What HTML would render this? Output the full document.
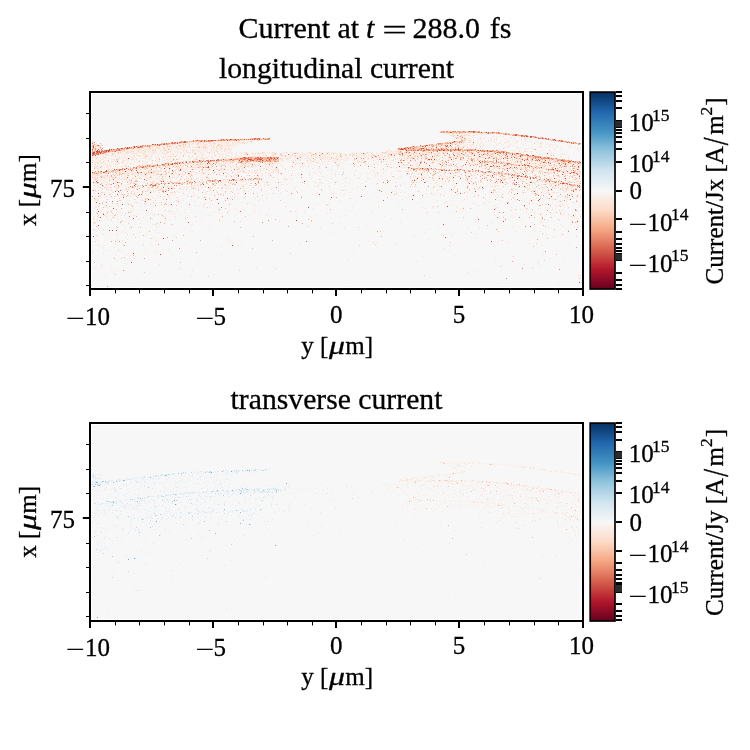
<!DOCTYPE html>
<html lang="en"><head><meta charset="utf-8"><title>Current at t = 288.0 fs</title>
<style>html,body{margin:0;padding:0;background:#fff}svg{display:block}text{fill:#000;stroke:#000;stroke-width:.3px}</style></head><body>
<svg width="750" height="750" viewBox="0 0 750 750" font-family="'Liberation Serif', 'DejaVu Serif', serif">
<defs><linearGradient id="cb" x1="0" y1="1" x2="0" y2="0"><stop offset="0.0" stop-color="#67001f"/><stop offset="0.1" stop-color="#b2182b"/><stop offset="0.2" stop-color="#d6604d"/><stop offset="0.3" stop-color="#f4a582"/><stop offset="0.4" stop-color="#fddbc7"/><stop offset="0.5" stop-color="#f7f7f7"/><stop offset="0.6" stop-color="#d1e5f0"/><stop offset="0.7" stop-color="#92c5de"/><stop offset="0.8" stop-color="#4393c3"/><stop offset="0.9" stop-color="#2166ac"/><stop offset="1.0" stop-color="#053061"/></linearGradient></defs>
<rect width="750" height="750" fill="#fff"/>
<g font-size="30.0"><text x="238.4" y="37.9">Current at</text><text x="366" y="37.9" font-style="italic">t</text><text transform="translate(382.22,39.1) scale(1.46,0.88)" stroke="none">=</text><text x="412.6" y="37.9">288.0</text><text x="489.8" y="37.9">fs</text></g>
<rect x="92.2" y="94.1" width="488.5" height="192.7" fill="#f7f7f7"/>
<g stroke-width="1" fill="none" shape-rendering="crispEdges" transform="translate(0,0.5)"><path stroke="#f8f1ed" d="M466 132h1M446 133h1M465 133h1M447 134h1M465 134h1M487 134h1M489 134h1M501 134h1M481 135h1M506 135h1M455 136h1M473 136h1M495 136h1M503 136h1M460 137h1M464 137h1M466 137h1M472 137h1M477 137h1M497 137h1M508 137h1M512 137h2M527 137h1M529 137h1M478 138h2M512 138h1M459 139h1M481 139h1M492 139h1M513 139h1M240 140h1M496 140h1M509 140h1M518 140h1M186 141h1M225 141h1M471 141h1M473 141h1M484 141h1M528 141h1M530 141h1M541 141h1M545 141h1M190 142h1M206 142h1M210 142h1M212 142h1M225 142h1M240 142h2M249 142h1M465 142h1M468 142h1M481 142h1M485 142h2M498 142h1M504 142h1M514 142h1M187 143h1M191 143h1M205 143h1M211 143h1M229 143h2M236 143h1M239 143h1M470 143h1M531 143h1M562 143h1M171 144h1M177 144h1M179 144h1M182 144h1M211 144h1M223 144h1M241 144h1M498 144h1M532 144h1M161 145h1M163 145h1M173 145h2M182 145h1M187 145h1M216 145h1M219 145h1M228 145h1M460 145h1M463 145h1M466 145h1M501 145h1M522 145h2M151 146h1M153 146h1M171 146h1M173 146h1M195 146h1M218 146h1M225 146h1M456 146h1M478 146h1M492 146h1M495 146h1M501 146h1M505 146h1M530 146h1M556 146h1M136 147h1M168 147h1M171 147h1M215 147h1M465 147h1M472 147h1M484 147h1M486 147h1M489 147h1M500 147h1M506 147h2M518 147h1M522 147h1M529 147h2M532 147h1M545 147h2M548 147h1M558 147h1M154 148h1M160 148h1M185 148h1M187 148h2M230 148h1M476 148h1M489 148h1M494 148h1M496 148h1M498 148h1M505 148h1M545 148h1M562 148h1M566 148h1M571 148h1M573 148h1M125 149h1M134 149h1M137 149h1M181 149h1M191 149h1M206 149h1M478 149h1M483 149h1M524 149h1M549 149h1M560 149h1M128 150h1M149 150h1M162 150h1M178 150h1M210 150h1M431 150h1M501 150h1M504 150h1M542 150h1M548 150h1M574 150h1M164 151h1M196 151h1M203 151h2M219 151h1M226 151h1M403 151h1M411 151h1M425 151h1M438 151h1M441 151h1M443 151h1M506 151h1M521 151h1M528 151h1M540 151h1M553 151h1M556 151h2M560 151h1M564 151h1M111 152h1M115 152h1M137 152h1M160 152h1M172 152h1M183 152h1M198 152h2M204 152h1M226 152h1M237 152h2M241 152h1M255 152h1M299 152h1M312 152h1M316 152h1M323 152h1M329 152h2M335 152h1M337 152h1M339 152h1M351 152h1M364 152h1M366 152h1M373 152h1M393 152h1M421 152h1M475 152h1M480 152h1M520 152h1M525 152h1M545 152h1M561 152h1M119 153h1M154 153h1M174 153h2M180 153h1M244 153h2M261 153h1M277 153h1M319 153h1M324 153h1M342 153h1M354 153h2M391 153h1M403 153h1M407 153h1M432 153h1M445 153h1M467 153h1M483 153h1M494 153h1M522 153h1M529 153h1M532 153h1M538 153h1M551 153h1M566 153h1M102 154h1M104 154h1M111 154h1M119 154h1M130 154h1M138 154h1M177 154h1M227 154h1M258 154h2M261 154h1M264 154h1M268 154h1M279 154h1M290 154h1M299 154h1M303 154h1M318 154h1M320 154h1M322 154h1M336 154h1M341 154h2M351 154h1M357 154h1M366 154h2M369 154h2M375 154h1M428 154h1M436 154h1M477 154h1M495 154h1M511 154h1M519 154h1M533 154h1M537 154h1M563 154h1M99 155h1M109 155h1M126 155h1M167 155h1M170 155h1M186 155h1M210 155h1M239 155h1M245 155h1M252 155h1M296 155h1M320 155h1M333 155h1M338 155h1M358 155h1M376 155h1M385 155h1M448 155h1M452 155h1M461 155h1M469 155h1M488 155h1M492 155h1M506 155h1M538 155h1M542 155h2M550 155h1M559 155h1M561 155h1M567 155h1M107 156h1M111 156h1M141 156h1M143 156h1M169 156h1M185 156h1M237 156h1M262 156h1M271 156h1M273 156h1M279 156h1M294 156h1M312 156h1M326 156h1M344 156h1M347 156h1M367 156h1M369 156h1M397 156h1M409 156h1M411 156h1M423 156h1M441 156h1M448 156h2M485 156h1M488 156h1M497 156h1M504 156h1M111 157h1M120 157h3M141 157h1M143 157h1M213 157h1M216 157h1M236 157h1M238 157h1M284 157h1M297 157h3M308 157h2M314 157h1M346 157h1M352 157h1M357 157h1M370 157h1M385 157h1M389 157h1M394 157h3M407 157h1M444 157h1M466 157h1M497 157h1M525 157h1M552 157h1M104 158h1M117 158h1M122 158h1M141 158h1M171 158h1M189 158h1M191 158h1M210 158h1M214 158h1M317 158h2M325 158h1M334 158h1M344 158h1M350 158h1M365 158h1M373 158h1M411 158h1M436 158h1M441 158h1M481 158h1M484 158h1M498 158h2M504 158h1M518 158h1M110 159h1M119 159h1M125 159h1M142 159h1M279 159h1M297 159h1M309 159h1M322 159h1M327 159h1M332 159h1M334 159h1M339 159h1M356 159h1M358 159h1M368 159h1M375 159h1M387 159h1M402 159h1M410 159h1M424 159h1M446 159h1M450 159h1M467 159h1M490 159h1M494 159h1M507 159h1M515 159h1M93 160h1M111 160h1M122 160h1M132 160h1M167 160h1M281 160h2M296 160h1M298 160h1M313 160h1M320 160h1M323 160h1M327 160h1M338 160h1M360 160h1M386 160h1M435 160h1M449 160h1M460 160h1M465 160h1M488 160h1M523 160h1M555 160h1M97 161h1M118 161h1M124 161h1M143 161h2M156 161h1M161 161h1M180 161h1M220 161h1M252 161h1M281 161h1M317 161h1M319 161h1M336 161h1M344 161h1M368 161h1M370 161h1M378 161h2M398 161h1M412 161h1M419 161h1M435 161h1M441 161h1M458 161h1M467 161h1M471 161h1M507 161h1M535 161h1M547 161h1M108 162h1M181 162h1M221 162h1M225 162h1M227 162h1M243 162h1M250 162h1M264 162h1M320 162h1M322 162h1M342 162h1M346 162h1M355 162h1M360 162h1M365 162h1M378 162h1M443 162h1M464 162h1M470 162h1M529 162h1M555 162h1M96 163h1M186 163h1M203 163h1M211 163h1M224 163h1M233 163h1M268 163h1M301 163h1M305 163h1M314 163h1M347 163h1M416 163h1M455 163h1M471 163h1M577 163h1M129 164h1M178 164h1M190 164h1M195 164h1M218 164h1M237 164h1M251 164h1M259 164h1M271 164h1M291 164h1M303 164h1M312 164h3M356 164h1M360 164h1M378 164h1M391 164h1M424 164h1M430 164h1M451 164h1M458 164h1M493 164h1M495 164h1M518 164h1M521 164h1M531 164h2M534 164h1M536 164h1M539 164h1M560 164h1M562 164h1M236 165h1M259 165h1M266 165h1M274 165h1M282 165h1M289 165h1M311 165h1M332 165h1M356 165h1M373 165h1M382 165h1M390 165h1M414 165h1M465 165h1M467 165h1M477 165h1M502 165h1M565 165h1M568 165h1M571 165h1M578 165h1M135 166h1M156 166h1M255 166h1M289 166h1M293 166h1M317 166h1M346 166h1M383 166h1M412 166h1M415 166h1M427 166h1M462 166h1M471 166h1M506 166h1M512 166h1M526 166h1M558 166h2M571 166h1M116 167h1M122 167h1M125 167h1M127 167h1M137 167h1M169 167h1M220 167h1M223 167h1M226 167h1M229 167h1M238 167h1M242 167h1M250 167h1M289 167h1M297 167h1M306 167h1M410 167h1M433 167h1M501 167h1M556 167h1M563 167h1M567 167h1M165 168h1M189 168h1M205 168h1M226 168h1M230 168h1M232 168h1M270 168h1M284 168h1M299 168h1M308 168h1M313 168h1M347 168h1M464 168h2M483 168h1M511 168h1M532 168h1M103 169h1M105 169h1M112 169h1M127 169h1M131 169h1M134 169h1M142 169h1M171 169h1M188 169h1M207 169h1M212 169h1M223 169h1M226 169h1M245 169h1M265 169h1M284 169h1M317 169h1M326 169h1M330 169h1M345 169h1M531 169h1M547 169h1M557 169h1M572 169h1M127 170h1M154 170h1M165 170h1M226 170h2M229 170h1M234 170h1M262 170h1M284 170h1M290 170h1M385 170h1M391 170h1M394 170h1M418 170h1M427 170h1M437 170h3M453 170h1M455 170h1M482 170h1M521 170h1M534 170h1M124 171h1M136 171h1M147 171h1M188 171h1M204 171h1M227 171h1M236 171h1M252 171h1M275 171h2M288 171h1M317 171h1M358 171h1M384 171h2M412 171h1M466 171h1M476 171h1M510 171h1M528 171h1M556 171h1M560 171h1M570 171h1M143 172h1M145 172h1M161 172h1M163 172h1M179 172h1M184 172h1M206 172h1M219 172h1M234 172h1M240 172h1M271 172h1M281 172h1M366 172h2M474 172h1M526 172h1M530 172h1M579 172h1M99 173h1M114 173h1M133 173h1M155 173h1M178 173h1M193 173h1M212 173h1M227 173h1M235 173h1M243 173h1M250 173h1M265 173h1M274 173h1M319 173h1M369 173h1M381 173h1M390 173h1M418 173h1M455 173h1M478 173h1M480 173h1M492 173h1M534 173h1M539 173h1M546 173h2M96 174h1M102 174h1M154 174h1M196 174h1M206 174h1M211 174h1M224 174h1M280 174h1M383 174h1M443 174h1M464 174h1M495 174h1M507 174h1M533 174h1M548 174h1M147 175h1M155 175h1M188 175h1M245 175h1M258 175h1M358 175h1M387 175h1M395 175h1M435 175h1M475 175h1M481 175h1M533 175h1M554 175h1M564 175h1M97 176h1M149 176h1M205 176h1M214 176h1M274 176h1M279 176h1M299 176h1M335 176h1M373 176h1M375 176h1M457 176h1M461 176h1M473 176h1M475 176h1M484 176h1M501 176h1M519 176h1M578 176h1M130 177h1M147 177h1M177 177h1M189 177h1M200 177h1M235 177h1M245 177h1M251 177h1M256 177h1M261 177h1M265 177h1M284 177h1M309 177h1M381 177h1M450 177h1M499 177h1M543 177h1M580 177h1M159 178h1M165 178h1M172 178h1M200 178h1M211 178h1M241 178h1M243 178h1M293 178h1M302 178h1M378 178h1M424 178h1M448 178h1M512 178h1M515 178h1M521 178h1M538 178h1M98 179h1M103 179h1M108 179h1M117 179h1M125 179h1M152 179h1M159 179h1M164 179h1M182 179h1M197 179h1M230 179h1M283 179h1M285 179h1M340 179h1M353 179h1M382 179h1M386 179h1M420 179h1M494 179h1M512 179h1M532 179h1M94 180h1M110 180h1M134 180h1M141 180h1M152 180h1M165 180h1M240 180h1M263 180h1M303 180h1M338 180h1M351 180h1M374 180h1M392 180h1M402 180h1M459 180h1M492 180h1M502 180h1M506 180h1M524 180h1M526 180h1M563 180h1M566 180h1M101 181h1M189 181h1M223 181h1M227 181h2M233 181h1M243 181h1M257 181h1M263 181h1M283 181h1M312 181h1M350 181h1M376 181h1M462 181h1M503 181h1M526 181h1M570 181h1M575 181h1M92 182h1M96 182h1M116 182h1M122 182h1M136 182h2M139 182h1M239 182h1M242 182h1M276 182h1M400 182h1M526 182h1M538 182h1M95 183h1M129 183h1M136 183h1M193 183h1M199 183h2M268 183h1M278 183h1M294 183h1M347 183h1M403 183h1M432 183h1M531 183h1M185 184h1M188 184h1M194 184h1M255 184h1M276 184h1M298 184h1M349 184h1M397 184h1M404 184h1M466 184h1M480 184h1M538 184h1M547 184h1M557 184h1M105 185h1M109 185h1M173 185h1M191 185h1M200 185h1M222 185h1M237 185h1M258 185h1M379 185h1M423 185h1M489 185h1M498 185h1M509 185h1M513 185h1M532 185h2M120 186h1M125 186h1M170 186h1M214 186h2M230 186h1M373 186h1M416 186h1M427 186h1M457 186h1M552 186h1M563 186h1M568 186h1M571 186h1M102 187h1M121 187h1M125 187h1M215 187h1M242 187h1M275 187h1M306 187h1M334 187h1M526 187h1M529 187h1M548 187h1M553 187h1M555 187h1M569 187h1M574 187h1M128 188h1M132 188h1M147 188h1M155 188h1M251 188h1M280 188h1M329 188h1M371 188h1M428 188h1M445 188h1M553 188h1M94 189h1M113 189h1M123 189h1M152 189h1M158 189h1M169 189h1M173 189h1M181 189h1M212 189h1M246 189h1M256 189h1M312 189h1M336 189h1M346 189h1M397 189h1M446 189h1M472 189h1M479 189h1M490 189h1M518 189h1M536 189h1M574 189h1M92 190h1M107 190h1M122 190h1M124 190h1M155 190h1M167 190h1M195 190h1M249 190h1M266 190h1M462 190h1M465 190h1M499 190h1M575 190h1M95 191h1M111 191h1M137 191h2M141 191h1M202 191h1M210 191h1M253 191h1M297 191h1M310 191h1M384 191h1M391 191h1M400 191h1M421 191h1M458 191h1M537 191h1M233 192h1M239 192h1M268 192h1M367 192h1M485 192h1M492 192h1M117 193h1M159 193h1M181 193h1M213 193h1M223 193h2M256 193h1M264 193h1M280 193h1M373 193h1M435 193h1M502 193h1M551 193h1M561 193h1M567 193h1M120 194h1M142 194h1M189 194h1M316 194h2M355 194h2M359 194h1M380 194h1M509 194h1M546 194h1M564 194h1M97 195h1M119 195h2M130 195h1M139 195h1M147 195h1M159 195h1M503 195h1M510 195h1M539 195h1M125 196h1M128 196h1M193 196h1M255 196h1M316 196h1M398 196h1M406 196h1M448 196h1M527 196h1M94 197h1M101 197h1M113 197h1M157 197h1M191 197h1M419 197h1M451 197h1M523 197h1M557 197h1M569 197h1M99 198h1M114 198h1M151 198h1M162 198h1M282 198h2M287 198h1M359 198h1M530 198h1M535 198h1M567 198h1M140 199h1M146 199h1M262 199h1M369 199h1M390 199h1M516 199h1M544 199h1M183 200h1M197 200h1M215 200h1M423 200h1M516 200h1M559 200h1M95 201h1M114 201h1M116 201h1M125 201h1M135 201h1M174 201h1M244 201h1M276 201h1M556 201h1M95 202h1M151 202h1M202 202h1M329 202h1M355 202h1M98 203h1M125 203h1M131 203h1M160 203h1M255 203h1M297 203h1M314 203h1M321 203h1M431 203h1M509 203h1M568 203h1M202 204h1M231 204h1M244 204h1M296 204h1M458 204h1M533 204h1M572 204h1M194 205h1M470 205h1M159 206h1M165 206h1M195 206h1M106 207h1M334 207h1M373 207h1M379 207h1M434 207h1M463 207h2M525 207h1M572 207h1M112 208h1M141 208h1M228 208h1M296 208h1M344 208h1M352 208h1M460 208h1M541 208h1M552 208h1M103 209h1M225 209h1M408 209h1M528 209h1M117 210h1M169 210h1M180 210h1M261 210h1M321 210h1M327 210h1M350 210h1M545 210h1M93 211h1M141 211h1M167 211h1M254 211h1M278 211h1M420 211h1M478 211h1M564 211h1M574 211h1M135 212h1M161 212h1M199 212h1M216 212h1M222 212h1M329 212h1M331 212h1M428 212h1M502 212h1M524 212h1M569 212h1M577 212h1M132 213h1M180 213h1M185 213h1M241 213h1M511 213h1M104 214h1M137 214h1M235 214h1M417 214h1M426 214h1M448 214h1M453 214h1M547 214h1M561 214h1M574 214h1M295 215h1M496 215h1M510 215h1M110 216h1M200 216h1M269 216h1M341 216h1M561 216h1M576 216h2M99 217h1M309 217h1M343 217h1M137 218h1M541 218h1M92 219h1M185 219h1M346 219h1M376 219h1M573 219h1M166 220h1M271 220h1M423 220h1M451 220h1M532 220h1M560 220h1M578 220h1M146 221h1M170 221h1M185 221h1M192 221h1M196 221h1M210 221h1M267 222h1M358 222h1M383 222h1M501 222h1M545 222h1M567 222h1M134 223h1M378 223h1M114 224h1M135 224h1M193 224h1M329 224h1M414 224h1M449 224h1M561 224h1M576 224h1M300 225h1M518 226h1M105 227h2M108 227h1M381 227h1M459 227h1M488 227h1M100 228h1M115 228h1M174 228h1M366 228h1M499 228h1M370 229h1M387 230h1M400 230h1M446 230h1M121 231h1M176 231h1M224 231h1M563 231h1M133 232h1M177 232h1M529 232h1M99 233h1M146 233h1M314 233h1M338 233h1M540 233h1M566 233h2M565 234h1M152 236h1M208 236h1M243 236h1M423 237h1M483 237h1M107 239h1M156 239h1M493 239h1M138 240h1M151 240h1M350 240h1M498 240h1M509 240h1M156 241h1M480 241h1M120 242h1M166 242h1M497 242h1M553 242h1M111 243h1M122 243h1M141 243h1M181 243h1M114 244h1M490 244h1M156 245h1M551 245h1M462 246h1M551 246h1M191 247h1M358 247h1M369 247h1M118 248h1M122 250h1M185 250h1M576 250h1M560 251h1M576 251h1M120 252h1M168 252h1M184 253h1M196 253h1M279 253h1M460 253h1M530 254h1M127 255h1M544 255h1M312 256h1M324 257h1M421 258h1M105 261h1M473 261h1M493 261h1M564 261h1M159 263h1M409 263h1M527 263h1M111 266h1M239 266h1M123 267h1M148 268h1M181 269h1M206 269h1M97 270h1M318 270h1M388 271h1M570 272h1M519 273h1M396 275h1M102 276h1M271 276h1M469 276h1M237 277h1M560 277h1M93 281h1M137 281h1M550 281h1M114 284h1M231 286h1"/><path stroke="#f9ece4" d="M445 133h1M470 133h1M472 133h1M485 133h1M446 134h1M450 134h2M456 134h1M458 134h2M467 134h1M473 134h1M477 134h1M450 135h1M463 135h1M465 135h1M469 135h1M483 135h1M500 135h1M509 135h1M452 136h1M457 136h1M462 136h1M471 136h1M481 136h1M493 136h1M498 136h1M502 136h1M511 136h1M517 136h1M454 137h1M478 137h1M493 137h1M510 137h1M515 137h1M524 137h1M459 138h1M484 138h1M493 138h1M511 138h1M464 139h1M466 139h3M471 139h1M486 139h1M506 139h1M510 139h1M514 139h1M529 139h1M533 139h1M542 139h1M237 140h1M244 140h2M247 140h1M249 140h2M253 140h1M466 140h1M476 140h1M493 140h1M514 140h1M516 140h1M213 141h2M216 141h1M219 141h2M222 141h1M226 141h1M228 141h3M233 141h1M237 141h2M240 141h1M243 141h1M248 141h2M252 141h1M464 141h3M475 141h1M489 141h1M500 141h1M510 141h1M531 141h1M534 141h1M559 141h1M188 142h1M191 142h4M196 142h1M199 142h2M213 142h1M216 142h1M218 142h4M227 142h1M230 142h1M234 142h1M245 142h2M250 142h1M466 142h1M470 142h1M474 142h1M478 142h1M480 142h1M487 142h1M495 142h1M497 142h1M509 142h1M533 142h1M537 142h1M539 142h1M545 142h1M562 142h1M190 143h1M195 143h2M199 143h1M203 143h1M206 143h2M217 143h1M220 143h1M222 143h3M227 143h1M241 143h1M243 143h1M247 143h1M455 143h1M472 143h1M475 143h1M478 143h1M504 143h1M509 143h1M514 143h1M521 143h1M525 143h1M535 143h1M541 143h1M174 144h1M178 144h1M184 144h1M187 144h1M190 144h3M204 144h1M207 144h1M215 144h1M217 144h1M220 144h1M222 144h1M232 144h2M449 144h1M453 144h2M468 144h1M491 144h1M496 144h1M503 144h1M506 144h1M509 144h1M513 144h1M538 144h1M551 144h1M553 144h2M566 144h1M569 144h1M164 145h1M171 145h1M176 145h2M183 145h2M198 145h1M200 145h1M210 145h1M220 145h1M222 145h2M226 145h1M230 145h2M235 145h1M442 145h1M446 145h1M449 145h1M451 145h1M468 145h1M470 145h2M482 145h1M491 145h1M496 145h1M509 145h1M512 145h1M525 145h1M531 145h1M552 145h1M556 145h2M575 145h1M154 146h1M158 146h1M162 146h2M172 146h1M175 146h1M179 146h1M181 146h1M188 146h1M192 146h1M204 146h1M208 146h1M221 146h1M233 146h1M427 146h3M448 146h1M464 146h2M471 146h1M483 146h1M487 146h1M502 146h1M512 146h1M551 146h1M555 146h1M557 146h1M148 147h1M152 147h1M155 147h1M158 147h1M178 147h1M180 147h1M182 147h1M185 147h2M193 147h1M195 147h1M200 147h1M211 147h1M222 147h1M224 147h1M228 147h1M230 147h1M435 147h1M441 147h1M444 147h1M446 147h1M454 147h1M461 147h1M470 147h1M478 147h1M504 147h1M552 147h1M555 147h1M561 147h1M142 148h1M145 148h2M149 148h1M151 148h1M153 148h1M157 148h2M165 148h1M167 148h1M169 148h1M177 148h2M183 148h1M195 148h1M211 148h1M216 148h1M219 148h1M227 148h1M231 148h1M432 148h1M435 148h1M475 148h1M479 148h1M504 148h1M507 148h1M515 148h1M532 148h1M553 148h1M560 148h1M127 149h1M129 149h3M141 149h1M143 149h1M147 149h1M154 149h1M158 149h1M160 149h1M165 149h1M175 149h1M177 149h3M182 149h3M186 149h2M190 149h1M196 149h1M199 149h1M207 149h2M211 149h1M213 149h1M216 149h1M229 149h1M422 149h1M449 149h1M492 149h1M496 149h2M499 149h2M516 149h1M542 149h1M555 149h1M579 149h2M123 150h1M126 150h1M130 150h2M135 150h1M142 150h1M145 150h2M150 150h1M157 150h1M161 150h1M163 150h1M166 150h1M172 150h1M175 150h1M177 150h1M190 150h2M194 150h1M196 150h1M198 150h1M200 150h1M204 150h1M207 150h1M220 150h1M231 150h1M395 150h3M399 150h1M509 150h1M519 150h1M525 150h1M538 150h1M578 150h1M100 151h1M116 151h1M123 151h1M125 151h1M129 151h1M136 151h1M141 151h3M150 151h1M154 151h1M157 151h1M159 151h2M166 151h1M180 151h1M188 151h1M202 151h1M205 151h1M207 151h1M215 151h1M220 151h1M224 151h1M383 151h1M391 151h1M396 151h1M399 151h1M412 151h2M417 151h1M429 151h2M434 151h1M446 151h1M449 151h1M453 151h3M464 151h1M473 151h2M507 151h1M514 151h1M525 151h1M530 151h1M537 151h1M551 151h1M565 151h1M113 152h1M119 152h1M125 152h1M132 152h2M141 152h1M143 152h1M147 152h1M149 152h1M151 152h2M154 152h2M158 152h1M164 152h1M174 152h1M181 152h1M188 152h1M190 152h1M197 152h1M202 152h1M205 152h1M208 152h1M211 152h1M220 152h1M245 152h1M252 152h1M263 152h2M277 152h1M279 152h1M289 152h1M291 152h1M294 152h3M302 152h1M311 152h1M326 152h1M331 152h1M341 152h1M352 152h1M358 152h1M360 152h1M369 152h1M376 152h1M379 152h1M387 152h2M391 152h1M397 152h1M405 152h1M411 152h1M416 152h1M419 152h1M446 152h1M455 152h1M458 152h1M493 152h1M505 152h1M551 152h1M566 152h1M107 153h1M109 153h1M114 153h1M117 153h1M121 153h1M125 153h2M130 153h1M134 153h1M136 153h1M138 153h1M141 153h2M145 153h1M151 153h1M153 153h1M162 153h2M170 153h1M189 153h1M208 153h1M210 153h2M217 153h1M221 153h2M229 153h1M239 153h1M243 153h1M248 153h1M257 153h1M270 153h1M274 153h1M281 153h1M290 153h1M299 153h1M303 153h1M311 153h1M313 153h1M316 153h1M323 153h1M340 153h1M343 153h1M353 153h1M358 153h1M366 153h2M372 153h2M379 153h1M387 153h2M390 153h1M400 153h1M409 153h1M423 153h1M427 153h1M430 153h1M439 153h1M448 153h1M453 153h1M457 153h1M468 153h3M479 153h2M501 153h2M531 153h1M573 153h2M100 154h1M109 154h1M118 154h1M122 154h1M124 154h1M128 154h1M133 154h2M139 154h1M143 154h1M147 154h1M154 154h4M180 154h1M184 154h1M193 154h2M197 154h1M199 154h1M205 154h1M209 154h1M214 154h1M221 154h1M226 154h1M230 154h1M243 154h1M249 154h1M252 154h1M254 154h1M262 154h2M265 154h1M267 154h1M273 154h2M277 154h1M294 154h1M301 154h1M307 154h1M315 154h1M319 154h1M323 154h1M325 154h2M329 154h1M343 154h2M362 154h1M364 154h1M376 154h1M381 154h1M397 154h1M407 154h1M424 154h1M440 154h1M446 154h2M473 154h1M510 154h1M513 154h1M558 154h1M562 154h1M564 154h1M567 154h1M100 155h1M106 155h1M118 155h1M128 155h1M131 155h1M134 155h1M141 155h1M152 155h2M164 155h1M166 155h1M168 155h2M188 155h1M195 155h2M198 155h1M202 155h2M205 155h1M216 155h1M220 155h1M232 155h1M235 155h1M243 155h1M247 155h1M249 155h1M253 155h2M271 155h2M274 155h1M279 155h2M292 155h1M299 155h3M305 155h1M313 155h1M316 155h1M321 155h4M331 155h1M343 155h1M350 155h2M355 155h1M360 155h2M363 155h1M366 155h1M381 155h1M396 155h1M406 155h1M414 155h1M416 155h1M438 155h1M440 155h1M453 155h1M468 155h1M498 155h1M510 155h1M518 155h1M568 155h1M94 156h2M97 156h2M104 156h1M110 156h1M115 156h1M119 156h1M121 156h1M127 156h1M135 156h1M144 156h1M148 156h2M161 156h5M172 156h1M186 156h1M199 156h1M206 156h1M221 156h1M229 156h1M234 156h1M240 156h1M245 156h1M247 156h1M260 156h1M287 156h2M291 156h1M296 156h3M302 156h1M304 156h1M313 156h2M319 156h1M322 156h1M325 156h1M328 156h2M348 156h1M352 156h1M355 156h2M358 156h2M361 156h1M364 156h1M370 156h1M372 156h1M377 156h1M382 156h1M387 156h1M389 156h4M394 156h1M399 156h1M418 156h1M431 156h1M433 156h1M439 156h1M464 156h1M475 156h1M481 156h1M483 156h2M487 156h1M494 156h1M511 156h1M544 156h1M561 156h1M580 156h1M93 157h1M95 157h1M99 157h1M103 157h3M117 157h1M119 157h1M124 157h1M129 157h1M144 157h1M150 157h1M157 157h1M166 157h1M180 157h1M193 157h1M200 157h1M202 157h1M217 157h1M221 157h2M239 157h1M280 157h2M290 157h2M306 157h1M316 157h1M326 157h2M330 157h1M334 157h1M338 157h1M345 157h1M358 157h1M363 157h1M366 157h3M377 157h2M380 157h1M387 157h1M400 157h1M431 157h1M433 157h1M435 157h2M439 157h2M451 157h2M471 157h1M477 157h1M510 157h1M555 157h1M568 157h1M571 157h1M102 158h1M106 158h2M109 158h1M121 158h1M123 158h1M131 158h1M136 158h1M143 158h1M156 158h2M159 158h1M166 158h1M196 158h1M201 158h1M207 158h1M212 158h1M286 158h1M293 158h2M304 158h1M307 158h1M311 158h1M316 158h1M319 158h1M343 158h1M358 158h1M378 158h2M382 158h1M390 158h1M394 158h1M397 158h1M401 158h1M433 158h1M440 158h1M442 158h1M448 158h1M457 158h3M486 158h1M491 158h2M497 158h1M500 158h1M528 158h1M530 158h1M565 158h1M95 159h1M122 159h1M124 159h1M128 159h1M135 159h1M149 159h1M156 159h1M161 159h1M169 159h1M174 159h1M181 159h1M189 159h1M194 159h1M197 159h1M280 159h1M286 159h1M294 159h1M300 159h1M312 159h1M335 159h2M340 159h1M343 159h1M351 159h1M361 159h1M371 159h1M373 159h1M384 159h1M420 159h1M430 159h1M432 159h1M443 159h1M464 159h1M481 159h1M495 159h1M503 159h1M510 159h1M513 159h1M516 159h2M523 159h1M529 159h1M533 159h1M579 159h1M114 160h1M117 160h2M134 160h1M140 160h1M146 160h1M148 160h1M171 160h1M193 160h1M235 160h3M248 160h1M280 160h1M299 160h1M302 160h1M311 160h1M314 160h1M319 160h1M321 160h1M328 160h1M339 160h1M347 160h1M352 160h1M365 160h1M375 160h1M398 160h2M439 160h1M443 160h1M452 160h1M476 160h1M479 160h1M492 160h1M508 160h1M517 160h1M543 160h1M580 160h1M92 161h2M95 161h1M102 161h1M108 161h1M113 161h1M122 161h1M137 161h1M146 161h1M159 161h1M170 161h1M178 161h1M181 161h1M203 161h1M212 161h1M215 161h1M224 161h1M227 161h1M244 161h1M273 161h1M286 161h1M296 161h1M309 161h1M311 161h2M314 161h1M324 161h2M329 161h1M332 161h1M338 161h1M340 161h1M353 161h1M356 161h1M363 161h1M366 161h1M372 161h1M383 161h1M385 161h3M395 161h1M407 161h1M409 161h1M425 161h1M439 161h1M494 161h1M526 161h1M537 161h1M542 161h1M545 161h2M550 161h1M574 161h1M93 162h1M101 162h1M105 162h1M112 162h1M116 162h1M134 162h1M137 162h1M144 162h1M146 162h2M156 162h2M159 162h1M161 162h1M199 162h1M209 162h4M217 162h1M219 162h1M222 162h1M235 162h1M237 162h1M242 162h1M244 162h1M249 162h1M256 162h2M267 162h1M274 162h1M279 162h1M294 162h1M296 162h1M300 162h1M317 162h1M321 162h1M327 162h1M334 162h1M358 162h1M373 162h1M383 162h1M394 162h1M397 162h1M435 162h1M457 162h1M459 162h1M461 162h1M472 162h2M478 162h1M506 162h1M532 162h1M534 162h1M542 162h1M549 162h1M551 162h2M559 162h2M565 162h1M94 163h1M100 163h1M102 163h1M108 163h1M113 163h1M122 163h1M125 163h1M131 163h1M143 163h1M146 163h1M151 163h1M154 163h1M157 163h1M171 163h1M178 163h1M185 163h1M189 163h1M191 163h1M195 163h3M199 163h1M220 163h2M227 163h1M229 163h1M232 163h1M238 163h3M247 163h1M249 163h1M258 163h1M267 163h1M271 163h1M280 163h1M292 163h2M306 163h1M309 163h1M311 163h1M318 163h1M327 163h1M333 163h2M338 163h1M340 163h1M345 163h1M374 163h1M377 163h1M385 163h1M387 163h1M400 163h2M410 163h1M429 163h1M446 163h1M457 163h1M464 163h1M468 163h1M480 163h1M487 163h1M503 163h1M525 163h1M532 163h1M536 163h1M549 163h1M554 163h1M567 163h1M576 163h1M93 164h1M99 164h1M108 164h1M113 164h1M116 164h2M125 164h2M132 164h1M155 164h1M180 164h1M192 164h1M208 164h1M227 164h2M231 164h1M235 164h1M246 164h1M248 164h1M253 164h1M256 164h1M262 164h1M272 164h1M277 164h1M280 164h2M308 164h1M328 164h1M377 164h1M380 164h1M402 164h1M406 164h1M438 164h1M483 164h1M488 164h1M500 164h1M517 164h1M533 164h1M550 164h1M552 164h2M555 164h1M559 164h1M567 164h1M575 164h2M101 165h1M115 165h1M117 165h1M123 165h1M130 165h2M140 165h1M142 165h1M144 165h1M151 165h1M161 165h1M177 165h1M184 165h1M194 165h1M197 165h1M202 165h2M207 165h1M217 165h2M223 165h2M229 165h1M239 165h3M249 165h1M267 165h1M276 165h1M280 165h1M325 165h1M334 165h1M364 165h1M417 165h1M434 165h1M462 165h1M474 165h1M487 165h1M498 165h1M509 165h1M517 165h1M536 165h1M539 165h1M541 165h1M547 165h1M570 165h1M574 165h1M580 165h1M92 166h1M117 166h1M122 166h1M127 166h1M158 166h1M171 166h1M198 166h1M201 166h1M206 166h1M219 166h1M234 166h1M241 166h1M244 166h1M250 166h1M254 166h1M262 166h2M266 166h1M268 166h1M281 166h2M300 166h1M311 166h1M324 166h1M332 166h1M340 166h1M416 166h1M420 166h2M432 166h1M439 166h1M449 166h1M452 166h1M455 166h1M473 166h1M478 166h1M501 166h1M518 166h1M523 166h2M549 166h1M569 166h1M96 167h1M102 167h1M117 167h2M149 167h1M152 167h1M155 167h1M161 167h2M164 167h2M168 167h1M176 167h1M182 167h1M200 167h1M204 167h1M210 167h1M221 167h1M230 167h2M234 167h3M241 167h1M255 167h1M282 167h1M294 167h1M302 167h1M377 167h1M429 167h1M445 167h2M454 167h1M476 167h1M479 167h3M512 167h1M519 167h1M544 167h1M548 167h1M568 167h1M570 167h1M576 167h2M95 168h1M104 168h1M113 168h2M118 168h2M125 168h1M128 168h1M131 168h1M150 168h1M154 168h1M168 168h1M171 168h1M176 168h2M201 168h3M207 168h1M215 168h1M220 168h1M228 168h1M231 168h1M265 168h1M268 168h1M272 168h1M278 168h1M291 168h1M340 168h1M387 168h1M396 168h1M409 168h1M445 168h1M449 168h1M453 168h1M456 168h1M459 168h1M468 168h1M471 168h1M510 168h1M514 168h1M519 168h1M522 168h1M531 168h1M535 168h1M566 168h1M94 169h1M101 169h1M107 169h2M135 169h1M137 169h1M141 169h1M143 169h1M159 169h1M172 169h1M175 169h1M177 169h2M184 169h1M196 169h1M198 169h1M200 169h2M230 169h1M239 169h1M255 169h2M269 169h1M272 169h1M319 169h1M327 169h1M336 169h1M353 169h1M375 169h1M381 169h1M407 169h1M411 169h2M430 169h1M474 169h1M482 169h1M489 169h1M512 169h1M528 169h1M556 169h1M575 169h1M580 169h1M97 170h1M121 170h1M124 170h1M135 170h1M137 170h1M147 170h1M156 170h1M184 170h1M190 170h1M192 170h1M199 170h1M203 170h1M205 170h2M209 170h2M218 170h1M223 170h1M254 170h1M269 170h1M288 170h1M293 170h2M314 170h1M332 170h1M356 170h1M397 170h1M417 170h1M420 170h1M496 170h1M508 170h1M531 170h1M536 170h1M542 170h1M546 170h2M550 170h1M103 171h1M115 171h1M120 171h1M141 171h1M146 171h1M152 171h1M159 171h1M169 171h1M174 171h1M198 171h1M217 171h1M238 171h2M242 171h1M244 171h1M262 171h1M309 171h1M321 171h2M348 171h1M350 171h1M373 171h2M443 171h1M493 171h1M506 171h1M512 171h1M522 171h1M534 171h1M538 171h1M543 171h1M548 171h1M550 171h1M553 171h1M572 171h1M578 171h1M97 172h1M106 172h1M111 172h1M113 172h2M118 172h1M122 172h1M124 172h1M132 172h1M146 172h2M154 172h1M156 172h1M160 172h1M194 172h1M196 172h1M207 172h2M221 172h1M244 172h1M264 172h1M266 172h1M272 172h1M275 172h1M284 172h1M298 172h1M384 172h1M424 172h1M434 172h1M441 172h1M470 172h1M476 172h1M500 172h1M503 172h1M506 172h1M510 172h2M516 172h1M551 172h2M557 172h2M92 173h1M102 173h1M113 173h1M121 173h1M125 173h1M134 173h1M157 173h1M164 173h1M168 173h1M179 173h1M182 173h1M195 173h1M205 173h1M218 173h1M232 173h1M248 173h1M256 173h3M273 173h1M334 173h1M351 173h1M382 173h1M391 173h1M419 173h1M422 173h1M426 173h1M434 173h1M439 173h1M443 173h1M451 173h1M454 173h1M485 173h1M487 173h2M530 173h1M535 173h1M538 173h1M545 173h1M94 174h1M98 174h1M106 174h1M108 174h2M112 174h1M124 174h1M129 174h3M177 174h1M180 174h1M187 174h2M195 174h1M198 174h1M202 174h2M213 174h1M230 174h1M235 174h2M270 174h2M339 174h1M402 174h1M417 174h1M425 174h1M437 174h1M445 174h1M475 174h1M482 174h1M493 174h1M498 174h1M503 174h1M511 174h1M526 174h1M529 174h1M549 174h1M557 174h2M579 174h1M95 175h1M98 175h1M103 175h2M124 175h2M139 175h1M144 175h1M154 175h1M159 175h1M164 175h1M170 175h1M182 175h1M200 175h1M219 175h3M225 175h2M237 175h1M248 175h1M259 175h1M266 175h1M283 175h1M312 175h1M377 175h1M380 175h1M406 175h1M428 175h1M442 175h1M451 175h1M453 175h1M464 175h1M495 175h1M503 175h1M563 175h1M577 175h1M94 176h1M103 176h2M106 176h1M110 176h1M112 176h1M116 176h1M119 176h1M141 176h1M158 176h1M178 176h1M207 176h1M234 176h1M261 176h1M271 176h1M324 176h1M343 176h1M345 176h1M382 176h1M409 176h1M420 176h1M428 176h1M433 176h1M438 176h1M447 176h1M450 176h1M452 176h1M508 176h1M511 176h1M537 176h1M551 176h1M560 176h1M562 176h1M573 176h1M96 177h1M98 177h2M107 177h1M109 177h2M124 177h1M142 177h1M145 177h1M176 177h1M182 177h1M187 177h2M191 177h1M202 177h1M205 177h1M215 177h1M231 177h1M324 177h1M353 177h1M394 177h1M414 177h1M419 177h1M424 177h1M434 177h1M445 177h1M467 177h1M476 177h1M503 177h1M556 177h1M567 177h1M93 178h2M100 178h2M107 178h1M111 178h1M136 178h1M146 178h1M157 178h1M169 178h1M175 178h1M181 178h1M187 178h1M203 178h1M225 178h1M252 178h1M265 178h1M437 178h1M441 178h1M449 178h1M468 178h1M475 178h1M495 178h1M514 178h1M524 178h1M549 178h1M566 178h1M574 178h1M580 178h1M97 179h1M104 179h1M106 179h2M109 179h1M116 179h1M136 179h1M143 179h1M155 179h1M167 179h1M171 179h1M187 179h1M190 179h1M194 179h1M251 179h1M255 179h1M278 179h1M350 179h1M357 179h1M367 179h1M369 179h1M385 179h1M422 179h1M485 179h1M519 179h1M525 179h1M542 179h2M564 179h1M568 179h1M576 179h1M580 179h1M102 180h1M104 180h1M117 180h1M127 180h1M161 180h1M178 180h2M185 180h1M201 180h1M223 180h1M252 180h1M254 180h1M261 180h1M289 180h1M306 180h1M326 180h1M328 180h1M380 180h1M481 180h1M498 180h1M503 180h1M509 180h1M518 180h1M520 180h1M522 180h2M529 180h1M532 180h1M540 180h1M561 180h1M568 180h1M118 181h1M139 181h1M148 181h1M159 181h1M167 181h1M175 181h1M178 181h1M224 181h2M236 181h1M245 181h1M253 181h1M268 181h1M278 181h1M345 181h1M379 181h1M485 181h1M511 181h1M520 181h1M537 181h1M542 181h1M550 181h1M572 181h1M578 181h1M103 182h2M108 182h1M111 182h1M124 182h1M144 182h1M151 182h1M153 182h1M157 182h1M173 182h1M187 182h1M209 182h1M216 182h1M224 182h1M235 182h1M257 182h1M352 182h1M358 182h1M392 182h1M418 182h1M443 182h1M461 182h1M476 182h1M546 182h1M553 182h1M572 182h1M93 183h1M99 183h1M103 183h1M116 183h1M137 183h1M144 183h1M160 183h1M162 183h1M167 183h1M170 183h1M236 183h2M315 183h1M349 183h1M434 183h2M445 183h1M474 183h1M478 183h1M482 183h1M545 183h1M547 183h1M125 184h2M129 184h1M153 184h1M178 184h1M218 184h1M221 184h1M257 184h1M277 184h1M279 184h1M287 184h1M339 184h1M408 184h1M490 184h1M494 184h1M501 184h1M508 184h1M539 184h1M550 184h1M107 185h1M111 185h1M119 185h1M121 185h1M127 185h1M133 185h1M148 185h1M162 185h1M168 185h1M198 185h1M208 185h1M223 185h1M240 185h1M266 185h2M278 185h1M308 185h1M474 185h1M487 185h1M496 185h1M557 185h1M562 185h1M568 185h1M576 185h1M98 186h1M127 186h1M134 186h1M144 186h1M160 186h1M176 186h1M180 186h1M182 186h1M187 186h1M205 186h1M222 186h1M224 186h1M236 186h1M250 186h2M271 186h1M358 186h1M413 186h1M476 186h1M499 186h1M569 186h1M137 187h1M154 187h1M186 187h1M203 187h1M209 187h1M240 187h1M262 187h1M288 187h1M292 187h1M324 187h1M342 187h1M381 187h1M383 187h1M426 187h1M486 187h1M558 187h1M94 188h1M98 188h1M101 188h2M106 188h1M117 188h1M134 188h1M144 188h1M152 188h1M196 188h1M201 188h1M210 188h2M236 188h1M244 188h1M261 188h1M396 188h1M420 188h1M442 188h1M457 188h1M460 188h1M486 188h1M510 188h1M535 188h1M547 188h1M570 188h1M93 189h1M104 189h1M132 189h1M141 189h2M144 189h1M166 189h1M182 189h2M185 189h1M189 189h1M191 189h2M216 189h1M243 189h1M333 189h1M344 189h1M399 189h1M409 189h1M449 189h1M535 189h1M545 189h1M550 189h1M556 189h1M563 189h1M567 189h1M105 190h1M138 190h1M142 190h1M152 190h1M159 190h1M180 190h1M236 190h1M238 190h1M245 190h1M260 190h1M351 190h1M362 190h1M377 190h1M402 190h1M445 190h1M451 190h1M472 190h1M483 190h1M533 190h1M535 190h1M565 190h1M570 190h1M112 191h1M166 191h1M176 191h2M182 191h1M186 191h1M216 191h2M367 191h1M396 191h1M449 191h1M489 191h1M512 191h1M572 191h1M106 192h1M108 192h1M122 192h1M148 192h1M151 192h1M155 192h1M158 192h1M164 192h1M173 192h2M179 192h2M250 192h1M259 192h1M317 192h1M348 192h1M438 192h1M451 192h1M456 192h1M494 192h1M500 192h1M533 192h1M550 192h1M552 192h1M563 192h2M93 193h1M111 193h1M151 193h1M166 193h1M175 193h1M194 193h1M221 193h1M229 193h1M316 193h1M333 193h1M367 193h1M375 193h1M434 193h1M445 193h1M476 193h1M508 193h1M548 193h1M556 193h1M560 193h1M570 193h1M103 194h1M158 194h1M162 194h1M185 194h1M206 194h1M215 194h1M255 194h1M257 194h1M266 194h1M361 194h1M408 194h1M490 194h1M95 195h1M98 195h1M108 195h1M151 195h1M157 195h1M187 195h1M222 195h1M235 195h1M248 195h1M315 195h1M342 195h1M433 195h1M440 195h1M485 195h1M559 195h1M568 195h1M574 195h1M576 195h1M95 196h1M116 196h1M144 196h1M159 196h1M344 196h1M426 196h1M454 196h1M457 196h1M564 196h1M105 197h1M109 197h1M148 197h1M279 197h1M317 197h1M360 197h1M499 197h1M533 197h1M547 197h1M555 197h1M95 198h1M121 198h1M133 198h1M153 198h1M183 198h1M202 198h1M210 198h1M237 198h1M420 198h1M435 198h1M468 198h1M514 198h1M546 198h1M548 198h1M109 199h1M135 199h1M142 199h1M182 199h1M191 199h1M260 199h1M433 199h1M466 199h1M530 199h1M556 199h2M103 200h1M129 200h1M160 200h1M166 200h1M222 200h1M253 200h1M268 200h1M289 200h1M397 200h1M450 200h1M524 200h1M578 200h1M106 201h1M118 201h1M127 201h2M166 201h1M170 201h1M228 201h1M263 201h1M271 201h1M291 201h1M323 201h1M363 201h1M376 201h1M436 201h1M460 201h2M481 201h1M490 201h1M539 201h1M559 201h1M101 202h1M137 202h1M139 202h1M159 202h1M241 202h1M248 202h1M395 202h2M459 202h1M467 202h1M572 202h1M92 203h1M185 203h1M286 203h1M340 203h1M387 203h1M450 203h1M575 203h1M103 204h1M112 204h1M131 204h1M254 204h1M505 204h1M557 204h1M579 204h1M92 205h1M112 205h1M118 205h1M120 205h1M186 205h1M203 205h1M214 205h1M262 205h1M452 205h1M487 205h1M505 205h1M527 205h1M140 206h2M152 206h1M229 206h1M254 206h1M415 206h1M456 206h1M545 206h1M564 206h1M573 206h1M153 207h1M243 207h1M496 207h1M125 208h1M130 208h1M178 208h1M218 208h1M433 208h1M459 208h1M568 208h1M143 209h1M218 209h1M244 209h1M523 209h1M555 209h1M120 210h1M164 210h1M168 210h1M419 210h1M562 210h1M103 211h1M198 211h1M462 211h1M578 211h1M152 212h1M214 212h1M219 212h1M221 212h1M260 212h1M478 212h1M117 213h1M171 213h1M202 213h1M206 213h1M255 213h1M553 213h1M563 213h1M571 213h1M156 214h1M186 214h1M369 214h1M575 214h1M109 215h1M112 215h1M147 215h1M153 215h1M166 215h1M181 215h1M188 215h1M207 215h1M249 215h1M316 215h1M513 215h1M528 215h1M544 215h1M560 215h1M569 215h1M143 216h1M153 216h1M165 216h1M468 216h1M513 216h1M554 216h1M120 217h1M143 217h1M310 217h1M346 217h1M363 217h1M200 218h1M401 218h1M512 218h1M535 218h1M119 219h1M148 219h1M175 219h1M199 219h1M380 219h1M533 219h1M540 219h1M570 219h1M101 220h1M117 220h1M150 220h1M246 220h1M412 220h1M503 220h1M571 220h1M93 221h1M101 221h2M117 221h1M204 221h1M348 221h1M548 221h1M550 221h1M554 221h1M340 222h1M401 222h1M475 222h1M498 222h1M540 222h1M94 223h1M105 223h1M201 223h1M134 224h1M136 224h1M173 224h1M424 224h1M541 224h1M123 225h1M174 225h1M297 225h1M446 225h1M563 225h1M186 226h1M241 226h1M513 226h1M129 227h1M284 227h1M420 227h1M533 227h1M140 228h1M536 228h1M110 229h1M152 229h1M184 229h1M214 229h1M154 230h1M236 230h1M322 230h1M358 230h1M395 230h1M426 230h1M499 230h1M524 230h1M578 230h1M96 231h1M139 231h1M163 231h1M330 232h1M335 232h1M334 233h1M448 233h1M560 233h1M110 234h1M116 234h1M164 234h1M447 234h1M116 235h1M164 235h1M522 235h1M531 235h1M108 236h1M163 236h1M450 236h1M93 237h1M154 237h1M171 237h1M414 237h1M527 237h1M538 237h1M106 238h1M111 238h1M165 238h1M226 238h1M97 239h1M325 239h1M463 239h1M98 240h1M113 240h1M237 240h1M463 240h1M337 241h1M374 241h1M470 241h1M499 241h1M578 241h1M372 242h1M458 242h1M570 242h1M514 243h1M186 244h1M155 245h1M432 245h1M542 245h1M113 246h1M411 246h1M188 248h1M103 249h1M156 249h1M407 249h1M502 249h1M92 251h1M144 251h1M163 252h1M517 252h1M536 252h1M543 252h1M92 253h1M244 255h1M494 256h1M578 258h1M150 259h1M488 259h1M116 260h1M379 260h1M526 260h1M575 261h1M146 263h1M565 263h1M126 264h1M143 265h1M351 265h1M164 266h1M272 266h1M539 267h1M111 268h1M532 268h1M116 270h1M315 270h1M477 270h1M472 273h1M143 274h1M578 275h1M436 279h1M568 279h1M571 279h1M127 280h1M132 283h1M558 283h1M112 285h1M190 285h1M559 285h1M536 286h1"/><path stroke="#fbe5d8" d="M453 133h1M457 133h1M463 133h1M469 133h1M480 133h1M453 134h1M470 134h1M479 134h1M486 134h1M490 134h1M449 135h1M452 135h2M460 135h1M462 135h1M510 135h1M517 135h1M464 136h1M492 136h1M518 136h1M459 137h1M461 137h1M465 137h1M467 137h1M480 137h1M484 137h1M496 137h1M511 137h1M522 137h1M525 137h1M458 138h1M460 138h1M462 138h2M465 138h1M483 138h1M524 138h1M527 138h1M263 139h1M470 139h1M473 139h1M478 139h1M491 139h1M525 139h1M530 139h1M226 140h1M246 140h1M248 140h1M256 140h1M260 140h1M465 140h1M468 140h3M477 140h1M512 140h1M197 141h1M217 141h1M223 141h2M227 141h1M236 141h1M239 141h1M247 141h1M458 141h1M463 141h1M469 141h1M481 141h1M527 141h1M554 141h1M557 141h1M173 142h1M197 142h2M202 142h1M205 142h1M211 142h1M214 142h1M223 142h1M226 142h1M233 142h1M236 142h4M247 142h1M462 142h1M93 143h1M178 143h1M180 143h1M182 143h2M185 143h2M188 143h1M192 143h1M204 143h1M208 143h3M214 143h1M218 143h1M221 143h1M225 143h2M228 143h1M232 143h2M238 143h1M240 143h1M242 143h1M246 143h1M473 143h1M477 143h1M483 143h1M499 143h1M93 144h1M169 144h1M181 144h1M193 144h1M197 144h2M201 144h3M205 144h2M210 144h1M212 144h1M221 144h1M226 144h3M235 144h1M238 144h1M437 144h1M445 144h1M451 144h1M456 144h1M458 144h4M464 144h1M466 144h1M470 144h1M473 144h1M510 144h1M523 144h1M541 144h1M546 144h1M156 145h1M165 145h3M169 145h1M180 145h2M185 145h2M188 145h3M197 145h1M199 145h1M201 145h1M204 145h3M209 145h1M213 145h1M225 145h1M227 145h1M229 145h1M233 145h1M434 145h1M437 145h1M443 145h1M448 145h1M464 145h1M549 145h1M571 145h1M96 146h1M98 146h1M143 146h1M152 146h1M159 146h1M161 146h1M168 146h1M174 146h1M176 146h2M184 146h1M187 146h1M196 146h1M199 146h2M203 146h1M206 146h1M209 146h1M216 146h2M226 146h1M229 146h2M232 146h1M415 146h1M434 146h1M437 146h1M450 146h1M459 146h1M517 146h1M549 146h1M132 147h1M147 147h1M150 147h2M153 147h1M156 147h1M159 147h1M162 147h4M175 147h1M177 147h1M183 147h1M194 147h1M204 147h1M212 147h3M413 147h1M419 147h1M428 147h1M431 147h1M437 147h1M443 147h1M445 147h1M456 147h1M459 147h2M467 147h1M471 147h1M475 147h1M517 147h1M537 147h1M575 147h1M123 148h1M134 148h3M140 148h2M143 148h2M152 148h1M155 148h2M159 148h1M164 148h1M166 148h1M168 148h1M170 148h2M176 148h1M201 148h1M206 148h2M210 148h1M213 148h2M217 148h1M220 148h1M222 148h3M226 148h1M437 148h1M440 148h1M444 148h1M452 148h2M456 148h1M519 148h1M525 148h1M531 148h1M120 149h1M128 149h1M132 149h1M146 149h1M148 149h3M152 149h2M155 149h1M159 149h1M167 149h1M171 149h1M201 149h1M203 149h1M217 149h2M220 149h1M224 149h1M228 149h1M231 149h1M397 149h1M416 149h1M454 149h1M521 149h1M533 149h1M122 150h1M134 150h1M137 150h2M141 150h1M147 150h1M154 150h1M170 150h2M174 150h1M179 150h1M184 150h1M186 150h2M192 150h1M195 150h1M199 150h1M202 150h1M205 150h1M213 150h1M215 150h1M222 150h1M390 150h2M398 150h1M400 150h4M476 150h1M479 150h1M506 150h1M512 150h1M561 150h1M118 151h1M121 151h2M128 151h1M130 151h1M137 151h1M139 151h1M148 151h2M152 151h1M155 151h1M161 151h1M163 151h1M176 151h1M178 151h1M183 151h1M186 151h1M214 151h1M217 151h1M221 151h1M225 151h1M230 151h1M393 151h1M395 151h1M397 151h1M401 151h1M405 151h1M408 151h2M416 151h1M418 151h1M420 151h1M424 151h1M428 151h1M452 151h1M461 151h1M466 151h1M471 151h1M496 151h1M531 151h1M95 152h1M114 152h1M121 152h1M127 152h2M140 152h1M142 152h1M144 152h1M148 152h1M156 152h1M170 152h1M175 152h1M178 152h1M189 152h1M194 152h1M213 152h2M217 152h1M228 152h1M230 152h3M236 152h1M240 152h1M257 152h2M265 152h1M268 152h2M283 152h1M301 152h1M307 152h3M320 152h1M334 152h1M354 152h1M383 152h2M390 152h1M392 152h1M398 152h1M404 152h1M410 152h1M415 152h1M417 152h1M420 152h1M422 152h1M426 152h2M436 152h1M452 152h1M454 152h1M459 152h2M466 152h1M486 152h1M490 152h1M492 152h1M517 152h1M523 152h1M548 152h1M118 153h1M122 153h1M127 153h2M132 153h2M137 153h1M144 153h1M159 153h1M161 153h1M173 153h1M181 153h1M186 153h1M190 153h1M201 153h1M209 153h1M214 153h1M225 153h1M228 153h1M241 153h1M247 153h1M250 153h1M259 153h1M263 153h1M266 153h1M273 153h1M284 153h1M287 153h1M292 153h2M297 153h2M302 153h1M304 153h1M307 153h1M318 153h1M326 153h1M328 153h2M331 153h1M335 153h1M339 153h1M341 153h1M349 153h1M360 153h2M365 153h1M376 153h1M382 153h2M396 153h2M412 153h1M421 153h1M454 153h3M466 153h1M474 153h1M476 153h1M488 153h1M490 153h1M498 153h1M504 153h1M542 153h1M559 153h2M562 153h1M106 154h1M114 154h1M125 154h1M127 154h1M132 154h1M136 154h1M142 154h1M144 154h2M148 154h1M150 154h1M161 154h1M167 154h1M171 154h1M185 154h1M196 154h1M200 154h1M232 154h1M235 154h2M240 154h1M245 154h1M255 154h1M272 154h1M276 154h1M282 154h1M300 154h1M302 154h1M314 154h1M330 154h2M349 154h1M365 154h1M368 154h1M372 154h1M380 154h1M382 154h1M385 154h1M387 154h1M394 154h2M410 154h2M414 154h1M416 154h1M421 154h1M429 154h1M467 154h1M470 154h1M472 154h1M489 154h1M499 154h1M501 154h1M505 154h1M509 154h1M540 154h1M550 154h1M94 155h1M102 155h1M107 155h1M113 155h1M124 155h1M133 155h1M136 155h1M139 155h1M143 155h1M146 155h2M151 155h1M176 155h1M178 155h1M192 155h1M201 155h1M215 155h1M222 155h1M226 155h1M228 155h1M231 155h1M236 155h1M241 155h1M246 155h1M259 155h1M264 155h1M266 155h1M283 155h1M289 155h1M291 155h1M303 155h1M314 155h2M325 155h1M341 155h1M346 155h1M362 155h1M368 155h2M399 155h2M408 155h1M418 155h1M424 155h1M428 155h1M433 155h1M435 155h1M447 155h1M450 155h1M455 155h3M460 155h1M462 155h2M471 155h2M478 155h1M481 155h1M493 155h1M503 155h1M514 155h1M517 155h1M529 155h1M100 156h1M103 156h1M105 156h1M112 156h1M125 156h1M129 156h1M131 156h1M138 156h1M147 156h1M155 156h1M173 156h2M180 156h1M192 156h1M197 156h1M208 156h1M211 156h1M219 156h1M226 156h1M238 156h1M249 156h1M252 156h2M257 156h2M275 156h1M277 156h1M282 156h1M284 156h1M289 156h1M292 156h1M299 156h3M306 156h3M311 156h1M342 156h1M381 156h1M385 156h1M388 156h1M393 156h1M401 156h2M415 156h1M430 156h1M437 156h1M446 156h1M450 156h2M453 156h1M456 156h1M459 156h1M469 156h1M471 156h1M477 156h1M489 156h1M503 156h1M514 156h1M517 156h1M526 156h1M568 156h1M94 157h1M106 157h1M115 157h1M145 157h1M149 157h1M164 157h1M167 157h1M190 157h1M196 157h1M198 157h1M201 157h1M203 157h1M219 157h1M224 157h1M226 157h1M231 157h1M234 157h2M237 157h1M282 157h1M289 157h1M295 157h1M311 157h1M319 157h1M325 157h1M329 157h1M332 157h1M336 157h1M339 157h1M349 157h1M360 157h1M362 157h1M371 157h1M373 157h1M375 157h2M382 157h2M393 157h1M406 157h1M409 157h3M415 157h1M422 157h1M426 157h2M430 157h1M432 157h1M468 157h1M476 157h1M483 157h1M494 157h2M499 157h1M507 157h1M512 157h1M515 157h2M528 157h1M551 157h1M101 158h1M105 158h1M108 158h1M116 158h1M119 158h1M129 158h1M133 158h1M137 158h1M140 158h1M142 158h1M151 158h1M158 158h1M162 158h1M169 158h1M188 158h1M195 158h1M204 158h1M215 158h1M222 158h1M225 158h1M228 158h1M284 158h2M296 158h1M305 158h1M322 158h1M324 158h1M345 158h1M375 158h2M381 158h1M388 158h2M395 158h1M399 158h1M408 158h1M424 158h1M430 158h1M444 158h2M449 158h1M452 158h1M467 158h1M472 158h2M477 158h1M479 158h1M482 158h2M487 158h1M489 158h1M495 158h1M508 158h1M510 158h1M512 158h1M520 158h2M534 158h1M536 158h1M539 158h1M568 158h1M96 159h1M111 159h1M114 159h1M129 159h1M131 159h1M133 159h1M146 159h1M148 159h1M150 159h1M167 159h1M170 159h2M177 159h3M182 159h1M193 159h1M195 159h1M201 159h1M208 159h1M216 159h1M267 159h1M272 159h1M282 159h1M287 159h2M298 159h1M315 159h1M323 159h1M325 159h1M348 159h1M355 159h1M364 159h1M397 159h1M406 159h1M412 159h1M415 159h1M418 159h1M427 159h1M448 159h1M469 159h1M486 159h1M492 159h1M499 159h1M504 159h1M509 159h1M514 159h1M521 159h1M524 159h1M530 159h1M541 159h1M543 159h1M550 159h1M568 159h1M98 160h1M107 160h1M123 160h1M128 160h1M142 160h1M162 160h1M164 160h1M168 160h1M175 160h1M183 160h1M187 160h1M189 160h1M192 160h1M198 160h1M222 160h1M234 160h1M261 160h1M264 160h1M293 160h1M306 160h1M337 160h1M348 160h1M354 160h1M358 160h1M381 160h1M383 160h1M390 160h1M411 160h1M414 160h1M422 160h1M428 160h1M431 160h2M434 160h1M441 160h1M451 160h1M455 160h1M459 160h1M464 160h1M494 160h1M503 160h1M518 160h1M522 160h1M550 160h1M554 160h1M98 161h1M106 161h1M111 161h2M114 161h2M134 161h1M148 161h1M151 161h1M157 161h1M167 161h1M174 161h1M219 161h1M221 161h2M240 161h1M287 161h2M293 161h1M295 161h1M308 161h1M322 161h1M328 161h1M333 161h1M361 161h1M401 161h1M410 161h2M438 161h1M480 161h1M483 161h1M498 161h1M503 161h1M509 161h1M511 161h1M514 161h1M518 161h2M524 161h1M527 161h1M532 161h1M543 161h1M548 161h1M552 161h1M556 161h1M94 162h2M97 162h1M100 162h1M102 162h2M115 162h1M121 162h1M130 162h1M138 162h1M141 162h1M164 162h1M168 162h1M171 162h1M176 162h1M190 162h1M200 162h1M207 162h1M214 162h1M218 162h1M224 162h1M230 162h2M233 162h2M248 162h1M253 162h1M258 162h1M261 162h1M265 162h1M272 162h1M278 162h1M284 162h1M298 162h1M310 162h1M323 162h1M336 162h1M368 162h1M375 162h2M380 162h1M405 162h1M417 162h1M429 162h1M452 162h1M469 162h1M481 162h1M505 162h1M509 162h1M528 162h1M539 162h2M553 162h2M557 162h1M563 162h1M576 162h1M98 163h1M101 163h1M104 163h1M111 163h1M118 163h2M123 163h1M127 163h1M133 163h1M164 163h1M184 163h1M194 163h1M202 163h1M204 163h1M208 163h1M223 163h1M236 163h1M241 163h1M243 163h2M251 163h1M253 163h1M259 163h1M264 163h1M266 163h1M276 163h2M296 163h1M299 163h1M304 163h1M317 163h1M322 163h1M339 163h1M342 163h1M365 163h1M402 163h1M431 163h1M458 163h1M461 163h1M472 163h1M477 163h1M488 163h1M490 163h1M519 163h1M528 163h1M556 163h1M562 163h1M564 163h1M573 163h1M92 164h1M103 164h1M109 164h1M147 164h4M161 164h1M167 164h1M173 164h1M176 164h1M179 164h1M181 164h1M184 164h2M188 164h1M201 164h1M204 164h1M206 164h1M209 164h1M211 164h1M221 164h1M232 164h1M255 164h1M268 164h1M270 164h1M299 164h1M310 164h1M320 164h1M325 164h1M350 164h1M395 164h1M401 164h1M415 164h1M426 164h1M432 164h1M448 164h1M467 164h1M471 164h2M499 164h1M506 164h1M509 164h1M527 164h1M530 164h1M542 164h2M549 164h1M558 164h1M571 164h2M580 164h1M95 165h1M97 165h1M105 165h1M124 165h1M126 165h1M173 165h1M178 165h1M181 165h2M191 165h1M196 165h1M209 165h1M213 165h1M230 165h1M233 165h1M245 165h1M248 165h1M255 165h1M257 165h2M260 165h1M269 165h1M271 165h1M273 165h1M304 165h1M306 165h1M314 165h1M399 165h1M405 165h1M418 165h1M445 165h1M447 165h2M482 165h1M489 165h1M497 165h1M512 165h2M521 165h1M537 165h2M556 165h2M576 165h1M109 166h2M113 166h1M120 166h2M139 166h1M150 166h1M157 166h1M160 166h1M162 166h2M169 166h1M172 166h1M177 166h1M179 166h1M183 166h1M194 166h1M203 166h1M207 166h1M223 166h1M243 166h1M252 166h1M267 166h1M295 166h1M301 166h1M303 166h1M353 166h1M371 166h1M417 166h1M419 166h1M423 166h1M425 166h1M431 166h1M434 166h1M436 166h1M454 166h1M466 166h2M474 166h1M493 166h1M502 166h1M509 166h1M517 166h1M519 166h1M527 166h1M530 166h1M538 166h1M540 166h1M548 166h1M554 166h1M561 166h1M563 166h1M94 167h1M98 167h1M104 167h1M108 167h1M111 167h1M138 167h1M147 167h1M153 167h1M158 167h1M167 167h1M172 167h1M179 167h1M186 167h1M190 167h1M193 167h2M196 167h2M201 167h1M211 167h1M215 167h1M228 167h1M239 167h1M243 167h1M248 167h1M268 167h1M275 167h1M291 167h1M337 167h1M404 167h2M411 167h1M450 167h1M465 167h1M496 167h1M505 167h1M520 167h1M526 167h1M551 167h1M557 167h1M562 167h1M98 168h1M101 168h1M110 168h1M112 168h1M138 168h2M142 168h1M151 168h1M155 168h2M160 168h1M166 168h1M179 168h1M181 168h2M184 168h1M192 168h1M199 168h1M222 168h3M243 168h1M277 168h1M285 168h1M293 168h1M312 168h1M320 168h1M337 168h1M343 168h1M410 168h1M418 168h1M476 168h1M498 168h1M500 168h1M513 168h1M524 168h1M544 168h1M558 168h1M563 168h1M565 168h1M569 168h2M576 168h3M96 169h1M98 169h2M109 169h1M129 169h1M136 169h1M138 169h2M156 169h1M160 169h2M166 169h1M181 169h1M183 169h1M186 169h2M191 169h1M214 169h1M219 169h1M225 169h1M238 169h1M246 169h1M267 169h1M296 169h1M328 169h1M331 169h1M421 169h1M479 169h1M491 169h1M502 169h1M511 169h1M527 169h1M532 169h2M564 169h1M568 169h1M570 169h1M576 169h1M92 170h1M100 170h2M110 170h1M128 170h2M133 170h1M141 170h1M144 170h1M148 170h1M150 170h1M153 170h1M160 170h1M178 170h1M181 170h1M189 170h1M200 170h1M221 170h2M228 170h1M236 170h1M243 170h1M248 170h2M275 170h1M301 170h1M355 170h1M398 170h1M405 170h1M450 170h1M520 170h1M532 170h1M535 170h1M540 170h1M549 170h1M104 171h1M119 171h1M122 171h1M127 171h1M133 171h1M143 171h1M150 171h1M160 171h1M163 171h1M179 171h1M184 171h2M187 171h1M193 171h1M237 171h1M249 171h1M256 171h1M260 171h1M270 171h1M277 171h1M379 171h1M399 171h1M407 171h1M448 171h1M456 171h1M486 171h1M513 171h1M515 171h1M542 171h1M564 171h1M580 171h1M95 172h1M102 172h1M116 172h1M120 172h1M123 172h1M125 172h1M131 172h1M134 172h1M138 172h1M144 172h1M152 172h1M155 172h1M157 172h2M165 172h1M175 172h1M181 172h2M186 172h1M191 172h1M195 172h1M201 172h1M215 172h1M217 172h1M220 172h1M223 172h1M237 172h1M239 172h1M242 172h1M253 172h1M260 172h1M277 172h1M310 172h1M354 172h1M391 172h1M419 172h1M438 172h3M449 172h2M467 172h1M481 172h1M496 172h1M518 172h1M548 172h1M550 172h1M556 172h1M577 172h2M104 173h1M135 173h2M142 173h2M149 173h1M156 173h1M158 173h1M162 173h1M173 173h1M175 173h1M184 173h1M204 173h1M210 173h1M226 173h1M270 173h1M272 173h1M278 173h1M298 173h1M367 173h1M408 173h2M414 173h1M436 173h1M447 173h2M462 173h1M486 173h1M511 173h1M521 173h1M529 173h1M542 173h1M549 173h1M551 173h1M563 173h2M567 173h1M572 173h1M579 173h1M92 174h1M100 174h1M107 174h1M115 174h1M120 174h1M125 174h1M127 174h2M133 174h1M148 174h1M158 174h2M166 174h1M181 174h1M185 174h1M190 174h1M201 174h1M234 174h1M360 174h1M409 174h1M427 174h1M470 174h1M480 174h1M492 174h1M513 174h1M535 174h2M543 174h1M547 174h1M555 174h1M559 174h1M563 174h1M565 174h1M580 174h1M93 175h1M101 175h1M118 175h1M131 175h1M134 175h1M137 175h2M145 175h1M156 175h1M161 175h1M166 175h1M179 175h1M183 175h1M207 175h1M210 175h1M230 175h1M234 175h1M268 175h1M277 175h1M295 175h1M300 175h1M326 175h1M335 175h1M401 175h1M414 175h1M434 175h1M441 175h1M457 175h1M468 175h1M472 175h1M497 175h1M546 175h1M576 175h1M107 176h2M115 176h1M128 176h1M137 176h1M139 176h1M143 176h1M145 176h2M151 176h1M155 176h1M159 176h1M165 176h1M174 176h1M252 176h1M269 176h1M380 176h1M400 176h1M424 176h1M439 176h1M446 176h1M449 176h1M510 176h1M512 176h1M515 176h1M530 176h1M535 176h1M538 176h1M549 176h1M554 176h1M557 176h1M95 177h1M106 177h1M112 177h1M118 177h1M122 177h1M125 177h1M139 177h2M159 177h1M165 177h1M168 177h3M174 177h1M181 177h1M217 177h1M234 177h1M243 177h2M263 177h1M274 177h1M289 177h1M375 177h1M395 177h1M402 177h1M412 177h1M418 177h1M426 177h1M441 177h1M449 177h1M452 177h1M462 177h1M492 177h1M507 177h2M510 177h1M517 177h1M522 177h1M524 177h1M544 177h1M559 177h1M578 177h1M97 178h1M104 178h1M114 178h1M125 178h1M127 178h1M134 178h1M147 178h1M153 178h1M156 178h1M158 178h1M163 178h1M170 178h1M176 178h1M196 178h2M213 178h1M231 178h1M242 178h1M260 178h1M262 178h1M291 178h1M311 178h1M359 178h1M410 178h1M425 178h1M453 178h1M464 178h1M472 178h1M476 178h1M480 178h1M501 178h1M503 178h2M510 178h1M542 178h1M547 178h1M550 178h1M564 178h1M577 178h1M93 179h1M100 179h2M181 179h1M196 179h1M201 179h1M205 179h1M214 179h1M243 179h1M256 179h1M292 179h1M378 179h1M481 179h1M502 179h1M523 179h1M574 179h1M93 180h1M95 180h1M99 180h1M103 180h1M111 180h1M113 180h1M135 180h1M144 180h1M159 180h1M171 180h1M177 180h1M193 180h1M258 180h1M386 180h1M448 180h1M490 180h1M494 180h1M512 180h1M531 180h1M541 180h2M551 180h1M560 180h1M567 180h1M577 180h1M100 181h1M116 181h1M125 181h1M130 181h2M145 181h1M151 181h2M169 181h1M196 181h1M211 181h1M229 181h1M235 181h1M240 181h2M248 181h1M285 181h1M314 181h1M336 181h1M366 181h1M414 181h1M425 181h1M440 181h1M448 181h1M480 181h1M497 181h1M509 181h1M523 181h1M543 181h1M567 181h1M106 182h2M120 182h1M130 182h1M143 182h1M152 182h1M188 182h1M223 182h1M230 182h1M232 182h1M264 182h1M275 182h1M280 182h1M289 182h1M293 182h1M319 182h1M337 182h1M345 182h1M349 182h1M396 182h1M404 182h1M435 182h1M472 182h1M498 182h1M503 182h1M510 182h1M522 182h1M535 182h1M542 182h1M544 182h1M557 182h1M559 182h1M579 182h1M107 183h1M115 183h1M135 183h1M182 183h1M184 183h1M215 183h1M220 183h1M250 183h1M259 183h1M329 183h1M342 183h1M362 183h1M412 183h1M430 183h1M476 183h1M488 183h1M491 183h1M494 183h1M508 183h1M513 183h1M527 183h1M532 183h1M534 183h1M552 183h1M579 183h1M101 184h1M115 184h1M117 184h1M128 184h1M172 184h1M174 184h1M186 184h2M208 184h1M215 184h1M236 184h1M243 184h1M267 184h2M283 184h1M308 184h1M335 184h1M436 184h1M443 184h1M453 184h1M535 184h1M541 184h1M549 184h1M563 184h1M579 184h1M97 185h1M103 185h1M156 185h1M164 185h1M170 185h1M190 185h1M192 185h1M194 185h2M212 185h1M214 185h1M226 185h1M238 185h1M253 185h1M256 185h1M286 185h1M318 185h1M415 185h1M433 185h1M452 185h1M554 185h1M561 185h1M564 185h1M566 185h1M578 185h1M103 186h1M117 186h1M119 186h1M131 186h1M133 186h1M149 186h1M159 186h1M169 186h1M174 186h1M179 186h1M185 186h1M194 186h1M200 186h1M227 186h2M242 186h1M265 186h1M294 186h1M389 186h1M455 186h1M480 186h1M483 186h1M486 186h1M505 186h1M508 186h1M515 186h1M525 186h1M535 186h1M545 186h1M555 186h1M562 186h1M570 186h1M572 186h1M575 186h1M99 187h1M147 187h1M150 187h1M167 187h2M184 187h1M202 187h1M205 187h1M212 187h1M248 187h1M260 187h1M465 187h1M493 187h1M511 187h1M527 187h1M543 187h1M561 187h1M571 187h1M111 188h1M137 188h1M159 188h1M162 188h1M173 188h1M218 188h1M228 188h2M237 188h1M243 188h1M247 188h1M258 188h1M501 188h1M513 188h1M523 188h1M527 188h1M529 188h1M556 188h1M571 188h1M92 189h1M102 189h1M136 189h1M148 189h1M159 189h1M170 189h1M178 189h1M196 189h1M209 189h2M214 189h1M340 189h1M352 189h1M432 189h1M478 189h1M517 189h1M527 189h1M543 189h1M559 189h1M112 190h1M118 190h1M126 190h1M134 190h1M146 190h1M171 190h1M189 190h1M204 190h1M209 190h1M211 190h1M292 190h1M301 190h1M321 190h1M330 190h1M341 190h1M387 190h1M452 190h1M457 190h1M527 190h1M551 190h1M578 190h1M96 191h1M108 191h1M149 191h1M151 191h1M155 191h1M208 191h1M248 191h1M322 191h1M392 191h1M394 191h1M453 191h1M495 191h1M511 191h1M542 191h1M547 191h1M565 191h2M104 192h1M131 192h1M134 192h1M137 192h1M183 192h1M193 192h1M243 192h1M280 192h1M350 192h1M404 192h1M419 192h1M472 192h1M522 192h1M537 192h1M543 192h1M558 192h1M100 193h1M105 193h1M109 193h1M112 193h1M145 193h1M150 193h1M203 193h1M211 193h1M332 193h1M336 193h1M387 193h1M432 193h1M457 193h1M492 193h1M531 193h1M545 193h2M121 194h1M132 194h1M170 194h3M193 194h1M211 194h1M221 194h1M244 194h1M289 194h1M344 194h1M414 194h1M426 194h1M474 194h1M535 194h1M548 194h1M115 195h1M141 195h1M146 195h1M148 195h1M165 195h1M168 195h1M174 195h1M195 195h1M324 195h1M398 195h1M494 195h1M552 195h1M563 195h1M567 195h1M120 196h1M157 196h1M166 196h1M169 196h1M237 196h1M495 196h1M540 196h1M561 196h1M576 196h1M580 196h1M104 197h1M140 197h1M169 197h1M176 197h1M243 197h2M254 197h1M368 197h1M406 197h1M422 197h1M452 197h1M551 197h1M568 197h1M97 198h1M106 198h1M141 198h1M156 198h1M163 198h1M170 198h1M198 198h1M218 198h1M225 198h1M262 198h1M496 198h1M510 198h1M526 198h1M536 198h1M547 198h1M553 198h1M576 198h1M95 199h1M97 199h1M123 199h1M177 199h1M209 199h1M309 199h1M371 199h1M420 199h1M485 199h1M508 199h1M515 199h1M533 199h1M545 199h1M567 199h1M121 200h1M147 200h1M150 200h1M154 200h1M182 200h1M258 200h2M437 200h1M452 200h1M463 200h1M498 200h1M517 200h1M521 200h1M562 200h1M94 201h1M372 201h1M378 201h1M486 201h1M538 201h1M558 201h1M561 201h1M120 202h1M134 202h2M147 202h1M169 202h1M177 202h1M181 202h1M284 202h1M419 202h1M475 202h1M527 202h1M531 202h1M552 202h1M580 202h1M100 203h1M127 203h1M137 203h1M153 203h1M179 203h1M205 203h1M209 203h1M474 203h1M170 204h1M204 204h1M267 204h1M399 204h1M104 205h1M117 205h1M140 205h1M168 205h1M195 205h1M202 205h1M204 205h1M255 205h1M378 205h1M494 205h1M563 205h1M567 205h1M111 206h1M170 206h1M198 206h1M580 206h1M96 207h1M107 207h1M189 207h1M209 207h1M238 207h1M390 207h1M456 207h1M545 207h1M578 207h1M94 208h1M133 208h1M398 208h1M486 208h1M555 208h1M137 209h1M184 209h1M254 209h1M269 209h1M365 209h1M520 209h1M97 210h1M128 210h1M219 210h1M296 210h1M347 210h1M372 210h1M580 210h1M118 211h1M121 211h1M168 211h1M212 211h1M238 211h1M461 211h1M93 212h1M118 212h1M148 212h1M151 212h1M179 212h1M191 212h1M194 212h1M201 212h1M372 212h1M451 212h1M454 212h1M493 212h1M531 212h1M533 212h1M549 212h1M557 212h1M93 213h1M100 213h1M218 213h1M516 213h1M528 213h1M152 214h1M266 214h1M562 214h2M110 215h1M124 215h1M355 215h1M97 216h1M277 216h1M339 216h1M384 216h1M503 216h1M510 216h1M222 217h1M311 217h1M424 217h1M459 217h1M573 217h1M580 217h1M104 218h1M557 218h1M96 219h1M145 219h1M152 219h1M170 219h1M211 219h1M391 219h1M97 220h1M111 220h1M133 220h1M164 220h1M371 220h1M518 220h1M547 220h1M99 221h1M109 221h1M220 221h1M240 221h1M394 221h1M539 221h1M112 222h1M118 222h1M176 222h1M299 222h1M400 222h1M478 222h1M93 223h1M122 224h1M367 224h1M560 224h1M108 225h1M130 225h1M172 225h1M190 225h3M210 225h1M156 226h1M182 226h1M221 226h1M256 226h1M280 226h1M580 226h1M124 227h1M227 227h1M234 227h1M548 227h1M129 228h1M497 228h1M513 228h1M548 228h1M103 229h1M252 229h1M430 229h1M447 229h1M533 229h1M568 229h1M95 230h1M99 230h1M103 230h1M125 230h1M383 230h1M535 230h1M568 230h1M122 231h1M189 231h1M192 231h1M539 231h1M121 232h1M139 232h1M270 232h1M101 233h1M451 233h1M435 234h1M542 234h1M133 235h1M138 236h1M560 236h1M447 237h1M554 237h1M150 238h1M153 238h1M228 238h1M364 238h1M428 238h1M127 239h1M105 240h1M117 240h1M122 240h1M156 240h1M92 241h1M162 241h1M368 241h1M262 242h1M507 242h1M509 242h1M559 242h1M568 243h1M115 244h1M123 244h1M184 244h1M117 245h1M152 245h1M199 245h1M265 245h1M101 246h1M142 246h1M518 246h1M103 247h1M109 250h1M154 250h1M573 250h1M106 251h1M410 252h1M146 253h1M326 253h1M126 254h1M226 254h1M350 254h1M115 255h1M130 255h1M455 255h1M422 256h1M113 257h1M198 257h1M126 259h1M185 259h1M197 260h1M563 260h1M247 261h1M416 261h1M478 262h1M125 263h1M469 263h1M499 266h1M92 267h1M572 267h1M95 268h1M369 268h1M111 270h1M118 270h1M474 270h1M561 270h1M125 271h1M113 273h1M468 273h1M267 276h1M122 277h1M137 278h1M97 280h1M217 281h1M496 283h1M507 283h1M346 286h1"/><path stroke="#fddcc9" d="M440 131h1M448 131h1M461 131h1M483 132h1M447 133h2M455 133h1M461 133h2M464 133h1M491 133h1M502 133h1M507 133h1M452 134h1M461 134h1M476 134h1M451 135h1M458 135h1M473 135h2M459 136h1M469 136h1M525 136h1M455 137h1M458 137h1M509 137h1M519 137h1M539 137h1M461 138h1M469 138h1M490 138h1M245 139h1M460 139h1M494 139h1M505 139h1M194 140h1M242 140h1M252 140h1M257 140h1M259 140h1M481 140h1M491 140h1M548 140h1M92 141h1M188 141h1M194 141h1M202 141h2M215 141h1M218 141h1M234 141h1M244 141h1M494 141h1M507 141h2M517 141h1M178 142h1M189 142h1M195 142h1M204 142h1M209 142h1M228 142h1M232 142h1M243 142h1M251 142h1M448 142h1M458 142h1M460 142h1M463 142h2M490 142h1M541 142h1M564 142h1M570 142h1M572 142h1M96 143h1M181 143h1M189 143h1M193 143h1M197 143h1M200 143h1M215 143h1M235 143h1M452 143h1M454 143h1M459 143h2M463 143h1M481 143h1M500 143h1M92 144h1M95 144h1M97 144h1M162 144h1M170 144h1M172 144h2M175 144h1M189 144h1M196 144h1M214 144h1M218 144h1M230 144h1M434 144h1M444 144h1M446 144h1M472 144h1M479 144h1M483 144h1M550 144h1M580 144h1M96 145h1M144 145h1M153 145h1M170 145h1M172 145h1M178 145h1M203 145h1M211 145h1M217 145h1M224 145h1M236 145h1M422 145h2M428 145h1M432 145h1M435 145h1M444 145h1M455 145h1M473 145h1M476 145h1M484 145h1M99 146h1M156 146h1M170 146h1M185 146h1M189 146h1M198 146h1M205 146h1M219 146h2M222 146h1M228 146h1M418 146h1M438 146h2M442 146h1M449 146h1M457 146h2M462 146h1M467 146h1M569 146h1M99 147h1M143 147h1M146 147h1M167 147h1M176 147h1M188 147h1M190 147h1M192 147h1M196 147h3M202 147h1M207 147h1M404 147h1M417 147h1M420 147h1M425 147h2M429 147h2M442 147h1M449 147h1M451 147h2M476 147h1M482 147h1M520 147h1M569 147h1M92 148h1M98 148h1M125 148h1M137 148h2M148 148h1M181 148h1M184 148h1M221 148h1M225 148h1M407 148h1M418 148h1M442 148h1M447 148h1M529 148h1M94 149h1M99 149h1M110 149h1M133 149h1M136 149h1M138 149h3M144 149h1M169 149h1M192 149h1M197 149h1M221 149h1M226 149h1M230 149h1M409 149h1M425 149h1M440 149h1M479 149h1M526 149h1M534 149h1M554 149h1M94 150h1M96 150h1M124 150h1M127 150h1M139 150h1M143 150h1M153 150h1M160 150h1M164 150h1M183 150h1M211 150h1M216 150h1M227 150h1M229 150h1M419 150h1M449 150h1M461 150h1M475 150h1M491 150h1M499 150h1M120 151h1M127 151h1M131 151h2M138 151h1M144 151h2M167 151h2M174 151h1M185 151h1M192 151h1M194 151h1M211 151h1M216 151h1M218 151h1M386 151h2M390 151h1M431 151h1M435 151h1M440 151h1M442 151h1M444 151h2M458 151h1M460 151h1M475 151h1M477 151h2M519 151h1M527 151h1M108 152h1M117 152h1M136 152h1M139 152h1M145 152h1M153 152h1M162 152h1M166 152h3M177 152h1M180 152h1M184 152h1M192 152h1M200 152h1M207 152h1M243 152h1M274 152h1M310 152h1M328 152h1M332 152h1M396 152h1M401 152h2M407 152h2M425 152h1M433 152h1M437 152h1M439 152h1M443 152h1M447 152h1M456 152h2M470 152h1M472 152h1M479 152h1M481 152h1M483 152h2M489 152h1M495 152h1M512 152h1M536 152h1M111 153h1M113 153h1M123 153h1M135 153h1M143 153h1M152 153h1M166 153h1M194 153h1M202 153h1M218 153h1M252 153h2M260 153h1M271 153h1M321 153h1M333 153h2M336 153h1M352 153h1M384 153h1M389 153h1M393 153h3M399 153h1M401 153h1M404 153h1M411 153h1M415 153h1M417 153h1M422 153h1M424 153h1M426 153h1M435 153h1M440 153h1M444 153h1M452 153h1M473 153h1M477 153h1M485 153h1M497 153h1M507 153h1M564 153h1M101 154h1M107 154h2M113 154h1M165 154h1M172 154h2M176 154h1M202 154h2M219 154h1M223 154h1M244 154h1M275 154h1M333 154h1M337 154h1M359 154h1M373 154h1M388 154h1M390 154h1M393 154h1M405 154h2M422 154h1M430 154h2M434 154h2M444 154h1M456 154h1M458 154h1M461 154h2M468 154h1M478 154h1M482 154h1M487 154h2M490 154h1M494 154h1M498 154h1M504 154h1M507 154h1M520 154h1M524 154h1M553 154h1M96 155h2M105 155h1M111 155h1M137 155h1M145 155h1M158 155h1M227 155h1M263 155h1M282 155h1M290 155h1M294 155h2M308 155h1M328 155h1M345 155h1M349 155h1M353 155h1M364 155h1M371 155h2M382 155h1M401 155h1M404 155h1M407 155h1M411 155h1M415 155h1M439 155h1M459 155h1M473 155h1M476 155h1M484 155h1M497 155h1M502 155h1M509 155h1M516 155h1M523 155h1M526 155h1M531 155h1M92 156h1M102 156h1M124 156h1M134 156h1M139 156h2M151 156h1M168 156h1M170 156h2M188 156h1M201 156h1M239 156h1M251 156h1M265 156h1M316 156h1M332 156h1M341 156h1M346 156h1M357 156h1M365 156h1M371 156h1M374 156h1M407 156h1M429 156h1M438 156h1M458 156h1M470 156h1M474 156h1M482 156h1M486 156h1M493 156h1M495 156h2M509 156h1M519 156h1M522 156h1M531 156h1M541 156h1M546 156h1M560 156h1M97 157h1M118 157h1M123 157h1M132 157h1M134 157h1M159 157h1M163 157h1M170 157h1M197 157h1M205 157h1M207 157h1M225 157h1M230 157h1M233 157h1M240 157h1M247 157h1M312 157h1M315 157h1M341 157h1M365 157h1M403 157h1M413 157h1M421 157h1M425 157h1M448 157h1M456 157h1M460 157h1M462 157h1M478 157h1M482 157h1M493 157h1M506 157h1M521 157h1M524 157h1M526 157h1M531 157h1M96 158h1M149 158h1M173 158h1M177 158h1M231 158h1M282 158h1M287 158h1M290 158h1M298 158h1M302 158h1M308 158h2M321 158h1M327 158h1M331 158h1M335 158h2M338 158h1M360 158h1M371 158h1M386 158h1M432 158h1M453 158h1M490 158h1M505 158h1M524 158h1M526 158h1M538 158h1M101 159h1M103 159h1M113 159h1M118 159h1M127 159h1M132 159h1M136 159h1M166 159h1M203 159h2M213 159h1M246 159h1M277 159h1M281 159h1M299 159h1M310 159h1M314 159h1M329 159h2M341 159h1M363 159h1M367 159h1M377 159h1M393 159h1M395 159h1M405 159h1M414 159h1M417 159h1M425 159h1M474 159h1M484 159h1M500 159h1M512 159h1M528 159h1M546 159h2M554 159h3M92 160h1M100 160h1M104 160h1M116 160h1M125 160h1M139 160h1M153 160h1M155 160h1M159 160h1M173 160h1M194 160h1M223 160h1M228 160h1M238 160h1M240 160h1M271 160h1M276 160h1M283 160h1M291 160h1M295 160h1M300 160h1M316 160h1M333 160h1M335 160h1M345 160h1M357 160h1M362 160h1M392 160h2M401 160h2M407 160h1M420 160h1M427 160h1M436 160h2M445 160h1M447 160h1M482 160h1M510 160h1M512 160h1M516 160h1M520 160h1M526 160h2M530 160h2M534 160h1M540 160h1M542 160h1M544 160h1M547 160h1M551 160h1M553 160h1M103 161h1M109 161h1M127 161h1M138 161h2M142 161h1M177 161h1M183 161h1M196 161h1M198 161h1M214 161h1M229 161h2M232 161h3M236 161h1M239 161h1M255 161h1M257 161h1M272 161h1M282 161h1M433 161h1M443 161h1M466 161h1M468 161h1M476 161h1M488 161h1M501 161h1M521 161h1M531 161h1M538 161h2M554 161h1M560 161h1M96 162h1M118 162h1M122 162h1M152 162h1M167 162h1M188 162h1M191 162h1M194 162h2M215 162h1M226 162h1M229 162h1M245 162h1M247 162h1M255 162h1M273 162h1M275 162h1M307 162h1M318 162h1M381 162h1M390 162h1M400 162h1M404 162h1M414 162h1M444 162h1M465 162h1M468 162h1M477 162h1M485 162h2M491 162h1M499 162h1M502 162h1M504 162h1M508 162h1M511 162h1M515 162h1M521 162h1M525 162h1M530 162h1M537 162h1M541 162h1M562 162h1M567 162h1M571 162h1M578 162h1M105 163h1M130 163h1M145 163h1M152 163h1M170 163h1M173 163h1M180 163h1M188 163h1M190 163h1M210 163h1M216 163h1M230 163h1M248 163h1M250 163h1M254 163h1M269 163h2M274 163h1M417 163h1M437 163h1M451 163h1M474 163h1M485 163h1M493 163h1M498 163h1M515 163h1M526 163h2M531 163h1M533 163h2M541 163h2M568 163h2M571 163h1M139 164h1M174 164h2M187 164h1M198 164h1M202 164h1M205 164h1M207 164h1M210 164h1M224 164h1M241 164h1M243 164h2M254 164h1M265 164h2M365 164h1M371 164h1M388 164h1M390 164h1M410 164h1M439 164h1M441 164h1M468 164h1M473 164h1M498 164h1M503 164h1M519 164h2M526 164h1M538 164h1M540 164h1M544 164h1M548 164h1M564 164h1M568 164h1M577 164h1M579 164h1M99 165h1M110 165h1M136 165h1M152 165h1M156 165h1M166 165h1M175 165h2M183 165h1M186 165h2M190 165h1M195 165h1M198 165h2M206 165h1M222 165h1M228 165h1M242 165h1M244 165h1M416 165h1M427 165h1M437 165h1M494 165h1M501 165h1M507 165h1M515 165h1M520 165h1M523 165h1M530 165h1M542 165h3M553 165h1M559 165h1M562 165h1M567 165h1M577 165h1M579 165h1M96 166h1M107 166h1M146 166h1M155 166h1M159 166h1M167 166h1M170 166h1M182 166h1M192 166h1M199 166h1M213 166h1M231 166h1M233 166h1M238 166h1M248 166h1M253 166h1M265 166h1M271 166h2M358 166h1M429 166h1M446 166h1M448 166h1M469 166h1M489 166h1M498 166h1M505 166h1M533 166h2M537 166h1M545 166h1M556 166h1M568 166h1M577 166h1M579 166h1M95 167h1M106 167h1M126 167h1M135 167h1M144 167h1M148 167h1M160 167h1M166 167h1M180 167h2M188 167h1M191 167h2M195 167h1M199 167h1M209 167h1M237 167h1M252 167h1M272 167h1M300 167h1M325 167h1M390 167h1M393 167h1M401 167h1M407 167h1M441 167h1M462 167h1M489 167h1M493 167h2M498 167h1M500 167h1M506 167h1M513 167h1M523 167h1M531 167h2M543 167h1M565 167h1M573 167h2M579 167h1M97 168h1M108 168h1M129 168h1M134 168h1M137 168h1M143 168h1M146 168h1M153 168h1M170 168h1M178 168h1M180 168h1M186 168h1M195 168h1M208 168h1M211 168h1M221 168h1M238 168h2M242 168h1M245 168h1M259 168h1M263 168h2M275 168h1M318 168h1M368 168h1M402 168h1M414 168h1M419 168h1M444 168h1M466 168h1M482 168h1M493 168h2M497 168h1M526 168h1M542 168h2M548 168h1M564 168h1M126 169h1M140 169h1M149 169h1M169 169h1M176 169h1M195 169h1M227 169h1M241 169h2M271 169h1M274 169h1M277 169h1M383 169h1M386 169h1M408 169h1M415 169h1M417 169h2M423 169h1M462 169h1M487 169h1M493 169h1M505 169h1M521 169h3M536 169h1M545 169h1M554 169h1M558 169h1M569 169h1M579 169h1M107 170h1M123 170h1M130 170h1M140 170h1M149 170h1M151 170h1M155 170h1M157 170h2M166 170h1M169 170h1M174 170h2M208 170h1M246 170h1M255 170h1M257 170h1M261 170h1M268 170h1M273 170h1M372 170h1M421 170h1M434 170h1M443 170h1M458 170h1M466 170h1M472 170h1M477 170h1M490 170h1M500 170h1M502 170h1M504 170h1M525 170h1M551 170h2M569 170h1M572 170h1M108 171h1M114 171h1M116 171h1M121 171h1M154 171h2M164 171h1M183 171h1M192 171h1M207 171h1M212 171h1M214 171h1M233 171h1M318 171h1M398 171h1M439 171h1M458 171h1M467 171h1M477 171h1M490 171h1M525 171h1M540 171h1M551 171h1M554 171h1M561 171h1M563 171h1M565 171h1M571 171h1M573 171h1M96 172h1M101 172h1M109 172h1M127 172h1M130 172h1M133 172h1M135 172h1M153 172h1M167 172h1M169 172h1M190 172h1M204 172h1M248 172h1M265 172h1M377 172h1M383 172h1M429 172h1M444 172h1M452 172h1M458 172h1M464 172h1M479 172h1M492 172h1M497 172h1M527 172h1M538 172h1M542 172h1M562 172h1M568 172h2M580 172h1M95 173h1M98 173h1M100 173h1M105 173h1M109 173h1M119 173h2M127 173h1M132 173h1M152 173h1M176 173h1M185 173h1M228 173h1M262 173h1M268 173h2M292 173h1M315 173h1M320 173h1M335 173h1M374 173h1M421 173h1M453 173h1M459 173h1M468 173h1M475 173h1M495 173h1M504 173h1M515 173h1M519 173h1M550 173h1M565 173h1M580 173h1M93 174h1M95 174h1M138 174h1M147 174h1M156 174h1M160 174h1M162 174h1M171 174h1M173 174h1M178 174h1M183 174h1M191 174h1M228 174h1M238 174h1M302 174h1M331 174h1M407 174h1M411 174h1M418 174h1M466 174h1M481 174h1M505 174h1M515 174h1M542 174h1M573 174h1M92 175h1M96 175h1M99 175h1M119 175h1M122 175h1M135 175h1M142 175h1M150 175h1M153 175h1M160 175h1M169 175h1M173 175h1M178 175h1M192 175h1M223 175h1M236 175h1M247 175h1M262 175h1M375 175h1M422 175h1M433 175h1M440 175h1M454 175h1M474 175h1M490 175h1M496 175h1M508 175h1M515 175h1M570 175h1M572 175h2M575 175h1M92 176h1M95 176h1M105 176h1M121 176h1M124 176h1M163 176h1M186 176h1M192 176h1M206 176h1M322 176h1M413 176h1M443 176h1M483 176h1M491 176h1M499 176h1M502 176h1M514 176h1M553 176h1M558 176h1M563 176h1M572 176h1M94 177h1M103 177h1M111 177h1M117 177h1M126 177h1M133 177h1M146 177h1M149 177h1M151 177h1M162 177h1M209 177h1M236 177h1M272 177h2M346 177h1M367 177h1M410 177h1M417 177h1M421 177h1M431 177h1M439 177h1M460 177h1M475 177h1M484 177h1M491 177h1M502 177h1M511 177h1M514 177h1M516 177h1M539 177h1M549 177h1M574 177h1M96 178h1M109 178h1M115 178h1M119 178h1M123 178h1M128 178h1M137 178h1M148 178h1M151 178h1M180 178h1M188 178h1M212 178h1M261 178h1M331 178h1M432 178h1M444 178h1M466 178h1M496 178h1M502 178h1M506 178h1M523 178h1M529 178h1M532 178h1M540 178h1M555 178h2M561 178h1M94 179h1M96 179h1M122 179h1M129 179h1M131 179h1M135 179h1M147 179h1M149 179h1M156 179h1M163 179h1M170 179h1M180 179h1M207 179h1M216 179h1M220 179h1M224 179h1M229 179h1M236 179h1M238 179h1M241 179h1M247 179h1M254 179h1M320 179h1M438 179h1M446 179h1M486 179h2M503 179h1M510 179h1M514 179h1M517 179h1M530 179h1M538 179h1M549 179h2M573 179h1M116 180h1M180 180h1M200 180h1M211 180h1M222 180h1M225 180h1M230 180h1M239 180h1M245 180h1M248 180h1M251 180h1M256 180h1M266 180h1M465 180h1M500 180h1M505 180h1M544 180h1M578 180h1M103 181h1M105 181h1M127 181h1M129 181h1M153 181h2M156 181h1M191 181h1M197 181h1M202 181h1M215 181h1M226 181h1M262 181h1M273 181h1M365 181h1M387 181h1M426 181h2M475 181h1M478 181h1M524 181h1M529 181h2M536 181h1M541 181h1M553 181h1M557 181h1M559 181h1M565 181h1M573 181h1M94 182h2M114 182h1M150 182h1M175 182h1M186 182h1M198 182h1M200 182h1M215 182h1M221 182h1M231 182h1M266 182h1M315 182h1M320 182h1M395 182h1M412 182h1M436 182h1M448 182h1M453 182h1M480 182h1M493 182h1M501 182h1M556 182h1M560 182h1M570 182h1M96 183h2M109 183h1M145 183h1M153 183h1M166 183h1M177 183h1M181 183h1M194 183h1M196 183h1M214 183h1M222 183h1M246 183h1M321 183h1M442 183h1M457 183h1M465 183h1M468 183h1M503 183h1M515 183h1M535 183h1M556 183h1M558 183h1M577 183h1M108 184h2M148 184h1M152 184h1M154 184h1M197 184h1M212 184h1M264 184h1M270 184h1M376 184h1M438 184h1M472 184h1M512 184h1M519 184h1M551 184h1M556 184h1M559 184h1M573 184h1M578 184h1M117 185h1M123 185h1M144 185h1M165 185h1M197 185h1M204 185h1M220 185h1M229 185h1M242 185h1M260 185h1M467 185h1M497 185h1M550 185h2M565 185h1M102 186h1M105 186h1M118 186h1M138 186h3M155 186h1M158 186h1M165 186h1M171 186h1M191 186h1M198 186h1M264 186h1M314 186h1M344 186h1M397 186h1M434 186h1M436 186h1M439 186h1M454 186h1M490 186h1M541 186h1M556 186h1M565 186h1M567 186h1M107 187h1M115 187h1M134 187h1M187 187h1M192 187h2M195 187h1M225 187h1M454 187h1M532 187h1M562 187h2M125 188h1M129 188h1M136 188h1M157 188h1M161 188h1M183 188h1M198 188h1M230 188h1M233 188h1M270 188h1M278 188h1M295 188h1M356 188h1M426 188h1M467 188h1M478 188h1M498 188h1M544 188h1M562 188h1M566 188h1M568 188h1M576 188h1M106 189h1M121 189h1M147 189h1M161 189h1M165 189h1M251 189h1M271 189h1M438 189h1M493 189h1M495 189h1M524 189h1M528 189h1M542 189h1M548 189h1M552 189h1M579 189h1M117 190h1M143 190h1M148 190h1M153 190h1M222 190h1M233 190h1M243 190h1M345 190h1M437 190h1M469 190h1M491 190h1M513 190h1M532 190h1M537 190h1M542 190h1M576 190h1M131 191h2M153 191h1M466 191h1M509 191h1M517 191h1M544 191h1M102 192h1M153 192h1M159 192h1M175 192h1M205 192h1M256 192h1M400 192h1M467 192h1M496 192h1M508 192h1M525 192h1M546 192h1M548 192h1M556 192h1M574 192h1M121 193h1M127 193h1M142 193h1M462 193h1M533 193h1M133 194h2M234 194h1M312 194h1M435 194h1M497 194h1M128 195h1M135 195h1M223 195h1M301 195h1M412 195h1M541 195h1M106 196h1M123 196h1M164 196h1M168 196h1M187 196h1M192 196h1M215 196h1M232 196h1M467 196h1M498 196h1M550 196h1M557 196h2M152 197h1M177 197h1M376 197h1M489 197h1M561 197h1M573 197h1M96 198h1M255 198h1M542 198h1M564 198h1M566 198h1M573 198h1M94 199h1M206 199h1M229 199h1M402 199h1M464 199h1M552 199h1M554 199h1M569 199h1M94 200h1M155 200h1M339 200h1M194 201h1M446 201h1M522 201h1M532 201h1M136 202h1M445 202h1M488 202h1M543 202h1M573 202h1M114 203h1M200 203h1M230 203h1M252 203h1M472 203h1M528 203h1M116 204h1M146 204h1M212 204h1M318 204h1M328 204h1M521 204h1M537 204h1M560 204h1M131 205h2M327 205h1M478 205h1M98 206h1M118 206h1M181 206h1M285 206h1M352 206h1M433 206h1M550 206h1M556 206h1M95 207h1M105 207h1M204 207h1M422 207h1M432 207h1M497 207h1M511 207h1M100 208h1M147 208h1M235 208h1M313 208h1M425 208h1M538 208h1M540 208h1M548 208h1M102 209h1M176 209h1M461 209h1M527 209h1M532 209h1M552 209h1M110 210h1M132 210h1M229 210h1M378 210h1M561 210h1M106 211h1M108 211h1M131 211h1M253 211h1M295 211h1M304 211h1M526 211h1M111 212h1M173 212h1M185 212h1M535 212h1M107 213h1M120 213h1M122 213h1M154 213h1M258 213h1M327 213h1M498 213h1M541 213h1M138 214h1M174 214h1M560 214h1M580 214h1M121 215h1M133 215h2M154 215h1M209 215h1M266 215h1M345 215h1M94 216h1M98 216h1M106 216h1M112 216h1M175 216h1M541 216h1M107 217h1M114 217h1M477 217h1M568 217h1M117 218h1M126 218h1M220 218h1M578 218h1M108 219h1M111 219h1M139 219h1M521 219h1M576 219h1M290 220h1M559 220h1M577 220h1M279 221h1M165 222h1M250 222h1M531 222h1M541 222h1M576 222h2M95 223h1M140 223h1M152 224h1M570 224h1M159 225h1M562 226h1M574 226h1M138 227h1M156 227h1M320 227h1M344 227h1M98 228h1M209 228h1M467 228h1M479 228h1M486 228h1M438 229h1M101 230h1M515 231h1M125 232h1M158 232h1M425 232h1M186 233h1M542 233h2M103 234h1M117 234h1M475 234h1M546 234h1M452 235h1M533 235h1M175 236h1M414 236h1M552 236h1M476 237h1M122 241h1M241 242h1M373 242h1M376 242h1M529 243h1M98 244h1M151 244h1M299 244h1M97 245h1M123 245h1M449 245h1M114 247h1M221 247h1M443 248h1M145 249h1M169 249h1M353 250h1M92 252h1M157 252h1M103 253h1M172 254h1M542 254h1M221 255h1M135 256h1M170 258h1M347 259h1M494 259h1M101 264h1M159 264h1M524 264h1M442 265h1M541 265h1M101 266h1M256 268h1M192 270h1M468 272h1M105 275h1M190 275h1M190 277h1"/><path stroke="#facbb2" d="M449 131h1M451 131h1M466 131h1M476 131h2M452 132h1M455 132h1M458 132h1M462 132h1M467 132h1M469 132h1M471 132h1M475 132h1M482 132h1M487 132h1M490 132h1M495 132h1M452 133h1M482 133h1M493 133h2M497 133h1M500 133h1M504 133h1M466 134h1M481 134h1M504 134h1M507 134h1M511 134h1M454 135h1M461 135h1M464 135h1M468 135h1M453 136h1M461 136h1M533 137h1M538 137h1M541 137h1M250 138h1M252 138h1M260 138h1M264 138h3M480 138h1M544 138h1M220 139h1M225 139h1M228 139h1M239 139h1M247 139h1M249 139h1M258 139h1M260 139h1M461 139h1M465 139h1M496 139h1M521 139h1M545 139h1M207 140h1M222 140h1M228 140h1M230 140h2M241 140h1M258 140h1M463 140h2M488 140h1M525 140h1M552 140h1M554 140h1M557 140h1M180 141h1M182 141h1M190 141h1M195 141h1M205 141h1M250 141h2M457 141h1M461 141h2M92 142h2M176 142h1M203 142h1M242 142h1M447 142h1M451 142h1M455 142h1M469 142h1M505 142h1M516 142h1M565 142h2M568 142h1M165 143h1M170 143h1M176 143h1M179 143h1M198 143h1M213 143h1M244 143h1M441 143h1M443 143h2M446 143h1M456 143h1M534 143h1M540 143h1M574 143h2M577 143h1M101 144h1M154 144h1M165 144h1M219 144h1M430 144h1M452 144h1M99 145h1M150 145h1M152 145h1M160 145h1M221 145h1M436 145h1M438 145h1M457 145h2M97 146h1M100 146h1M135 146h1M138 146h1M180 146h1M183 146h1M213 146h1M414 146h1M417 146h1M419 146h1M421 146h1M431 146h1M433 146h1M440 146h1M480 146h1M508 146h1M92 147h1M94 147h1M130 147h1M157 147h1M205 147h1M216 147h1M220 147h1M406 147h1M408 147h1M418 147h1M422 147h1M424 147h1M432 147h1M440 147h1M94 148h1M96 148h1M100 148h1M119 148h1M150 148h1M163 148h1M173 148h1M205 148h1M228 148h1M411 148h1M415 148h3M425 148h1M433 148h1M436 148h1M438 148h1M445 148h1M451 148h1M461 148h2M503 148h1M577 148h1M112 149h1M164 149h1M398 149h1M407 149h1M412 149h1M420 149h1M423 149h1M430 149h1M432 149h1M434 149h1M451 149h1M464 149h2M476 149h1M95 150h1M110 150h1M112 150h1M115 150h1M152 150h1M155 150h1M165 150h1M193 150h1M224 150h1M388 150h1M410 150h1M416 150h1M452 150h1M463 150h1M466 150h1M481 150h1M485 150h1M495 150h1M549 150h1M93 151h1M111 151h1M124 151h1M133 151h1M170 151h1M198 151h1M398 151h1M407 151h1M422 151h1M426 151h1M436 151h1M447 151h1M459 151h1M468 151h1M493 151h1M497 151h1M499 151h2M524 151h1M107 152h1M109 152h1M120 152h1M126 152h1M130 152h1M187 152h1M209 152h1M246 152h1M272 152h1M319 152h1M367 152h1M399 152h1M428 152h2M442 152h1M445 152h1M453 152h1M463 152h1M473 152h1M487 152h2M509 152h1M99 153h1M112 153h1M164 153h1M255 153h1M258 153h1M280 153h1M310 153h1M362 153h1M364 153h1M371 153h1M398 153h1M405 153h1M413 153h1M416 153h1M431 153h1M434 153h1M458 153h1M471 153h1M484 153h1M492 153h2M499 153h1M505 153h1M514 153h2M95 154h1M99 154h1M105 154h1M112 154h1M280 154h2M292 154h1M305 154h1M312 154h1M316 154h1M350 154h1M389 154h1M413 154h1M420 154h1M427 154h1M437 154h1M457 154h1M464 154h1M471 154h1M485 154h2M491 154h1M503 154h1M515 154h4M115 155h1M214 155h1M281 155h1M340 155h1M352 155h1M356 155h1M373 155h1M388 155h1M390 155h1M436 155h1M464 155h1M466 155h2M482 155h1M490 155h1M507 155h1M512 155h1M515 155h1M519 155h1M534 155h1M551 155h1M553 155h1M145 156h2M183 156h1M189 156h1M255 156h1M266 156h1M270 156h1M285 156h1M295 156h1M320 156h1M336 156h1M384 156h1M404 156h1M421 156h1M424 156h2M434 156h1M466 156h1M480 156h1M492 156h1M506 156h1M516 156h1M518 156h1M521 156h1M527 156h2M533 156h1M212 157h1M253 157h2M259 157h1M263 157h1M265 157h2M275 157h1M323 157h1M412 157h1M453 157h1M480 157h1M488 157h1M496 157h1M500 157h1M504 157h1M517 157h1M520 157h1M529 157h2M533 157h2M541 157h2M546 157h1M92 158h1M126 158h1M145 158h1M202 158h1M236 158h1M239 158h1M252 158h1M263 158h1M278 158h1M280 158h1M333 158h1M347 158h1M354 158h1M368 158h1M410 158h1M414 158h1M417 158h1M427 158h1M434 158h1M462 158h1M474 158h1M478 158h1M506 158h1M515 158h1M522 158h1M531 158h2M537 158h1M554 158h1M116 159h2M220 159h1M224 159h5M232 159h1M238 159h1M253 159h1M274 159h1M385 159h1M436 159h1M439 159h1M453 159h1M461 159h1M470 159h1M473 159h1M518 159h1M520 159h1M525 159h1M531 159h1M539 159h1M553 159h1M561 159h1M108 160h1M152 160h1M220 160h1M224 160h1M241 160h1M243 160h1M258 160h1M265 160h1M272 160h1M278 160h1M307 160h1M310 160h1M373 160h1M429 160h1M433 160h1M462 160h1M487 160h1M493 160h1M528 160h1M556 160h1M566 160h1M570 160h1M99 161h1M123 161h1M201 161h1M216 161h2M226 161h1M231 161h1M249 161h1M251 161h1M254 161h1M261 161h1M271 161h1M277 161h1M359 161h1M421 161h1M424 161h1M440 161h1M446 161h1M473 161h1M481 161h1M486 161h2M493 161h1M500 161h1M515 161h1M529 161h1M544 161h1M549 161h1M553 161h1M562 161h1M567 161h1M571 161h1M576 161h1M578 161h1M183 162h1M204 162h1M232 162h1M246 162h1M269 162h1M271 162h1M316 162h1M357 162h1M361 162h1M364 162h1M408 162h1M492 162h1M495 162h1M497 162h1M500 162h1M507 162h1M517 162h1M520 162h1M527 162h1M546 162h1M570 162h1M572 162h2M97 163h1M169 163h1M200 163h1M219 163h1M225 163h1M242 163h1M265 163h1M408 163h1M442 163h1M444 163h1M481 163h2M484 163h1M491 163h1M495 163h2M504 163h1M510 163h1M513 163h1M546 163h1M558 163h1M566 163h1M575 163h1M580 163h1M95 164h1M115 164h1M142 164h1M156 164h1M165 164h2M193 164h1M196 164h1M200 164h1M222 164h1M258 164h1M295 164h1M336 164h1M374 164h1M407 164h1M443 164h1M445 164h1M450 164h1M456 164h1M481 164h1M485 164h1M492 164h1M496 164h1M505 164h1M508 164h1M513 164h1M515 164h2M525 164h1M107 165h1M148 165h1M158 165h1M167 165h1M169 165h1M211 165h1M221 165h1M225 165h1M252 165h1M404 165h1M449 165h1M476 165h1M503 165h1M505 165h2M508 165h1M511 165h1M535 165h1M540 165h1M545 165h1M550 165h2M554 165h1M564 165h1M566 165h1M94 166h1M97 166h1M125 166h1M148 166h1M176 166h1M178 166h1M200 166h1M202 166h1M205 166h1M236 166h1M240 166h1M245 166h1M247 166h1M251 166h1M308 166h1M354 166h1M444 166h1M456 166h1M492 166h1M503 166h1M511 166h1M525 166h1M542 166h1M544 166h1M560 166h1M562 166h1M575 166h1M130 167h1M140 167h1M150 167h1M156 167h1M175 167h1M177 167h1M205 167h1M391 167h1M396 167h1M418 167h1M457 167h1M486 167h1M521 167h1M527 167h1M534 167h1M536 167h1M539 167h2M552 167h1M124 168h1M127 168h1M132 168h1M144 168h1M161 168h1M383 168h1M412 168h1M415 168h1M421 168h1M426 168h1M430 168h1M434 168h1M502 168h1M506 168h1M512 168h1M515 168h1M525 168h1M536 168h2M541 168h1M546 168h1M572 168h1M193 169h1M205 169h1M216 169h2M221 169h1M260 169h1M276 169h1M285 169h1M420 169h1M425 169h2M432 169h1M439 169h1M442 169h2M449 169h1M456 169h1M459 169h1M461 169h1M516 169h1M525 169h2M555 169h1M561 169h1M108 170h1M111 170h1M114 170h1M117 170h1M120 170h1M122 170h1M132 170h1M202 170h1M410 170h1M423 170h1M429 170h1M452 170h1M462 170h1M469 170h2M529 170h1M541 170h1M558 170h1M563 170h1M571 170h1M109 171h1M112 171h1M117 171h1M126 171h1M129 171h1M148 171h1M153 171h1M158 171h1M172 171h1M240 171h1M254 171h1M273 171h1M400 171h1M406 171h1M408 171h1M415 171h2M424 171h1M459 171h1M470 171h1M473 171h1M480 171h1M483 171h1M491 171h1M498 171h1M508 171h1M514 171h1M531 171h2M575 171h1M577 171h1M100 172h1M105 172h1M108 172h1M110 172h1M112 172h1M139 172h1M149 172h2M168 172h1M202 172h1M232 172h1M245 172h1M251 172h1M278 172h1M313 172h1M422 172h1M437 172h1M456 172h1M483 172h1M489 172h1M491 172h1M515 172h1M520 172h1M540 172h1M553 172h1M567 172h1M572 172h1M93 173h1M123 173h2M128 173h1M144 173h1M151 173h1M153 173h1M197 173h1M213 173h1M255 173h1M280 173h1M377 173h1M412 173h1M420 173h1M470 173h1M496 173h1M500 173h1M506 173h2M548 173h1M557 173h1M569 173h1M573 173h3M577 173h2M97 174h1M132 174h1M141 174h1M189 174h1M219 174h1M237 174h1M281 174h1M309 174h1M433 174h1M444 174h1M461 174h1M496 174h1M499 174h1M501 174h2M504 174h1M506 174h1M510 174h1M97 175h1M105 175h1M117 175h1M127 175h1M254 175h1M291 175h1M354 175h1M421 175h1M455 175h1M512 175h1M516 175h1M521 175h1M534 175h2M539 175h1M556 175h2M567 175h1M100 176h3M150 176h1M162 176h1M190 176h1M258 176h1M392 176h2M410 176h1M415 176h1M458 176h2M466 176h1M490 176h1M503 176h1M523 176h1M559 176h1M565 176h1M569 176h1M571 176h1M97 177h1M104 177h1M113 177h1M172 177h1M358 177h1M422 177h1M432 177h1M466 177h1M468 177h1M536 177h1M540 177h1M575 177h1M95 178h1M112 178h1M132 178h1M141 178h1M161 178h1M191 178h1M208 178h1M244 178h1M277 178h1M284 178h1M345 178h1M369 178h1M398 178h1M421 178h1M467 178h1M471 178h1M509 178h1M518 178h1M551 178h1M569 178h1M95 179h1M121 179h1M124 179h1M126 179h1M162 179h1M184 179h1M186 179h1M191 179h1M202 179h1M223 179h1M257 179h1M319 179h1M414 179h1M416 179h1M505 179h1M520 179h1M540 179h1M559 179h1M565 179h1M97 180h1M136 180h1M160 180h1M163 180h1M207 180h1M213 180h1M236 180h1M238 180h1M243 180h1M390 180h1M453 180h1M491 180h1M543 180h1M545 180h1M559 180h1M115 181h1M122 181h1M136 181h1M190 181h1M203 181h1M209 181h1M388 181h1M411 181h1M467 181h1M481 181h1M548 181h1M551 181h1M555 181h1M576 181h1M118 182h1M131 182h1M133 182h1M168 182h1M174 182h1M176 182h1M191 182h1M201 182h1M203 182h1M218 182h1M416 182h1M468 182h1M500 182h1M505 182h2M518 182h1M533 182h1M545 182h1M558 182h1M562 182h1M568 182h1M574 182h1M130 183h1M133 183h1M152 183h1M157 183h1M164 183h1M175 183h1M183 183h1M189 183h1M206 183h2M213 183h1M230 183h1M258 183h1M304 183h1M385 183h1M497 183h1M507 183h1M512 183h1M550 183h1M553 183h1M565 183h1M569 183h1M110 184h1M121 184h1M136 184h1M181 184h1M224 184h2M235 184h1M245 184h1M281 184h1M415 184h1M518 184h1M529 184h1M543 184h2M562 184h1M572 184h1M94 185h1M116 185h1M138 185h1M149 185h1M179 185h1M215 185h1M249 185h1M268 185h1M400 185h1M527 185h1M529 185h1M558 185h1M137 186h1M157 186h1M162 186h1M167 186h1M317 186h1M329 186h1M410 186h1M415 186h1M492 186h1M495 186h1M503 186h1M546 186h1M550 186h1M573 186h1M100 187h1M104 187h1M106 187h1M131 187h1M133 187h1M148 187h1M151 187h1M172 187h1M191 187h1M210 187h1M218 187h1M518 187h1M572 187h1M577 187h1M116 188h1M126 188h1M149 188h1M156 188h1M169 188h1M194 188h1M209 188h1M226 188h1M554 188h1M560 188h1M565 188h1M126 189h1M128 189h1M160 189h1M186 189h1M198 189h1M238 189h1M261 189h1M512 189h1M515 189h1M560 189h1M562 189h1M580 189h1M95 190h1M98 190h1M111 190h1M116 190h1M150 190h1M162 190h1M166 190h1M198 190h1M261 190h1M278 190h1M285 190h1M343 190h1M522 190h1M563 190h1M572 190h1M579 190h1M145 191h1M147 191h1M174 191h1M207 191h1M231 191h1M244 191h1M287 191h1M296 191h1M418 191h1M533 191h1M101 192h1M113 192h1M119 192h1M170 192h1M172 192h1M217 192h1M225 192h1M232 192h1M493 192h1M553 192h1M128 193h1M134 193h1M183 193h1M238 193h1M273 193h1M431 193h1M549 193h1M109 194h2M223 194h1M440 194h1M457 194h1M502 194h1M516 194h1M537 194h1M578 194h1M100 195h1M118 195h1M262 195h1M443 195h1M577 195h1M99 196h1M114 196h1M130 196h1M160 196h1M257 196h1M474 196h1M501 196h1M567 196h1M198 197h1M205 197h1M234 197h1M540 197h1M567 197h1M580 197h1M119 198h1M145 198h1M209 198h1M266 198h1M350 198h1M540 198h1M107 199h1M134 199h1M163 199h1M330 199h1M511 199h1M97 200h1M119 200h2M142 200h1M176 200h1M280 200h1M576 200h1M105 201h1M144 201h1M529 201h1M566 201h1M102 202h1M153 202h1M112 203h1M144 203h1M156 203h1M247 203h1M484 203h1M529 203h1M130 204h1M150 204h1M161 204h1M229 204h1M545 204h1M562 204h1M99 205h1M176 205h1M540 205h1M550 205h1M559 205h1M207 207h1M568 207h1M225 208h1M495 208h1M165 210h1M511 210h1M532 210h1M559 210h1M170 211h1M96 212h1M427 212h1M438 212h1M556 212h1M560 212h1M112 213h1M125 213h1M560 213h1M106 214h1M115 214h1M161 214h1M546 214h1M568 214h1M98 215h1M104 215h1M114 215h2M163 216h1M195 216h1M245 216h1M571 216h1M574 216h1M580 216h1M187 217h1M463 217h1M503 217h1M550 217h2M185 218h1M558 219h1M122 220h1M311 221h1M492 222h1M128 223h1M157 223h1M332 223h1M155 224h1M116 226h1M308 226h1M140 227h1M358 227h1M577 227h1M93 229h1M498 231h1M471 232h1M127 234h1M133 234h1M96 235h1M443 235h1M576 236h1M135 237h1M176 237h1M151 238h1M95 241h1M230 241h1M450 242h1M536 243h1M143 244h1M375 244h1M395 244h1M238 245h1M359 245h1M118 250h1M290 253h1M513 256h1M121 258h1M134 258h1M544 260h1M538 262h1M501 266h1M532 267h1M179 268h1M275 268h1M239 270h1M144 272h1M424 275h1M580 275h1M208 276h1"/><path stroke="#f7b597" d="M442 131h1M450 131h1M454 131h1M457 131h1M459 131h2M465 131h1M470 131h1M478 131h1M440 132h1M442 132h1M444 132h5M454 132h1M456 132h2M461 132h1M463 132h2M470 132h1M472 132h1M476 132h2M480 132h1M484 132h1M489 132h1M491 132h1M497 132h1M499 132h1M456 133h1M492 133h1M503 133h1M506 133h1M508 133h1M503 134h1M506 134h1M513 135h1M523 135h2M527 135h1M523 136h1M528 136h1M534 136h2M457 137h1M537 137h1M540 137h1M251 138h1M253 138h1M256 138h1M267 138h1M541 138h1M218 139h1M224 139h1M232 139h2M236 139h2M242 139h2M251 139h1M253 139h1M255 139h2M262 139h1M264 139h1M266 139h1M269 139h1M546 139h1M549 139h2M555 139h1M195 140h1M198 140h1M200 140h1M203 140h1M206 140h1M216 140h2M225 140h1M232 140h4M238 140h2M461 140h1M551 140h1M556 140h1M558 140h1M183 141h1M187 141h1M189 141h1M192 141h1M198 141h2M207 141h1M211 141h1M455 141h2M459 141h1M560 141h1M564 141h1M171 142h1M182 142h1M187 142h1M445 142h2M450 142h1M454 142h1M457 142h1M574 142h1M100 143h1M161 143h3M167 143h1M175 143h1M437 143h1M445 143h1M451 143h1M572 143h1M578 143h1M580 143h1M158 144h1M168 144h1M183 144h1M185 144h1M429 144h1M431 144h1M439 144h4M455 144h1M579 144h1M92 145h1M102 145h1M151 145h1M154 145h2M158 145h1M179 145h1M218 145h1M424 145h1M431 145h1M92 146h1M95 146h1M137 146h1M139 146h1M144 146h3M148 146h1M150 146h1M167 146h1M169 146h1M416 146h1M420 146h1M436 146h1M451 146h1M540 146h1M128 147h1M133 147h1M135 147h1M142 147h1M149 147h1M203 147h1M411 147h2M415 147h2M448 147h1M455 147h1M458 147h1M93 148h1M131 148h2M400 148h1M402 148h1M409 148h1M414 148h1M419 148h1M424 148h1M428 148h1M443 148h1M455 148h1M114 149h2M117 149h1M121 149h2M124 149h1M168 149h1M404 149h1M406 149h1M408 149h1M411 149h1M414 149h2M424 149h1M435 149h3M445 149h2M461 149h2M466 149h2M469 149h1M471 149h4M101 150h1M113 150h2M121 150h1M407 150h1M412 150h1M422 150h1M425 150h2M433 150h2M438 150h1M442 150h1M445 150h1M447 150h1M453 150h1M457 150h1M462 150h1M474 150h1M484 150h1M488 150h3M92 151h1M95 151h1M107 151h1M110 151h1M113 151h1M406 151h1M414 151h1M451 151h1M462 151h2M469 151h1M479 151h1M485 151h2M488 151h1M495 151h1M504 151h2M102 152h1M118 152h1M262 152h1M286 152h1M382 152h1M385 152h1M400 152h1M465 152h1M469 152h1M477 152h1M494 152h1M502 152h1M101 153h1M104 153h1M246 153h1M294 153h2M356 153h1M408 153h1M438 153h1M462 153h1M465 153h1M508 153h4M513 153h1M519 153h1M313 154h1M321 154h1M340 154h1M345 154h1M353 154h1M423 154h1M426 154h1M449 154h1M459 154h1M474 154h1M481 154h1M484 154h1M492 154h1M523 154h1M93 155h1M183 155h1M273 155h1M285 155h1M311 155h1M374 155h1M391 155h1M402 155h1M409 155h1M437 155h1M444 155h2M487 155h1M489 155h1M511 155h1M530 155h1M175 156h1M376 156h1M414 156h1M426 156h1M468 156h1M513 156h1M530 156h1M532 156h1M539 156h2M242 157h1M249 157h1M252 157h1M255 157h1M261 157h1M264 157h1M272 157h1M331 157h1M379 157h1M418 157h1M442 157h1M527 157h1M532 157h1M537 157h1M543 157h1M235 158h1M237 158h1M250 158h1M253 158h1M264 158h1M266 158h1M269 158h1M273 158h1M276 158h1M313 158h1M404 158h1M407 158h1M412 158h1M421 158h1M425 158h1M468 158h1M494 158h1M501 158h1M533 158h1M542 158h1M550 158h1M552 158h2M555 158h1M159 159h1M176 159h1M196 159h1M221 159h1M234 159h1M247 159h1M255 159h1M262 159h3M266 159h1M270 159h1M278 159h1M320 159h1M337 159h1M354 159h1M379 159h2M477 159h1M496 159h1M526 159h1M540 159h1M544 159h1M549 159h1M551 159h1M558 159h3M563 159h2M200 160h2M225 160h3M229 160h2M242 160h1M244 160h3M249 160h1M254 160h2M259 160h1M268 160h1M273 160h3M277 160h1M404 160h1M474 160h1M478 160h1M480 160h1M532 160h1M549 160h1M559 160h1M569 160h1M171 161h1M185 161h1M189 161h2M194 161h1M204 161h1M207 161h1M211 161h1M213 161h1M218 161h1M238 161h1M243 161h1M245 161h2M248 161h1M253 161h1M263 161h1M268 161h2M276 161h1M278 161h1M313 161h1M364 161h1M381 161h1M453 161h1M472 161h1M489 161h1M491 161h2M520 161h1M577 161h1M92 162h1M178 162h2M185 162h1M192 162h1M196 162h3M238 162h2M260 162h1M363 162h1M433 162h1M442 162h1M448 162h1M482 162h1M487 162h2M493 162h1M503 162h1M545 162h1M550 162h1M558 162h1M561 162h1M564 162h1M569 162h1M575 162h1M166 163h2M181 163h1M187 163h1M272 163h1M439 163h1M500 163h3M506 163h1M535 163h1M540 163h1M548 163h1M570 163h1M579 163h1M177 164h1M197 164h1M212 164h1M236 164h1M354 164h1M386 164h1M403 164h1M419 164h1M510 164h1M512 164h1M554 164h1M139 165h1M146 165h1M150 165h1M154 165h1M160 165h1M162 165h1M168 165h1M180 165h1M185 165h1M412 165h1M419 165h1M455 165h1M481 165h1M484 165h1M514 165h1M516 165h1M529 165h1M549 165h1M101 166h1M128 166h1M138 166h1M141 166h2M144 166h1M147 166h1M154 166h1M173 166h1M212 166h1M221 166h1M319 166h1M441 166h1M461 166h1M481 166h1M494 166h1M528 166h2M532 166h1M536 166h1M566 166h1M100 167h1M139 167h1M141 167h1M145 167h2M159 167h1M525 167h1M529 167h1M538 167h1M553 167h1M559 167h1M561 167h1M94 168h1M123 168h1M130 168h1M133 168h1M135 168h1M147 168h1M408 168h1M413 168h1M423 168h1M428 168h1M485 168h1M489 168h1M503 168h1M517 168h1M521 168h1M539 168h1M557 168h1M574 168h1M117 169h2M145 169h1M237 169h1M266 169h1M419 169h1M438 169h1M440 169h1M458 169h1M504 169h1M546 169h1M549 169h1M113 170h1M118 170h1M179 170h1M231 170h1M278 170h1M413 170h1M416 170h1M448 170h1M451 170h1M457 170h1M459 170h1M463 170h1M468 170h1M475 170h2M513 170h1M526 170h1M553 170h1M555 170h1M560 170h1M575 170h1M107 171h1M111 171h1M113 171h1M137 171h1M173 171h1M199 171h1M428 171h1M464 171h1M468 171h1M482 171h1M487 171h1M527 171h1M539 171h1M558 171h1M562 171h1M574 171h1M579 171h1M93 172h1M98 172h2M115 172h1M119 172h1M185 172h1M214 172h1M225 172h1M343 172h1M427 172h1M484 172h1M488 172h1M501 172h1M544 172h1M547 172h1M97 173h1M101 173h1M106 173h1M116 173h1M146 173h1M166 173h1M171 173h1M430 173h1M483 173h1M493 173h1M499 173h1M501 173h2M540 173h1M554 173h1M113 174h1M121 174h1M157 174h1M165 174h1M434 174h1M477 174h1M484 174h1M509 174h1M107 175h1M114 175h1M128 175h1M191 175h1M249 175h1M432 175h1M465 175h1M471 175h1M514 175h1M525 175h1M544 175h1M553 175h1M558 175h1M565 175h1M574 175h1M111 176h1M181 176h1M226 176h1M231 176h1M241 176h1M468 176h1M500 176h1M504 176h1M520 176h1M522 176h1M524 176h1M529 176h1M536 176h1M539 176h1M564 176h1M92 177h1M101 177h1M150 177h1M206 177h2M429 177h1M485 177h2M525 177h1M532 177h1M572 177h1M139 178h1M249 178h1M251 178h1M256 178h2M259 178h1M433 178h1M447 178h1M576 178h1M215 179h1M227 179h1M248 179h1M258 179h2M286 179h1M496 179h1M500 179h1M504 179h1M526 179h1M575 179h1M129 180h1M188 180h1M210 180h1M214 180h2M235 180h1M241 180h1M421 180h1M433 180h1M449 180h1M480 180h1M546 180h5M565 180h1M186 181h1M199 181h1M206 181h1M213 181h1M445 181h1M471 181h1M490 181h1M522 181h1M545 181h1M554 181h1M580 181h1M119 182h1M127 182h1M171 182h2M177 182h1M179 182h1M182 182h1M190 182h1M206 182h1M228 182h1M302 182h1M413 182h1M425 182h1M475 182h1M513 182h1M549 182h1M571 182h1M101 183h1M134 183h1M147 183h1M156 183h1M158 183h1M163 183h1M172 183h1M191 183h1M212 183h1M233 183h1M251 183h1M377 183h1M522 183h1M561 183h1M580 183h1M106 184h1M150 184h1M156 184h1M158 184h1M182 184h1M191 184h1M200 184h2M232 184h1M234 184h1M256 184h1M411 184h1M476 184h1M505 184h1M515 184h1M545 184h1M558 184h1M571 184h1M574 184h1M145 185h1M225 185h1M255 185h1M570 185h1M572 185h4M114 186h1M135 186h1M152 186h1M243 186h1M467 186h1M536 186h1M577 186h1M579 186h2M110 187h1M118 187h1M128 187h1M142 187h1M152 187h1M157 187h1M222 187h1M253 187h1M433 187h1M479 187h1M525 187h1M542 187h1M552 187h1M172 188h1M174 188h1M180 188h1M193 188h1M221 188h1M240 188h1M474 188h1M483 188h1M539 188h1M575 188h1M108 189h1M321 189h1M457 189h1M469 189h1M475 189h1M511 189h1M573 189h1M158 190h1M163 190h1M493 190h2M142 191h1M225 191h1M531 191h1M142 192h1M163 192h1M202 192h1M297 192h1M464 192h1M511 192h1M523 192h1M541 192h1M131 193h1M396 193h1M122 194h1M124 194h1M218 194h1M220 194h1M394 194h1M571 194h2M123 195h1M127 195h1M214 195h1M478 195h1M535 195h1M111 196h1M126 196h1M136 196h1M191 196h1M137 197h1M336 197h1M387 197h1M513 197h1M147 198h1M145 199h1M150 199h1M216 199h1M555 199h1M211 200h1M560 201h1M161 202h1M507 202h2M102 203h1M117 203h1M165 203h1M128 204h1M166 204h1M326 204h1M542 204h1M109 206h1M132 206h1M437 206h1M524 206h1M560 206h1M103 207h1M470 208h1M526 208h1M97 209h1M219 209h1M330 209h1M402 209h1M515 209h1M111 211h1M290 211h1M456 211h1M107 212h1M130 212h1M227 212h1M550 212h1M103 213h1M158 214h1M162 215h1M136 216h1M222 216h1M113 217h1M529 217h1M534 217h1M542 217h1M93 218h1M275 219h1M308 219h1M544 219h1M99 220h1M219 220h1M311 220h1M121 221h1M234 221h1M572 221h1M94 222h1M575 222h1M164 223h1M171 224h1M534 224h1M487 225h1M543 225h1M96 226h1M545 226h1M240 227h1M554 229h1M149 231h1M380 231h1M562 234h1M143 235h1M183 235h1M253 236h1M381 236h1M547 238h1M200 240h1M272 240h1M502 240h1M115 241h1M125 242h1M533 246h1M252 248h1M196 252h1M556 254h1M124 257h1M114 258h1M94 262h1M180 262h1M115 274h1M579 278h1"/><path stroke="#f19e7d" d="M441 131h1M443 131h2M452 131h1M458 131h1M462 131h1M464 131h1M468 131h1M472 131h1M475 131h1M479 131h1M441 132h1M449 132h1M453 132h1M459 132h1M465 132h1M468 132h1M479 132h1M485 132h1M494 132h1M496 132h1M459 133h1M487 133h1M490 133h1M496 133h1M508 134h1M513 134h2M512 135h1M514 135h1M518 135h3M460 136h1M522 136h1M532 136h2M534 137h1M268 138h1M456 138h1M540 138h1M222 139h1M227 139h1M229 139h1M241 139h1M261 139h1M267 139h1M547 139h1M552 139h1M196 140h1M199 140h1M202 140h1M205 140h1M209 140h1M218 140h2M223 140h1M229 140h1M462 140h1M560 140h3M191 141h1M196 141h1M208 141h1M210 141h1M212 141h1M453 141h1M460 141h1M558 141h1M563 141h1M565 141h2M568 141h1M94 142h1M174 142h1M181 142h1M186 142h1M449 142h1M453 142h1M573 142h1M168 143h2M439 143h1M442 143h1M448 143h1M576 143h1M94 144h1M166 144h2M432 144h1M436 144h1M438 144h1M578 144h1M97 145h1M143 145h1M148 145h2M425 145h1M441 145h1M133 146h1M147 146h1M149 146h1M412 146h1M445 146h1M447 146h1M100 147h1M140 147h1M199 147h1M405 147h1M409 147h1M414 147h1M463 147h1M95 148h1M118 148h1M120 148h1M129 148h2M133 148h1M399 148h1M403 148h1M406 148h1M410 148h1M412 148h1M431 148h1M116 149h1M123 149h1M126 149h1M410 149h1M413 149h1M417 149h3M428 149h1M431 149h1M439 149h1M443 149h1M448 149h1M452 149h2M456 149h1M468 149h1M535 149h1M92 150h1M111 150h1M117 150h2M120 150h1M408 150h1M414 150h1M420 150h2M427 150h1M430 150h1M435 150h3M441 150h1M446 150h1M455 150h2M460 150h1M464 150h2M468 150h3M472 150h2M477 150h1M483 150h1M486 150h1M493 150h1M497 150h1M94 151h1M102 151h1M109 151h1M112 151h1M114 151h1M400 151h1M423 151h1M433 151h1M467 151h1M476 151h1M481 151h3M502 151h1M103 152h1M106 152h1M471 152h1M496 152h1M500 152h1M504 152h1M507 152h2M95 153h1M102 153h1M195 153h1M275 153h1M327 153h1M503 153h1M520 153h1M96 154h2M400 154h1M463 154h1M497 154h1M522 154h1M420 155h1M449 155h1M499 155h1M521 155h1M524 155h2M340 156h1M408 156h1M417 156h1M491 156h1M501 156h1M529 156h1M536 156h1M538 156h1M245 157h2M251 157h1M256 157h1M262 157h1M269 157h1M273 157h1M277 157h1M300 157h1M450 157h1M461 157h1M463 157h1M505 157h1M536 157h1M539 157h1M545 157h1M549 157h1M238 158h1M242 158h2M249 158h1M251 158h1M254 158h1M257 158h1M259 158h1M265 158h1M272 158h1M275 158h1M361 158h1M363 158h1M426 158h1M456 158h1M460 158h1M463 158h1M471 158h1M488 158h1M496 158h1M516 158h1M519 158h1M527 158h1M544 158h1M546 158h2M549 158h1M173 159h1M229 159h1M235 159h3M239 159h4M245 159h1M252 159h1M256 159h1M265 159h1M268 159h1M271 159h1M276 159h1M401 159h1M471 159h2M498 159h1M536 159h1M542 159h1M557 159h1M203 160h1M211 160h1M213 160h1M217 160h1M219 160h1M232 160h2M256 160h2M263 160h1M267 160h1M415 160h1M442 160h1M448 160h1M467 160h1M472 160h1M484 160h1M507 160h1M536 160h1M557 160h2M560 160h1M564 160h2M567 160h2M571 160h1M186 161h1M193 161h1M195 161h1M197 161h1M199 161h2M209 161h2M223 161h1M250 161h1M256 161h1M260 161h1M262 161h1M264 161h2M274 161h1M365 161h1M445 161h1M484 161h1M490 161h1M541 161h1M555 161h1M557 161h1M564 161h3M568 161h1M572 161h1M579 161h1M175 162h1M177 162h1M180 162h1M189 162h1M201 162h1M216 162h1M293 162h1M335 162h1M421 162h1M432 162h1M496 162h1M579 162h1M168 163h1M183 163h1M209 163h1M245 163h1M420 163h1M469 163h1M479 163h1M494 163h1M521 163h1M164 164h1M170 164h1M446 164h1M475 164h1M477 164h1M486 164h1M511 164h1M561 164h1M149 165h1M155 165h1M159 165h1M163 165h2M338 165h1M360 165h1M451 165h1M463 165h1M473 165h1M485 165h1M524 165h1M560 165h1M137 166h1M140 166h1M151 166h1M153 166h1M165 166h1M187 166h1M225 166h1M292 166h1M387 166h1M479 166h1M496 166h1M565 166h1M570 166h1M572 166h1M574 166h1M134 167h1M198 167h1M206 167h1M326 167h1M374 167h1M409 167h1M122 168h1M416 168h2M425 168h1M435 168h1M499 168h1M509 168h1M552 168h1M573 168h1M121 169h1M125 169h1M132 169h1M192 169h1M202 169h1M209 169h1M422 169h1M424 169h1M433 169h1M441 169h1M444 169h1M455 169h1M488 169h1M550 169h1M578 169h1M112 170h1M115 170h1M219 170h1M426 170h1M428 170h1M444 170h2M533 170h1M548 170h1M559 170h1M566 170h1M95 171h1M100 171h1M165 171h1M243 171h1M433 171h1M435 171h1M472 171h1M475 171h1M488 171h1M557 171h1M559 171h1M94 172h1M140 172h1M148 172h1M445 172h1M455 172h1M482 172h1M490 172h1M498 172h2M532 172h1M545 172h1M554 172h1M94 173h1M122 173h1M138 173h1M189 173h1M203 173h1M281 173h1M435 173h1M498 173h1M508 173h1M517 173h1M525 173h1M119 174h1M179 174h1M208 174h1M216 174h1M342 174h1M514 174h1M111 175h1M270 175h1M482 175h1M487 175h2M501 175h2M513 175h1M517 175h1M526 175h1M579 175h1M135 176h1M480 176h1M492 176h1M527 176h1M115 177h1M301 177h1M526 177h1M254 178h1M442 178h1M482 178h1M534 178h1M536 178h1M546 178h1M579 178h1M240 179h1M442 179h1M490 179h1M547 179h1M109 180h1M131 180h1M146 180h1M208 180h1M217 180h1M387 180h1M412 180h1M487 180h1M537 180h1M135 181h1M137 181h1M170 181h1M210 181h1M214 181h1M258 181h1M500 181h1M546 181h1M556 181h1M558 181h1M569 181h1M98 182h1M184 182h1M189 182h1M195 182h1M267 182h1M278 182h1M335 182h1M554 182h1M121 183h1M165 183h1M169 183h1M173 183h1M176 183h1M180 183h1M187 183h1M216 183h1M473 183h1M514 183h1M526 183h1M111 184h1M155 184h1M159 184h1M164 184h1M213 184h1M570 184h1M174 185h1M538 185h1M132 186h1M153 186h1M395 186h1M428 186h1M132 187h1M547 187h1M567 187h1M139 188h1M566 189h1M548 190h1M571 190h1M573 190h1M127 191h1M162 191h1M457 191h1M253 193h1M514 194h1M536 194h1M549 194h1M560 194h1M543 195h1M98 196h1M565 196h1M577 196h1M204 197h1M483 197h1M502 197h1M94 198h1M549 198h1M232 199h1M225 200h1M117 201h1M178 201h1M576 201h1M106 202h1M164 204h1M106 205h1M539 205h1M121 208h1M463 208h1M116 209h1M575 209h1M576 210h1M128 212h1M499 212h1M97 213h1M540 214h1M150 218h1M165 218h1M120 222h1M160 222h1M302 223h1M288 226h1M117 227h1M131 227h1M496 229h1M377 231h1M167 237h1M537 239h1M172 240h1M111 241h1M158 244h1M124 245h1M576 247h1M133 255h1M144 258h1M512 261h1M107 286h1"/><path stroke="#e58268" d="M446 131h2M453 131h1M463 131h1M443 132h1M460 132h1M474 132h1M493 132h1M498 133h2M501 133h1M505 133h1M509 134h1M515 134h1M517 134h1M457 135h1M521 135h1M525 135h2M531 137h1M536 137h1M542 137h1M254 138h1M257 138h1M259 138h1M464 138h1M539 138h1M543 138h1M546 138h1M221 139h1M234 139h1M240 139h1M246 139h1M268 139h1M548 139h1M553 139h1M193 140h1M201 140h1M210 140h1M213 140h1M220 140h1M224 140h1M553 140h1M181 141h1M193 141h1M200 141h1M206 141h1M209 141h1M177 142h1M180 142h1M183 142h1M185 142h1M459 142h1M461 142h1M571 142h1M575 142h1M92 143h1M164 143h1M171 143h3M438 143h1M440 143h1M447 143h1M571 143h1M153 144h1M159 144h3M93 145h1M142 145h1M145 145h1M147 145h1M157 145h1M429 145h1M433 145h1M141 146h2M423 146h1M432 146h1M131 147h1M137 147h1M139 147h1M141 147h1M102 148h1M124 148h1M128 148h1M420 148h2M426 148h1M446 148h1M95 149h1M101 149h1M118 149h1M399 149h1M427 149h1M429 149h1M442 149h1M444 149h1M450 149h1M457 149h1M459 149h2M470 149h1M99 150h1M104 150h2M107 150h1M409 150h1M413 150h1M415 150h1M417 150h1M428 150h2M432 150h1M440 150h1M451 150h1M458 150h2M492 150h1M496 150h1M104 151h2M450 151h1M487 151h1M489 151h1M492 151h1M494 151h1M498 151h1M501 151h1M503 151h1M92 152h1M96 152h1M98 152h1M101 152h1M104 152h2M498 152h1M501 152h1M94 153h1M97 153h2M103 153h1M315 153h1M322 153h1M419 153h1M443 153h1M487 153h1M500 153h1M506 153h1M512 153h1M518 153h1M92 154h1M247 154h1M399 154h1M425 154h1M479 154h1M514 154h1M521 154h1M527 154h1M319 155h1M378 155h1M394 155h1M410 155h1M421 155h1M505 155h1M522 155h1M457 156h1M534 156h2M537 156h1M243 157h1M250 157h1M267 157h2M271 157h1M274 157h1M276 157h1M278 157h1M372 157h1M449 157h1M535 157h1M544 157h1M547 157h2M244 158h1M246 158h1M248 158h1M256 158h1M260 158h2M268 158h1M270 158h1M413 158h1M455 158h1M535 158h1M543 158h1M545 158h1M551 158h1M217 159h2M230 159h1M233 159h1M243 159h1M258 159h1M275 159h1M460 159h1M552 159h1M562 159h1M206 160h3M214 160h1M218 160h1M221 160h1M250 160h2M260 160h1M269 160h2M400 160h1M410 160h1M471 160h1M535 160h1M563 160h1M205 161h1M242 161h1M247 161h1M258 161h2M267 161h1M270 161h1M275 161h1M485 161h1M517 161h1M575 161h1M240 162h2M446 162h1M466 162h1M484 162h1M498 162h1M501 162h1M574 162h1M577 162h1M165 163h1M175 163h1M177 163h1M426 163h1M508 163h2M529 163h1M563 163h1M565 163h1M157 164h1M163 164h1M215 164h1M252 164h1M269 164h1M147 165h1M153 165h1M410 165h1M442 165h1M470 165h1M518 165h1M572 165h1M143 166h1M145 166h1M191 166h1M216 166h1M499 166h1M531 166h1M133 167h1M143 167h1M207 167h1M516 167h1M535 167h1M578 167h1M420 168h1M427 168h1M533 168h1M119 169h1M122 169h1M128 169h1M130 169h1M151 169h1M224 169h1M413 169h1M427 169h1M436 169h1M460 169h1M520 169h1M548 169h1M551 169h2M180 170h1M556 170h1M573 170h1M98 171h1M190 171h1M469 171h1M478 171h1M481 171h1M502 171h1M524 171h1M96 173h1M108 173h1M505 173h1M522 173h1M161 174h1M494 174h1M508 174h1M511 175h1M518 175h2M238 176h1M518 176h1M493 177h1M527 177h1M533 177h1M255 178h1M484 178h1M533 178h1M234 179h1M245 179h1M250 179h1M253 179h1M261 179h1M467 179h1M544 179h1M209 180h1M212 180h1M231 180h1M220 181h1M552 181h1M93 182h1M258 182h1M383 182h1M495 182h1M563 182h1M178 183h2M202 183h1M560 183h1M564 183h1M567 183h1M100 184h1M567 184h1M118 185h1M142 185h1M146 185h1M152 185h2M176 185h1M571 185h1M130 186h1M578 186h1M276 187h1M467 187h1M137 189h1M575 189h2M93 190h1M168 190h1M213 190h1M163 191h1M381 191h1M291 193h1M535 193h1M104 194h1M567 194h1M138 195h1M422 195h1M572 196h1M301 197h1M166 199h1M495 199h1M517 199h1M519 200h1M564 200h1M99 203h1M189 204h1M155 205h1M221 207h1M547 210h1M575 210h1M503 212h1M129 216h1M497 217h1M519 217h1M542 218h1M505 219h1M268 220h1M262 222h1M572 222h1M525 226h1M568 231h1M119 241h1M179 248h1M545 251h1M522 268h1M559 269h1M123 270h1M506 278h1"/><path stroke="#d96752" d="M455 131h1M471 131h1M474 131h1M451 132h1M473 132h1M488 132h1M498 132h1M505 134h1M516 134h1M516 135h1M521 136h1M524 136h1M462 137h1M530 137h1M535 137h1M258 138h1M269 138h1M548 138h1M223 139h1M226 139h1M231 139h1M238 139h1M248 139h1M250 139h1M257 139h1M265 139h1M204 140h1M212 140h1M214 140h2M221 140h1M184 141h1M204 141h1M561 141h2M175 142h1M452 142h1M473 142h1M166 143h1M174 143h1M573 143h1M579 143h1M164 144h1M159 145h1M420 145h1M427 145h1M445 145h1M422 146h1M125 147h1M129 147h1M407 147h1M410 147h1M126 148h1M398 148h1M405 148h1M413 148h1M422 148h1M441 148h1M98 149h1M113 149h1M119 149h1M400 149h1M403 149h1M405 149h1M421 149h1M426 149h1M433 149h1M447 149h1M475 149h1M102 150h1M116 150h1M119 150h1M411 150h1M418 150h1M423 150h1M444 150h1M448 150h1M450 150h1M471 150h1M482 150h1M98 151h1M103 151h1M115 151h1M437 151h1M484 151h1M490 151h1M99 152h1M409 152h1M414 152h1M431 152h1M478 152h1M497 152h1M499 152h1M506 152h1M92 153h1M96 153h1M447 153h1M461 153h1M516 153h1M93 154h2M288 154h1M402 154h1M453 154h1M526 154h1M520 155h1M527 155h1M375 156h1M248 157h1M257 157h2M270 157h1M489 157h1M511 157h1M538 157h1M240 158h2M247 158h1M255 158h1M258 158h1M262 158h1M267 158h1M493 158h1M541 158h1M556 158h1M244 159h1M251 159h1M254 159h1M257 159h1M261 159h1M273 159h1M383 159h1M428 159h1M538 159h1M212 160h1M247 160h1M253 160h1M266 160h1M403 160h1M496 160h1M537 160h1M562 160h1M117 161h1M202 161h1M208 161h1M482 161h1M496 161h1M563 161h1M570 161h1M262 162h1M401 162h1M544 162h1M176 163h1M213 163h1M302 163h1M353 163h1M507 163h1M550 163h1M578 163h1M440 164h1M453 164h1M507 164h1M573 164h1M519 165h1M525 165h1M527 165h1M149 166h1M208 166h1M260 166h1M368 166h1M497 166h1M564 166h1M136 167h1M203 167h1M244 167h1M408 167h1M136 168h1M411 168h1M431 168h1M116 169h1M120 169h1M234 169h1M428 169h1M577 169h1M441 170h1M449 170h1M464 170h1M101 171h1M105 171h1M567 171h1M104 172h1M141 172h1M494 172h1M571 172h1M574 172h1M172 173h1M407 173h1M450 173h1M576 173h1M257 175h1M469 176h1M127 177h1M530 177h1M535 177h1M439 178h1M113 179h1M232 179h2M242 179h1M423 179h1M498 179h1M539 179h1M548 179h1M229 180h1M233 180h1M187 181h1M194 181h1M212 181h1M496 181h1M549 181h1M561 181h1M192 182h1M531 182h1M161 183h1M168 183h1M255 183h1M566 183h1M135 184h1M151 184h1M514 184h1M516 184h1M150 185h1M154 185h1M555 185h1M579 185h1M143 186h1M441 186h1M579 187h1M168 188h1M171 188h1M120 190h1M379 190h1M115 191h1M391 192h1M455 192h1M117 194h1M139 194h1M141 194h1M538 195h1M92 196h1M205 199h1M570 199h1M383 200h1M112 201h1M240 211h1M531 215h1M306 241h1"/><path stroke="#cb4a43" d="M469 131h1M473 131h1M450 132h1M478 132h1M481 132h1M486 132h1M492 132h1M488 133h1M515 135h1M522 135h1M526 136h2M530 136h2M255 138h1M263 138h1M538 138h1M542 138h1M545 138h1M230 139h1M235 139h1M244 139h1M252 139h1M254 139h1M259 139h1M554 139h1M197 140h1M208 140h1M211 140h1M227 140h1M236 140h1M555 140h1M559 140h1M185 141h1M201 141h1M454 141h1M172 142h1M179 142h1M184 142h1M567 142h1M569 142h1M177 143h1M450 143h1M152 144h1M155 144h1M157 144h1M163 144h1M98 145h1M426 145h1M447 145h1M450 145h1M93 146h1M134 146h1M136 146h1M140 146h1M413 146h1M425 146h1M446 146h1M93 147h1M127 147h1M134 147h1M138 147h1M436 147h1M117 148h1M121 148h2M127 148h1M401 148h1M404 148h1M408 148h1M423 148h1M458 148h1M92 149h1M109 149h1M111 149h1M401 149h2M438 149h1M441 149h1M455 149h1M458 149h1M97 150h1M106 150h1M108 150h2M406 150h1M424 150h1M439 150h1M443 150h1M454 150h1M467 150h1M478 150h1M480 150h1M487 150h1M96 151h2M99 151h1M101 151h1M106 151h1M108 151h1M491 151h1M93 152h2M97 152h1M100 152h1M406 152h1M503 152h1M93 153h1M100 153h1M363 153h1M402 153h1M472 153h1M495 153h1M517 153h1M547 153h1M98 154h1M391 154h1M483 154h1M506 154h1M512 154h1M92 155h1M95 155h1M454 155h1M474 155h1M528 155h1M532 155h2M432 156h1M479 156h1M507 156h1M520 156h1M244 157h1M260 157h1M514 157h1M540 157h1M128 158h1M245 158h1M271 158h1M274 158h1M277 158h1M297 158h1M356 158h1M485 158h1M503 158h1M507 158h1M548 158h1M223 159h1M231 159h1M248 159h3M259 159h2M269 159h1M429 159h1M431 159h1M434 159h1M451 159h1M522 159h1M527 159h1M532 159h1M199 160h1M210 160h1M216 160h1M239 160h1M252 160h1M262 160h1M524 160h1M539 160h1M545 160h1M561 160h1M192 161h1M241 161h1M479 161h1M569 161h1M573 161h1M182 162h1M186 162h1M193 162h1M208 162h1M398 162h1M420 162h1M424 162h1M480 162h1M543 162h1M548 162h1M568 162h1M580 162h1M172 163h1M174 163h1M179 163h1M207 163h1M559 163h1M162 164h1M168 164h1M171 164h2M465 164h1M487 164h1M524 164h1M565 164h1M157 165h1M429 165h1M493 165h1M504 165h1M522 165h1M528 165h1M152 166h1M399 166h1M490 166h2M578 166h1M142 167h1M208 167h1M276 167h1M510 167h1M514 167h1M541 167h1M126 168h1M164 168h1M169 168h1M422 168h1M507 168h1M555 168h1M114 169h1M124 169h1M180 169h1M414 169h1M457 169h1M472 169h1M553 169h1M106 170h1M119 170h1M131 170h1M136 170h1M172 170h1M213 170h1M442 170h1M446 170h1M454 170h1M478 170h1M507 170h1M557 170h1M106 171h1M125 171h1M489 171h1M92 172h1M103 172h1M137 172h1M151 172h1M465 172h1M485 172h1M563 172h1M573 172h1M188 173h1M223 173h1M570 173h1M145 174h1M301 174h1M421 174h1M512 174h1M523 174h1M562 174h1M577 174h1M238 175h1M492 175h1M169 176h1M517 176h1M521 176h1M525 176h1M579 176h1M453 177h1M512 177h1M417 178h1M460 178h1M517 178h1M530 178h1M554 178h1M565 178h1M144 179h1M219 180h2M414 180h1M501 180h1M514 180h1M96 181h1M161 181h1M163 181h1M218 181h1M304 181h1M97 182h1M117 182h1M236 182h1M387 182h1M424 182h1M502 182h1M516 182h1M530 182h1M555 182h1M113 183h1M456 183h1M469 183h1M562 183h2M203 184h1M569 184h1M102 185h1M134 185h1M155 185h1M577 185h1M365 186h1M519 186h1M524 186h1M163 187h1M208 187h1M482 187h1M451 189h1M551 189h1M118 191h1M165 191h1M475 191h1M534 191h1M573 191h1M150 192h1M491 192h1M98 193h1M245 193h1M460 193h1M517 193h1M167 194h1M319 194h1M413 195h1M569 195h1M361 196h1M551 196h1M123 197h1M331 197h1M227 198h1M148 199h1M217 199h1M412 199h1M539 199h1M531 200h1M538 200h1M145 201h1M96 202h1M218 203h1M507 203h1M122 204h1M171 204h1M548 204h1M524 205h1M447 206h1M308 207h1M113 208h1M494 209h1M146 210h1M98 211h1M103 214h1M573 215h1M100 217h1M133 218h1M478 219h1M296 220h1M503 221h1M577 221h1M188 222h1M443 224h1M98 225h1M530 226h1M576 229h1M109 230h1M112 230h1M116 230h1M93 236h1M445 237h1M163 238h1M491 241h1M232 245h1M133 253h1M160 254h1M131 262h1M579 282h1"/></g>
<rect x="90" y="92" width="493" height="197" fill="none" stroke="#000" stroke-width="2" shape-rendering="crispEdges"/>
<g fill="#000"><rect x="89" y="290" width="2" height="6"/><rect x="115" y="290" width="1" height="3.4"/><rect x="139" y="290" width="1" height="3.4"/><rect x="164" y="290" width="1" height="3.4"/><rect x="189" y="290" width="1" height="3.4"/><rect x="212" y="290" width="2" height="6"/><rect x="238" y="290" width="1" height="3.4"/><rect x="263" y="290" width="1" height="3.4"/><rect x="287" y="290" width="1" height="3.4"/><rect x="312" y="290" width="1" height="3.4"/><rect x="335" y="290" width="2" height="6"/><rect x="361" y="290" width="1" height="3.4"/><rect x="386" y="290" width="1" height="3.4"/><rect x="410" y="290" width="1" height="3.4"/><rect x="435" y="290" width="1" height="3.4"/><rect x="458" y="290" width="2" height="6"/><rect x="484" y="290" width="1" height="3.4"/><rect x="509" y="290" width="1" height="3.4"/><rect x="534" y="290" width="1" height="3.4"/><rect x="558" y="290" width="1" height="3.4"/><rect x="582" y="290" width="2" height="6"/><rect x="86" y="113" width="3" height="1"/><rect x="86" y="138" width="3" height="1"/><rect x="86" y="162" width="3" height="1"/><rect x="82.8" y="186" width="6.2" height="2"/><rect x="86" y="212" width="3" height="1"/><rect x="86" y="236" width="3" height="1"/><rect x="86" y="261" width="3" height="1"/><rect x="86" y="285" width="3" height="1"/></g>
<g font-size="25.0"><text transform="translate(65.94,324.95) scale(1.316,0.8)" font-size="25.0" stroke="none">−</text><text x="84.95" y="324.7">10</text><text transform="translate(195.44,324.95) scale(1.316,0.8)" font-size="25.0" stroke="none">−</text><text x="213.5" y="324.7">5</text><text x="336.3" y="322.8" text-anchor="middle">0</text><text x="459.1" y="322.8" text-anchor="middle">5</text><text x="581.4" y="322.8" text-anchor="middle">10</text><text x="74.9" y="196.6" text-anchor="end">75</text><g transform="translate(301.3,353.8)"><text x="0" y="0">y [</text><text transform="translate(27.68,0) scale(1.27,1)" font-style="italic">μ</text><text x="43.98" y="0">m]</text></g><g transform="translate(36,225.9) rotate(-90)"><text x="0" y="0">x [</text><text transform="translate(27.68,0) scale(1.27,1)" font-style="italic">μ</text><text x="43.98" y="0">m]</text></g></g>
<text x="336.5" y="78.2" font-size="29.7" text-anchor="middle">longitudinal current</text>
<rect x="590.2" y="92.1" width="24.8" height="196.9" fill="url(#cb)" stroke="#000" stroke-width="1.7"/>
<g fill="#000" shape-rendering="crispEdges"><rect x="616" y="91" width="6" height="2"/><rect x="616" y="95" width="6" height="2"/><rect x="616" y="100" width="6" height="2"/><rect x="616" y="107" width="6" height="2"/><rect x="616" y="120" width="6" height="2"/><rect x="616" y="121" width="6" height="2"/><rect x="616" y="124" width="6" height="2"/><rect x="616" y="126" width="6" height="2"/><rect x="616" y="129" width="6" height="2"/><rect x="616" y="132" width="6" height="2"/><rect x="616" y="136" width="6" height="2"/><rect x="616" y="141" width="6" height="2"/><rect x="616" y="148" width="6" height="2"/><rect x="616" y="161" width="6" height="2"/><rect x="616" y="190" width="6" height="2"/><rect x="616" y="218" width="6" height="2"/><rect x="616" y="231" width="6" height="2"/><rect x="616" y="238" width="6" height="2"/><rect x="616" y="243" width="6" height="2"/><rect x="616" y="247" width="6" height="2"/><rect x="616" y="250" width="6" height="2"/><rect x="616" y="253" width="6" height="2"/><rect x="616" y="255" width="6" height="2"/><rect x="616" y="258" width="6" height="2"/><rect x="616" y="259" width="6" height="2"/><rect x="616" y="272" width="6" height="2"/><rect x="616" y="279" width="6" height="2"/><rect x="616" y="284" width="6" height="2"/><rect x="616" y="288" width="6" height="2"/></g>
<rect x="616" y="121" width="6" height="6" fill="#2b2b2b"/>
<rect x="616" y="254" width="6" height="6" fill="#2b2b2b"/>
<g font-size="25.0"><text x="628.8" y="130.80">10<tspan font-size="17.5" dy="-10.3" dx="-1.7">15</tspan></text><text x="628.8" y="171.80">10<tspan font-size="17.5" dy="-10.3" dx="-1.7">14</tspan></text><text x="629.4" y="199.40">0</text><text transform="translate(628.44,230.95) scale(1.316,0.8)" font-size="25.0" stroke="none">−</text><text x="647.6" y="230.70">10<tspan font-size="17.5" dy="-10.3" dx="-1.7">14</tspan></text><text transform="translate(628.44,271.75) scale(1.316,0.8)" font-size="25.0" stroke="none">−</text><text x="647.6" y="271.50">10<tspan font-size="17.5" dy="-10.3" dx="-1.7">15</tspan></text><g transform="translate(722.5,284.4) rotate(-90)"><text x="0" y="0">Current/Jx [A</text><text transform="translate(139.2,5.6) scale(1.12,1.45)" stroke="none">/</text><text x="149.6" y="0">m</text><text x="169.0" y="-10.3" font-size="17.5">2</text><text x="178.7" y="0">]</text></g></g>
<rect x="92.2" y="425.1" width="488.5" height="193.7" fill="#f7f7f7"/>
<g stroke-width="1" fill="none" shape-rendering="crispEdges" transform="translate(0,0.5)"><path stroke="#f8f1ed" d="M448 462h1M459 462h1M462 462h1M474 462h1M443 463h1M448 463h1M450 463h1M458 463h1M461 463h1M465 463h1M467 463h1M483 463h1M487 463h2M490 463h1M447 464h1M487 464h1M495 464h1M501 464h1M507 464h1M447 465h1M506 465h3M516 465h1M454 466h1M456 466h1M458 466h1M461 466h1M463 466h1M525 466h1M451 467h2M457 467h1M476 467h1M534 467h1M536 468h1M462 469h1M465 469h1M469 469h1M507 469h1M539 469h1M543 469h1M546 469h1M460 470h1M552 470h1M555 470h1M463 471h1M465 471h1M557 471h1M560 471h1M454 472h1M467 472h1M547 472h1M564 472h2M567 472h1M456 473h1M460 473h1M477 473h1M485 473h1M575 473h1M439 474h1M448 474h2M465 474h1M476 474h1M513 474h2M524 474h1M556 474h1M574 474h1M577 474h1M429 475h1M433 475h1M445 475h1M461 475h1M463 475h1M530 475h1M580 475h1M420 476h1M424 476h1M428 476h2M438 476h1M452 476h1M467 476h1M473 476h1M497 476h1M530 476h1M412 477h1M422 477h1M426 477h1M432 477h1M440 477h1M444 477h1M545 477h1M407 478h1M410 478h2M420 478h1M426 478h1M429 478h1M431 478h1M438 478h1M441 478h1M443 478h1M463 478h1M469 478h1M547 478h1M399 479h1M405 479h1M410 479h1M413 479h1M418 479h1M421 479h3M431 479h1M442 479h1M448 479h1M454 479h1M457 479h1M578 479h1M398 480h1M400 480h2M410 480h1M412 480h1M423 480h2M431 480h2M438 480h1M443 480h1M448 480h1M459 480h2M465 480h1M469 480h2M511 480h1M540 480h1M563 480h1M575 480h1M410 481h2M434 481h2M437 481h1M441 481h3M459 481h1M470 481h1M476 481h1M479 481h2M413 482h2M439 482h1M442 482h1M444 482h1M464 482h1M479 482h1M486 482h1M488 482h1M332 483h1M337 483h1M346 483h1M361 483h1M399 483h1M406 483h1M419 483h1M424 483h1M450 483h1M470 483h2M473 483h1M477 483h1M498 483h1M512 483h1M565 483h1M567 483h1M308 484h1M315 484h1M319 484h1M321 484h1M360 484h1M364 484h1M367 484h2M404 484h2M410 484h1M426 484h1M432 484h1M441 484h1M469 484h2M473 484h1M476 484h1M485 484h2M502 484h1M513 484h1M337 485h1M340 485h1M384 485h1M388 485h1M419 485h1M424 485h1M440 485h1M460 485h1M462 485h1M471 485h1M483 485h1M499 485h1M515 485h1M520 485h1M351 486h1M356 486h1M414 486h1M459 486h1M467 486h1M471 486h1M475 486h1M484 486h1M514 486h1M522 486h1M534 486h1M551 486h1M570 486h1M315 487h1M340 487h1M343 487h1M355 487h1M369 487h1M377 487h1M406 487h1M419 487h1M432 487h1M450 487h1M459 487h1M472 487h1M505 487h1M523 487h1M533 487h2M301 488h1M303 488h1M310 488h1M317 488h1M337 488h1M353 488h1M361 488h1M370 488h1M387 488h1M409 488h1M437 488h1M448 488h1M450 488h1M481 488h1M519 488h1M524 488h1M532 488h1M539 488h1M541 488h1M543 488h1M549 488h1M304 489h1M319 489h1M336 489h1M359 489h1M374 489h1M427 489h1M435 489h1M443 489h1M455 489h1M491 489h1M503 489h1M529 489h1M531 489h1M544 489h1M546 489h3M305 490h1M322 490h1M371 490h1M383 490h1M402 490h1M407 490h1M435 490h1M445 490h1M453 490h1M473 490h1M475 490h1M499 490h1M503 490h1M524 490h1M526 490h1M529 490h1M542 490h1M551 490h1M558 490h2M564 490h1M573 490h1M368 491h1M415 491h1M440 491h1M442 491h1M452 491h1M470 491h1M480 491h1M486 491h1M507 491h1M554 491h1M556 491h2M559 491h1M562 491h1M567 491h1M570 491h1M347 492h1M372 492h1M389 492h1M478 492h2M520 492h1M523 492h1M536 492h2M554 492h1M562 492h1M565 492h1M567 492h2M571 492h1M574 492h1M300 493h1M345 493h1M453 493h1M460 493h1M487 493h1M489 493h1M511 493h1M514 493h1M527 493h1M530 493h1M544 493h1M562 493h2M567 493h1M573 493h4M330 494h1M341 494h1M352 494h1M354 494h1M361 494h1M390 494h1M424 494h1M428 494h1M441 494h1M467 494h1M472 494h1M495 494h1M497 494h3M503 494h1M528 494h1M531 494h1M555 494h1M558 494h1M565 494h1M568 494h1M580 494h1M322 495h1M379 495h1M427 495h1M493 495h1M508 495h1M510 495h1M520 495h1M530 495h1M545 495h2M553 495h1M560 495h1M562 495h1M566 495h2M574 495h1M580 495h1M334 496h1M353 496h1M386 496h1M388 496h1M394 496h1M408 496h1M417 496h1M433 496h1M435 496h1M475 496h1M499 496h1M507 496h1M514 496h1M516 496h1M524 496h1M567 496h1M574 496h1M302 497h1M433 497h1M460 497h1M465 497h1M487 497h1M500 497h1M509 497h1M515 497h1M541 497h1M554 497h1M558 497h1M564 497h1M567 497h2M573 497h1M575 497h1M397 498h1M399 498h1M431 498h1M444 498h1M469 498h1M494 498h1M510 498h1M531 498h1M408 499h1M413 499h1M415 499h2M426 499h1M434 499h1M491 499h3M505 499h1M554 499h1M561 499h1M573 499h1M391 500h1M412 500h1M421 500h1M445 500h1M449 500h1M452 500h1M474 500h1M486 500h2M528 500h1M535 500h1M538 500h1M547 500h2M551 500h1M403 501h1M421 501h1M424 501h1M433 501h1M449 501h3M453 501h1M457 501h1M461 501h2M473 501h1M478 501h1M482 501h1M492 501h1M506 501h1M515 501h1M551 501h1M553 501h1M557 501h1M576 501h1M405 502h1M416 502h1M447 502h2M461 502h1M471 502h2M477 502h1M481 502h1M498 502h1M510 502h1M529 502h1M540 502h2M562 502h1M573 502h1M578 502h1M407 503h2M421 503h1M428 503h1M435 503h1M443 503h1M445 503h1M455 503h1M478 503h1M481 503h1M483 503h1M490 503h1M522 503h1M544 503h1M546 503h1M392 504h1M452 504h2M471 504h1M502 504h1M504 504h1M522 504h1M532 504h1M543 504h1M570 504h1M400 505h1M416 505h1M440 505h1M448 505h1M451 505h1M475 505h1M552 505h1M562 505h1M566 505h1M580 505h1M258 506h1M402 506h1M407 506h1M433 506h1M443 506h1M450 506h1M460 506h1M466 506h1M481 506h1M512 506h1M529 506h1M531 506h1M552 506h1M554 506h1M559 506h1M300 507h1M459 507h1M507 507h1M518 507h1M521 507h2M532 507h1M537 507h1M326 508h1M417 508h1M523 508h1M541 508h1M571 508h1M425 509h1M504 509h1M536 509h1M395 510h1M402 510h1M462 510h1M519 510h1M523 510h1M543 510h2M552 510h1M566 510h1M570 510h1M514 511h1M525 511h1M539 511h1M552 511h1M223 512h1M450 512h1M521 512h1M526 512h1M542 512h1M546 512h1M549 512h1M551 512h1M558 512h1M580 512h1M484 513h1M490 513h1M516 513h1M518 513h1M528 513h1M543 513h1M550 513h1M556 513h1M336 514h1M443 514h1M463 514h1M513 514h1M524 514h1M547 514h1M556 514h1M564 514h1M315 515h1M399 515h1M405 515h1M426 515h1M466 515h1M481 515h1M519 515h2M565 515h2M569 515h1M387 516h1M435 516h1M463 516h1M535 516h1M543 516h1M567 516h1M300 517h1M497 517h1M545 517h2M556 517h1M575 517h1M338 518h1M507 518h1M511 518h1M535 518h1M548 518h1M554 518h1M564 518h1M568 518h1M570 518h1M424 519h1M462 519h1M476 519h1M545 519h1M563 519h1M464 520h1M566 520h1M378 521h1M536 521h1M451 522h1M573 522h1M310 523h1M409 523h1M509 523h1M530 523h1M562 523h1M301 524h1M558 524h1M574 524h1M425 525h1M562 525h2M441 526h1M512 526h1M524 526h1M517 527h1M559 527h1M571 527h1M354 528h1M292 529h1M389 529h1M474 529h1M508 529h1M549 529h1M436 530h1M474 530h1M555 531h1M451 532h1M514 532h1M566 532h1M575 532h1M319 533h1M540 533h1M415 534h1M369 535h1M438 536h1M515 536h1M552 536h1M392 537h1M508 537h1M543 537h1M579 537h1M561 540h1M551 541h1M292 542h1M534 542h1M537 542h1M568 543h1M287 545h1M535 545h1M527 547h1M541 548h1M508 549h1M482 551h1M542 551h1M527 553h1M568 553h1M542 557h1M565 558h1M410 560h1M520 561h1M562 561h1M360 562h1M529 563h1M463 566h1M480 566h1M521 567h1M466 568h1M531 572h1M425 576h1M529 577h1M391 578h1M561 578h1M566 583h1M520 585h1M550 588h1M300 599h1M570 600h1"/><path stroke="#eff3f6" d="M231 470h1M251 470h2M193 471h2M204 471h1M221 471h1M235 471h1M242 471h1M250 471h1M254 471h1M256 471h1M195 472h1M203 472h1M216 472h1M225 472h1M249 472h1M251 472h1M253 472h1M192 473h1M211 473h1M216 473h2M219 473h1M227 473h1M232 473h1M234 473h1M251 473h1M93 474h1M171 474h1M202 474h1M210 474h2M215 474h2M224 474h1M226 474h1M246 474h1M158 475h1M167 475h1M175 475h1M184 475h1M191 475h1M200 475h1M202 475h1M204 475h3M217 475h1M241 475h2M99 476h1M149 476h1M151 476h1M160 476h1M185 476h1M202 476h1M205 476h2M213 476h1M225 476h1M94 477h1M98 477h1M139 477h2M158 477h1M182 477h1M204 477h1M209 477h1M211 477h1M231 477h1M92 478h1M100 478h1M127 478h1M143 478h1M150 478h2M159 478h2M170 478h2M175 478h1M194 478h1M198 478h1M204 478h1M206 478h1M212 478h1M223 478h1M95 479h1M126 479h2M134 479h1M136 479h1M141 479h1M148 479h1M154 479h1M156 479h1M164 479h1M187 479h1M202 479h1M204 479h1M211 479h1M220 479h1M114 480h2M145 480h1M171 480h1M179 480h1M188 480h1M194 480h1M204 480h1M208 480h1M216 480h1M219 480h2M231 480h1M94 481h1M96 481h1M114 481h1M121 481h1M148 481h1M166 481h1M181 481h1M206 481h2M209 481h1M217 481h1M94 482h1M144 482h1M151 482h2M158 482h1M161 482h1M174 482h1M177 482h1M193 482h2M204 482h1M208 482h1M212 482h1M224 482h1M94 483h1M101 483h1M115 483h1M150 483h1M161 483h1M163 483h1M172 483h1M182 483h1M197 483h1M208 483h2M215 483h1M219 483h2M230 483h1M243 483h1M277 483h1M283 483h1M289 483h1M303 483h1M93 484h1M102 484h1M107 484h1M141 484h1M145 484h1M178 484h1M198 484h2M202 484h1M263 484h1M266 484h1M286 484h1M290 484h1M93 485h1M135 485h1M137 485h1M142 485h1M170 485h1M175 485h1M178 485h1M186 485h1M214 485h1M225 485h2M243 485h1M245 485h1M255 485h1M284 485h1M293 485h1M96 486h1M111 486h2M119 486h2M134 486h1M140 486h1M163 486h1M185 486h2M206 486h1M221 486h1M224 486h1M263 486h1M285 486h1M294 486h1M305 486h1M97 487h1M132 487h2M152 487h1M179 487h1M183 487h1M202 487h2M238 487h1M258 487h1M273 487h1M285 487h1M289 487h1M313 487h1M93 488h2M126 488h1M149 488h1M155 488h1M166 488h1M177 488h1M180 488h1M195 488h1M203 488h1M222 488h1M238 488h1M241 488h1M250 488h2M274 488h1M280 488h1M297 488h1M309 488h1M104 489h1M108 489h1M112 489h1M135 489h1M138 489h2M163 489h1M215 489h1M224 489h1M237 489h1M241 489h1M243 489h1M255 489h2M259 489h2M284 489h1M293 489h1M300 489h1M95 490h1M105 490h1M114 490h1M118 490h1M127 490h1M145 490h1M154 490h1M164 490h1M166 490h1M173 490h1M177 490h1M189 490h1M207 490h1M212 490h1M220 490h2M242 490h1M246 490h1M271 490h1M277 490h1M310 490h1M97 491h1M169 491h1M178 491h1M184 491h2M190 491h1M206 491h1M229 491h4M235 491h1M239 491h1M244 491h1M250 491h1M266 491h2M298 491h1M121 492h1M148 492h1M171 492h1M188 492h1M193 492h1M195 492h1M217 492h1M240 492h1M250 492h1M264 492h1M271 492h1M275 492h1M292 492h1M295 492h1M318 492h1M126 493h2M134 493h1M151 493h1M159 493h1M175 493h1M178 493h2M181 493h1M183 493h1M185 493h2M188 493h1M191 493h1M219 493h1M232 493h1M248 493h1M255 493h1M261 493h1M263 493h1M275 493h2M295 493h1M93 494h1M98 494h1M110 494h2M118 494h1M124 494h1M134 494h1M150 494h1M157 494h1M164 494h1M191 494h1M201 494h1M217 494h1M232 494h2M236 494h1M244 494h1M247 494h2M252 494h1M258 494h1M267 494h1M270 494h1M275 494h1M108 495h1M117 495h1M122 495h1M159 495h1M168 495h1M170 495h1M174 495h1M193 495h1M195 495h1M219 495h2M235 495h1M237 495h1M242 495h1M276 495h1M283 495h1M312 495h1M111 496h1M126 496h2M133 496h1M160 496h1M164 496h1M167 496h1M170 496h1M172 496h1M176 496h1M180 496h1M187 496h2M196 496h1M225 496h1M228 496h1M244 496h1M250 496h1M295 496h1M94 497h1M98 497h1M103 497h1M142 497h1M175 497h1M177 497h1M205 497h1M228 497h1M254 497h1M264 497h2M96 498h1M101 498h1M103 498h1M141 498h1M154 498h1M156 498h1M164 498h1M194 498h1M201 498h1M237 498h1M246 498h1M249 498h1M285 498h1M321 498h1M96 499h1M102 499h1M124 499h1M138 499h1M143 499h1M152 499h2M157 499h1M164 499h1M179 499h1M207 499h1M227 499h1M260 499h1M309 499h1M104 500h1M121 500h1M135 500h1M140 500h2M173 500h1M190 500h2M195 500h1M206 500h1M213 500h1M225 500h1M255 500h1M259 500h2M110 501h1M117 501h1M136 501h1M174 501h1M178 501h1M204 501h1M232 501h1M244 501h1M98 502h1M107 502h1M109 502h1M116 502h1M122 502h1M126 502h1M136 502h1M148 502h1M153 502h1M156 502h1M168 502h1M181 502h2M201 502h1M204 502h1M220 502h1M250 502h1M255 502h1M107 503h1M111 503h1M114 503h1M126 503h1M133 503h2M229 503h1M250 503h1M255 503h1M270 503h1M111 504h1M115 504h1M117 504h1M120 504h1M128 504h1M133 504h1M137 504h1M159 504h1M203 504h1M215 504h1M221 504h1M237 504h1M240 504h1M244 504h1M276 504h1M278 504h1M107 505h1M110 505h2M116 505h1M131 505h1M135 505h3M146 505h1M151 505h1M155 505h1M165 505h1M175 505h1M190 505h1M192 505h1M199 505h1M312 505h1M96 506h1M102 506h1M108 506h1M114 506h1M120 506h1M126 506h1M139 506h1M184 506h1M197 506h1M109 507h1M135 507h1M155 507h1M179 507h1M183 507h1M278 507h1M99 508h1M110 508h2M116 508h1M124 508h1M147 508h1M150 508h1M154 508h1M198 508h2M202 508h1M222 508h1M241 508h1M248 508h1M278 508h1M137 509h1M154 509h1M166 509h1M168 509h1M170 509h1M242 509h1M273 509h1M112 510h2M118 510h1M142 510h1M155 510h1M157 510h2M165 510h1M168 510h2M172 510h1M194 510h1M204 510h1M213 510h1M243 510h1M255 510h2M116 511h1M159 511h1M168 511h2M185 511h1M198 511h1M275 511h1M97 512h1M158 512h1M172 512h1M176 512h1M186 512h1M199 512h2M211 512h1M233 512h1M128 513h1M166 513h1M173 513h1M181 513h1M187 513h1M249 513h1M265 513h1M96 514h1M103 514h1M116 514h1M119 514h1M133 514h1M163 514h1M165 514h1M170 514h1M174 514h1M186 514h1M226 514h1M228 514h1M256 514h1M102 515h1M105 515h1M146 515h1M197 515h1M223 515h1M249 515h1M258 515h1M269 515h1M93 516h1M103 516h1M109 516h1M113 516h1M119 516h1M126 516h1M154 516h2M167 516h1M185 516h1M200 516h1M206 516h1M211 516h1M261 516h1M109 517h1M130 517h1M134 517h1M138 517h1M162 517h1M179 517h1M204 517h1M226 517h1M235 517h1M108 518h1M130 518h1M186 518h1M198 518h1M247 518h1M137 519h1M155 519h1M166 519h1M197 519h1M202 519h1M220 519h1M264 519h1M270 519h1M105 520h1M112 520h1M129 520h1M166 520h1M179 520h1M213 520h1M257 520h1M260 520h1M93 521h1M97 521h1M131 521h1M159 521h1M167 521h1M142 522h1M181 522h1M198 522h1M224 522h1M247 522h1M253 522h1M97 523h1M122 523h1M126 523h1M181 523h1M235 523h1M119 524h2M127 524h1M151 524h1M164 524h1M173 524h1M240 524h1M131 525h1M140 525h1M227 525h1M276 525h1M110 526h1M139 526h1M146 526h2M160 526h1M167 526h2M177 526h1M256 526h1M97 527h1M108 527h1M129 527h1M172 527h1M251 527h1M265 527h1M110 528h1M139 528h1M166 528h1M220 528h1M224 528h1M256 528h1M266 528h1M118 529h1M131 529h1M155 529h2M173 529h1M215 529h1M260 529h1M125 530h1M138 530h1M152 530h1M239 530h1M97 531h1M156 531h1M160 531h1M195 531h1M163 532h1M128 533h1M219 534h1M231 534h1M285 534h1M170 535h1M180 536h1M191 536h1M227 536h1M116 537h1M129 537h1M244 537h1M186 538h1M93 539h1M239 539h1M111 540h1M152 540h1M283 540h1M132 541h1M240 541h1M244 541h1M100 542h1M231 542h1M196 544h1M111 545h1M182 545h1M204 545h1M110 546h1M153 546h1M259 546h1M163 547h1M120 548h1M123 548h1M126 548h1M134 548h1M215 548h1M184 550h1M98 551h1M156 551h1M237 551h1M147 552h1M168 554h1M163 555h1M167 555h1M122 556h1M185 557h1M92 559h1M165 560h1M103 561h1M197 561h1M108 562h1M145 563h1M173 563h1M272 563h1M252 569h1M96 571h1M235 571h1M109 572h1M191 573h1M113 575h1M134 576h1M129 580h1M242 580h1M97 581h1M119 586h1M156 587h1M184 587h1M173 588h1M141 589h1M139 590h1M144 592h1M150 593h1M212 593h1M260 593h1M140 596h1M145 596h1M233 597h1M141 601h1M242 603h1M144 606h1M162 606h1M122 607h1M170 607h1M95 615h1"/><path stroke="#f9ece4" d="M449 462h1M463 462h1M467 462h1M469 462h1M479 462h1M451 463h1M482 463h1M484 463h1M489 463h1M495 463h1M497 463h1M453 464h1M456 464h1M458 464h1M488 464h2M493 464h1M451 465h1M461 465h1M464 465h1M471 465h1M449 466h1M457 466h1M494 466h2M517 466h2M522 466h1M527 466h1M461 467h1M464 467h1M522 467h1M526 467h1M531 467h1M533 467h1M530 468h1M268 469h1M542 469h1M545 469h1M461 470h1M481 470h1M546 470h1M551 470h1M553 470h1M461 471h2M483 471h1M549 471h1M453 472h1M457 472h1M559 472h1M562 472h2M568 472h1M448 473h1M454 473h1M459 473h1M463 473h1M496 473h1M572 473h1M574 473h1M437 474h2M441 474h1M443 474h1M445 474h2M450 474h3M571 474h1M576 474h1M435 475h2M495 475h1M422 476h2M430 476h1M448 476h1M461 476h1M416 477h1M423 477h1M450 477h1M465 477h1M412 478h3M422 478h1M425 478h1M432 478h1M398 479h1M401 479h1M406 479h1M408 479h2M411 479h1M446 479h1M499 479h1M409 480h1M414 480h1M416 480h2M419 480h1M421 480h2M427 480h2M435 480h1M449 480h1M453 480h1M463 480h2M478 480h1M408 481h2M414 481h2M429 481h1M438 481h1M444 481h1M450 481h1M452 481h4M462 481h1M465 481h2M468 481h1M471 481h1M473 481h1M484 481h2M489 481h2M492 481h1M496 481h1M424 482h1M428 482h1M448 482h1M450 482h2M476 482h1M478 482h1M487 482h1M497 482h1M501 482h2M407 483h1M446 483h1M451 483h2M460 483h1M496 483h1M502 483h1M508 483h1M279 484h1M374 484h1M393 484h1M396 484h1M403 484h1M407 484h1M460 484h3M480 484h1M491 484h1M504 484h1M514 484h1M517 484h2M346 485h1M395 485h1M401 485h1M438 485h1M463 485h1M467 485h2M478 485h1M511 485h1M514 485h1M521 485h1M526 485h1M286 486h1M364 486h1M392 486h1M419 486h1M421 486h1M433 486h1M440 486h1M462 486h1M473 486h1M498 486h1M502 486h1M511 486h1M521 486h1M523 486h2M526 486h2M532 486h2M196 487h1M346 487h1M391 487h1M428 487h1M438 487h1M446 487h1M476 487h1M496 487h1M515 487h1M528 487h2M532 487h1M535 487h1M345 488h1M400 488h1M428 488h1M442 488h1M474 488h2M499 488h1M512 488h1M514 488h2M540 488h1M542 488h1M545 488h3M278 489h1M332 489h1M402 489h1M453 489h1M466 489h1M475 489h1M483 489h1M506 489h1M510 489h1M522 489h1M525 489h1M541 489h3M545 489h1M356 490h1M404 490h1M421 490h1M426 490h1M432 490h1M463 490h1M472 490h1M478 490h1M494 490h1M496 490h1M541 490h1M543 490h1M549 490h1M554 490h1M557 490h1M561 490h1M255 491h1M460 491h1M501 491h1M504 491h1M514 491h1M524 491h1M528 491h1M530 491h1M537 491h1M541 491h1M550 491h1M568 491h1M340 492h1M418 492h1M439 492h1M461 492h1M467 492h1M535 492h1M557 492h1M561 492h1M563 492h1M569 492h1M572 492h1M575 492h1M364 493h1M371 493h1M405 493h1M438 493h1M454 493h2M482 493h1M493 493h1M500 493h1M525 493h1M531 493h1M555 493h2M577 493h1M366 494h1M375 494h1M385 494h1M412 494h1M418 494h1M449 494h1M480 494h1M482 494h1M504 494h1M507 494h1M511 494h1M525 494h1M546 494h1M550 494h1M573 494h1M353 495h1M415 495h1M423 495h1M434 495h1M447 495h1M456 495h1M461 495h1M480 495h2M494 495h1M507 495h1M526 495h1M540 495h1M310 496h1M444 496h1M452 496h1M457 496h1M459 496h1M484 496h1M503 496h1M526 496h1M549 496h1M580 496h1M359 497h1M397 497h1M448 497h1M479 497h1M503 497h1M517 497h1M526 497h1M530 497h1M532 497h1M536 497h1M538 497h2M547 497h1M380 498h1M487 498h1M492 498h1M505 498h1M532 498h1M534 498h1M543 498h1M580 498h1M334 499h1M395 499h1M410 499h1M418 499h1M465 499h1M477 499h1M488 499h1M499 499h1M501 499h1M513 499h1M518 499h1M520 499h1M522 499h1M524 499h2M537 499h1M542 499h1M544 499h1M546 499h1M557 499h1M348 500h1M407 500h1M415 500h1M418 500h1M422 500h1M428 500h1M432 500h1M440 500h1M444 500h1M453 500h1M458 500h1M469 500h1M531 500h1M546 500h1M550 500h1M571 500h1M419 501h1M439 501h1M444 501h1M472 501h1M480 501h1M494 501h1M498 501h1M511 501h1M521 501h1M527 501h1M531 501h1M555 501h1M369 502h1M406 502h1M436 502h1M479 502h1M515 502h1M531 502h1M558 502h2M563 502h1M567 502h1M579 502h1M441 503h1M460 503h1M469 503h1M491 503h1M493 503h1M498 503h1M564 503h1M572 503h1M403 504h1M436 504h2M457 504h1M475 504h1M503 504h1M527 504h1M547 504h1M569 504h1M573 504h1M407 505h1M466 505h1M469 505h1M485 505h1M488 505h1M491 505h1M500 505h1M502 505h1M507 505h1M559 505h1M565 505h1M346 506h1M378 506h1M421 506h1M439 506h1M470 506h1M485 506h1M516 506h1M526 506h1M539 506h1M577 506h1M487 507h1M520 507h1M526 507h1M556 507h1M311 508h1M431 508h1M478 508h1M500 508h1M524 508h1M532 508h1M534 508h1M579 508h1M420 509h1M434 509h2M521 509h1M495 510h1M497 510h1M509 510h1M514 510h1M528 510h1M539 510h2M573 510h1M579 510h1M442 511h1M481 511h1M516 511h1M519 511h1M545 511h1M580 511h1M538 512h1M545 512h1M556 512h2M448 513h1M479 513h1M508 513h1M515 513h1M525 513h1M538 513h1M562 513h2M504 514h1M512 514h1M561 514h1M574 514h1M337 515h1M414 515h1M457 515h1M484 515h1M536 515h1M570 515h1M487 516h1M501 516h1M512 516h1M551 516h1M558 516h1M565 516h1M568 516h1M422 517h1M502 517h1M544 517h1M559 517h1M566 517h1M576 517h2M525 518h1M569 518h1M444 519h1M517 519h1M575 519h1M580 519h1M477 520h1M557 520h1M573 520h1M578 520h1M564 521h1M440 522h1M482 522h1M489 522h1M440 523h1M554 523h1M502 524h1M395 525h1M397 525h1M494 525h1M524 525h1M546 525h1M558 525h1M579 525h1M395 526h1M474 526h1M448 527h1M572 527h1M418 530h1M446 531h1M392 532h1M463 532h1M534 532h1M442 533h1M415 535h1M470 538h1M503 538h1M381 539h1M550 539h1M371 544h1M440 544h1M538 545h1M474 549h1M577 553h1M458 554h1M534 555h1M572 556h1M485 558h1M491 559h1M568 561h1M562 573h1M564 580h1M458 588h1M490 592h1M455 593h1M448 594h1M554 597h1M469 604h1M499 605h1M494 607h1M559 614h1"/><path stroke="#e8f0f4" d="M253 469h2M258 469h1M260 469h1M234 470h1M248 470h1M257 470h1M264 470h2M199 471h1M212 471h1M214 471h2M220 471h1M226 471h2M229 471h1M232 471h1M249 471h1M253 471h1M181 472h1M202 472h1M206 472h1M233 472h1M92 473h1M177 473h1M197 473h1M203 473h1M213 473h1M226 473h1M241 473h1M249 473h1M98 474h1M163 474h1M167 474h1M181 474h1M198 474h1M223 474h1M235 474h1M153 475h1M160 475h1M162 475h1M164 475h1M181 475h1M148 476h1M154 476h1M164 476h1M183 476h1M199 476h2M141 477h1M147 477h1M166 477h1M168 477h1M179 477h1M188 477h1M206 477h1M210 477h1M96 478h1M130 478h1M139 478h1M142 478h1M152 478h2M205 478h1M101 479h1M119 479h1M123 479h1M128 479h1M131 479h1M133 479h1M143 479h1M145 479h1M150 479h1M153 479h1M157 479h1M159 479h1M167 479h1M200 479h1M216 479h1M227 479h1M229 479h1M92 480h1M116 480h3M122 480h1M126 480h1M139 480h1M153 480h1M180 480h1M190 480h1M215 480h1M229 480h1M110 481h1M130 481h1M145 481h1M155 481h1M182 481h1M184 481h1M188 481h1M213 481h1M220 481h1M106 482h1M108 482h2M111 482h1M138 482h1M146 482h1M162 482h1M176 482h1M185 482h1M213 482h2M228 482h1M98 483h1M104 483h2M138 483h1M142 483h1M144 483h1M194 483h1M196 483h1M204 483h1M221 483h1M252 483h1M108 484h1M121 484h1M123 484h2M126 484h1M175 484h1M239 484h1M277 484h1M285 484h1M288 484h1M95 485h1M123 485h1M218 485h1M235 485h1M241 485h1M251 485h1M282 485h1M289 485h1M300 485h1M141 486h1M145 486h1M176 486h1M273 486h1M101 487h1M105 487h1M184 487h1M215 487h1M228 487h1M240 487h1M247 487h1M276 487h1M282 487h1M288 487h1M104 488h1M113 488h1M119 488h1M128 488h1M137 488h2M178 488h1M202 488h1M207 488h1M257 488h1M260 488h1M267 488h5M276 488h2M288 488h1M97 489h1M101 489h1M105 489h1M127 489h1M186 489h1M213 489h2M238 489h1M242 489h1M245 489h1M250 489h2M253 489h1M258 489h1M263 489h1M270 489h2M309 489h1M100 490h1M107 490h1M116 490h1M130 490h1M133 490h1M139 490h1M176 490h1M225 490h4M231 490h1M244 490h1M253 490h2M259 490h2M264 490h2M274 490h1M284 490h1M301 490h1M117 491h1M148 491h1M155 491h1M164 491h1M170 491h1M193 491h1M208 491h1M226 491h1M240 491h1M269 491h2M277 491h1M114 492h1M161 492h1M163 492h1M173 492h1M184 492h1M189 492h2M196 492h3M201 492h1M204 492h2M225 492h1M233 492h1M246 492h1M253 492h4M259 492h1M262 492h2M266 492h1M268 492h1M277 492h1M117 493h1M155 493h1M182 493h1M184 493h1M200 493h2M211 493h1M222 493h1M235 493h1M238 493h1M241 493h1M244 493h1M273 493h1M281 493h1M293 493h1M332 493h1M123 494h1M135 494h1M165 494h2M171 494h2M181 494h2M184 494h1M197 494h3M205 494h1M208 494h1M218 494h1M237 494h1M239 494h1M266 494h1M268 494h1M96 495h1M125 495h1M138 495h2M157 495h1M160 495h3M165 495h1M167 495h1M169 495h1M171 495h1M198 495h1M204 495h1M125 496h1M151 496h2M156 496h2M165 496h1M178 496h1M209 496h1M223 496h1M229 496h1M239 496h1M264 496h1M271 496h1M294 496h1M296 496h1M116 497h1M149 497h1M159 497h1M163 497h1M165 497h1M174 497h1M183 497h1M214 497h1M244 497h1M259 497h1M267 497h1M93 498h1M125 498h1M139 498h1M158 498h1M195 498h2M198 498h1M202 498h1M209 498h2M219 498h1M255 498h1M106 499h1M129 499h1M141 499h1M168 499h1M175 499h1M178 499h1M204 499h1M217 499h1M236 499h1M248 499h1M262 499h1M120 500h1M123 500h1M128 500h1M143 500h1M147 500h1M154 500h1M196 500h1M214 500h1M226 500h1M243 500h1M107 501h1M109 501h1M111 501h2M115 501h1M130 501h1M134 501h1M154 501h1M171 501h1M182 501h1M188 501h1M199 501h1M239 501h1M261 501h1M356 501h1M117 502h1M121 502h1M137 502h1M140 502h1M146 502h1M175 502h1M187 502h1M205 502h1M291 502h1M93 503h2M103 503h1M106 503h1M108 503h1M112 503h1M116 503h1M121 503h2M141 503h1M145 503h1M155 503h1M189 503h1M201 503h1M214 503h1M222 503h1M239 503h1M252 503h1M101 504h1M112 504h1M118 504h1M124 504h1M126 504h1M139 504h1M182 504h1M192 504h1M200 504h1M222 504h1M232 504h1M259 504h1M275 504h1M95 505h1M105 505h1M108 505h1M129 505h1M142 505h1M158 505h1M224 505h1M230 505h1M256 505h1M125 506h1M140 506h1M156 506h1M185 506h1M187 506h1M204 506h1M128 507h1M151 507h1M156 507h1M185 507h1M187 507h1M271 507h1M96 508h1M119 508h1M165 508h1M237 508h1M323 508h1M103 509h1M129 509h1M179 509h1M195 509h1M226 509h1M247 509h1M278 509h1M116 510h2M119 510h1M196 510h2M212 510h1M224 510h1M237 510h2M106 511h1M122 511h1M139 511h1M148 511h2M197 511h1M204 511h1M231 511h1M236 511h1M243 511h1M279 511h1M127 512h1M134 512h1M140 512h1M154 512h1M174 512h1M189 512h1M195 512h1M198 512h1M201 512h1M207 512h2M220 512h1M274 512h2M94 513h1M106 513h1M153 513h1M198 513h1M203 513h2M320 513h1M164 514h1M185 514h1M209 514h1M308 514h1M92 515h1M115 515h1M157 515h1M162 515h1M172 515h1M176 515h1M191 515h1M227 515h1M231 515h1M147 516h1M150 516h1M221 516h1M239 516h1M244 516h1M289 516h1M99 517h1M137 517h1M158 517h1M172 517h1M205 517h1M218 517h1M122 518h1M141 518h1M145 518h1M151 518h1M156 518h1M161 518h1M163 518h1M211 518h1M93 519h1M118 519h1M132 519h1M141 519h1M150 519h1M188 519h1M222 519h1M232 519h1M246 519h1M272 519h1M93 520h1M95 520h1M152 520h1M192 520h1M209 520h1M141 521h1M145 521h1M152 521h1M238 521h1M290 521h1M111 522h1M141 522h1M173 522h1M233 522h1M144 523h1M185 523h1M198 523h1M299 523h1M96 524h1M136 525h1M141 525h1M146 525h1M195 525h1M114 526h1M179 526h1M93 527h1M131 527h1M184 527h1M248 527h1M102 528h1M122 528h1M154 529h1M268 529h1M129 530h1M184 530h1M235 530h1M101 531h1M150 531h1M138 533h1M199 533h1M228 534h1M264 534h1M96 535h1M98 535h1M119 535h1M190 535h1M198 535h1M214 535h1M201 536h1M259 536h1M102 537h1M105 537h1M145 537h1M105 538h1M115 540h1M135 541h1M139 542h1M145 542h1M164 542h1M97 543h1M112 543h1M232 543h1M94 544h1M112 544h1M181 544h1M104 546h1M163 546h1M197 547h1M154 549h1M285 551h1M97 552h1M149 552h1M109 553h1M278 553h1M149 554h1M218 554h1M93 555h1M217 555h1M168 557h1M242 557h1M109 561h1M128 561h1M122 562h1M234 562h1M243 562h1M120 563h1M199 563h1M101 566h1M142 566h1M176 566h1M196 566h1M157 568h1M102 569h1M94 570h1M142 570h1M261 570h1M187 571h1M195 571h1M101 574h1M94 578h1M102 578h1M132 580h1M122 582h1M179 582h1M114 590h1M244 590h1M132 592h1M303 593h1M105 594h1M128 595h1M106 602h1M115 606h1M95 611h1M106 614h1"/><path stroke="#fbe5d8" d="M443 462h1M455 462h2M472 462h1M478 462h1M452 463h1M460 463h1M469 463h1M478 463h1M465 464h1M497 464h1M500 464h1M505 464h1M459 465h1M471 466h1M514 466h1M520 466h1M454 467h1M530 467h1M532 467h1M454 468h1M456 469h1M540 469h2M545 470h1M464 471h1M561 471h1M458 472h1M561 472h1M452 473h1M570 473h1M575 474h1M439 475h1M578 475h1M426 476h1M431 476h1M415 477h1M424 477h2M404 478h1M417 478h1M436 478h1M400 479h1M412 479h1M416 479h1M403 480h1M406 480h2M415 480h1M420 480h1M434 480h1M444 480h1M447 480h1M401 481h1M407 481h1M412 481h1M425 481h1M427 481h1M449 481h1M458 481h1M461 481h1M464 481h1M472 481h1M478 481h1M483 481h1M461 482h1M477 482h1M482 482h1M493 482h1M495 482h2M499 482h1M480 483h1M486 483h1M500 483h1M503 483h2M382 484h1M385 484h1M388 484h1M415 484h1M423 484h1M425 484h1M489 484h1M508 484h1M510 484h2M397 485h1M421 485h1M433 485h1M510 485h1M513 485h1M517 485h1M407 486h1M434 486h1M447 486h1M469 486h1M517 486h1M539 486h1M351 487h1M398 487h1M486 487h1M537 487h1M539 487h1M468 488h1M480 488h1M527 488h1M536 488h1M460 489h1M505 489h1M527 489h1M530 489h1M553 489h1M517 490h1M532 490h1M562 490h1M386 491h1M483 491h1M490 491h1M552 491h1M565 491h1M353 492h1M371 492h1M417 492h1M443 492h1M459 492h1M465 492h1M513 492h1M517 492h1M540 492h1M443 493h1M540 493h1M571 493h1M510 494h1M520 494h1M553 494h1M559 494h1M399 495h1M407 495h1M509 495h1M512 495h1M555 495h1M573 495h1M521 496h1M409 497h1M454 497h1M534 497h1M557 497h1M559 497h1M569 497h1M528 498h1M575 498h1M578 498h1M540 499h1M436 500h1M466 500h1M491 500h1M501 500h1M454 501h1M470 501h1M474 501h2M512 501h1M538 501h1M549 501h1M476 502h1M478 502h1M482 502h1M488 502h1M546 502h1M574 502h1M451 503h1M501 503h1M539 503h1M567 503h1M417 504h1M459 504h1M486 504h1M498 504h1M575 504h1M424 505h1M499 505h1M501 505h1M505 505h1M564 505h1M473 506h1M514 506h1M517 506h1M561 506h1M576 506h1M403 507h1M489 507h1M492 507h1M501 507h1M508 507h1M525 507h1M415 508h1M483 508h2M522 508h1M528 508h1M554 508h1M509 509h1M570 509h1M320 512h1M413 512h1M489 512h1M491 512h1M508 512h1M554 512h1M562 512h1M567 512h1M521 513h1M503 514h1M542 514h1M546 514h1M479 515h1M573 515h1M568 517h1M570 519h1M557 521h1M496 522h1M557 523h1M492 524h1M525 525h1M561 526h1M578 528h1M573 529h1M437 530h1M493 530h1M574 530h1M505 532h1M553 533h1M573 533h1M571 540h1M449 543h1M523 546h1M574 546h1M416 548h1M543 556h1M546 561h1M559 565h1M580 569h1M531 583h1M571 588h1M459 608h1M569 612h1"/><path stroke="#deebf2" d="M256 469h1M266 469h1M269 469h1M225 470h1M235 470h1M253 470h1M262 470h1M202 471h1M218 471h1M234 471h1M238 471h2M243 471h1M185 472h1M194 472h1M198 472h1M208 472h1M210 472h1M227 472h1M93 473h1M172 473h3M179 473h1M182 473h1M188 473h1M200 473h1M237 473h1M92 474h1M162 474h1M170 474h1M172 474h2M192 474h1M230 474h1M92 475h2M157 475h1M189 475h1M92 476h1M144 476h2M192 476h1M137 477h1M143 477h1M148 477h1M200 477h1M214 477h1M93 478h1M97 478h1M132 478h1M134 478h1M137 478h1M141 478h1M158 478h1M168 478h1M226 478h1M118 479h1M121 479h1M129 479h2M166 479h1M182 479h1M197 479h1M225 479h1M112 480h1M119 480h2M125 480h1M135 480h1M95 481h1M107 481h1M124 481h1M137 481h1M144 481h1M175 481h1M224 481h1M92 482h1M95 482h1M101 482h1M136 482h1M178 482h1M92 483h1M95 483h1M100 483h1M198 483h1M98 484h1M101 484h1M97 485h1M106 485h1M126 485h1M207 485h1M149 486h1M106 487h1M114 487h1M164 487h1M177 487h1M222 487h1M326 487h1M173 488h1M201 488h1M243 488h1M256 488h1M258 488h2M275 488h1M285 488h1M327 488h1M111 489h1M232 489h1M244 489h1M249 489h1M257 489h1M264 489h1M272 489h1M275 489h1M277 489h1M239 490h1M248 490h2M252 490h1M258 490h1M262 490h1M115 491h1M160 491h1M203 491h1M207 491h1M210 491h1M215 491h1M217 491h3M227 491h2M234 491h1M246 491h2M257 491h1M261 491h3M272 491h1M186 492h2M191 492h1M199 492h1M238 492h1M241 492h1M247 492h1M260 492h1M265 492h1M289 492h1M187 493h1M206 493h1M227 493h2M233 493h1M245 493h1M183 494h1M227 494h1M158 495h1M175 495h1M199 495h1M231 495h1M268 495h1M150 496h1M153 496h1M158 496h1M190 496h1M200 496h1M210 496h1M214 496h1M272 496h1M115 497h1M130 497h1M137 497h1M144 497h2M180 497h1M246 497h1M130 498h1M134 498h1M137 498h2M130 499h2M134 499h1M144 499h1M151 499h1M162 499h1M256 499h1M119 500h1M126 500h1M142 500h1M153 500h1M167 500h1M118 501h1M135 501h1M139 501h1M245 501h1M111 502h2M149 502h1M179 502h1M102 503h1M138 503h1M238 503h1M98 504h1M100 504h1M130 504h1M176 504h1M196 504h1M277 504h1M127 505h1M235 505h1M288 505h1M304 505h1M136 506h1M155 506h1M137 508h1M210 508h1M288 508h1M109 509h1M134 509h1M144 509h1M212 509h1M250 509h1M255 509h1M261 509h1M97 510h1M99 510h1M108 510h1M156 510h1M198 510h1M234 510h1M241 510h1M249 510h1M258 510h1M260 510h1M120 511h1M166 511h1M199 511h1M223 511h1M229 511h1M247 511h1M92 512h1M101 512h1M112 512h1M181 512h1M205 512h1M228 512h1M146 513h1M170 513h1M176 513h1M194 513h1M120 514h1M131 514h1M158 514h1M182 514h1M198 514h1M237 514h1M98 515h1M150 515h1M156 515h1M192 515h1M239 515h1M248 515h1M118 516h1M171 516h1M94 517h1M145 517h1M151 517h1M161 517h1M168 517h1M180 517h1M197 517h1M262 517h1M134 518h1M167 518h1M191 518h1M161 519h1M250 519h1M150 520h1M200 520h1M264 521h1M159 522h1M308 522h1M98 523h1M130 523h1M149 523h1M176 523h1M113 524h1M116 526h1M159 526h1M308 526h1M320 526h1M101 527h1M122 529h1M135 529h1M164 529h1M339 529h1M135 530h1M128 532h1M202 532h1M160 534h1M139 535h1M181 535h1M313 535h1M105 536h1M202 537h1M104 538h1M120 538h1M234 539h1M185 540h1M200 540h1M98 542h1M98 544h1M102 549h1M109 549h1M106 550h1M190 558h1M231 560h1M179 563h1M225 565h1M113 569h1M171 581h1M94 582h1M135 586h1M95 595h1M205 608h1M107 610h1"/><path stroke="#fddcc9" d="M440 462h1M442 462h1M464 463h1M473 463h1M492 464h1M458 465h1M510 465h1M523 466h1M521 467h1M529 467h1M544 469h1M551 471h1M556 471h1M462 472h1M455 473h1M569 473h1M579 474h1M447 476h1M407 479h1M402 480h1M405 480h1M429 480h1M440 480h1M456 480h1M472 480h1M474 480h1M399 481h1M418 481h1M431 481h1M447 481h2M453 484h1M516 484h1M523 485h1M519 486h1M481 487h1M497 487h1M537 488h1M548 488h1M389 489h1M430 489h1M521 489h1M549 489h2M555 489h1M455 490h1M485 490h1M531 490h1M555 490h1M561 491h1M570 492h1M316 493h1M496 494h1M578 494h1M468 496h1M520 496h1M415 497h1M531 497h1M512 498h1M417 499h1M487 499h1M411 500h1M539 501h1M486 502h1M560 502h1M494 503h1M547 503h1M557 503h1M566 503h1M495 505h1M513 505h1M454 506h1M502 507h1M335 508h1M414 509h1M538 509h1M542 509h1M546 509h1M542 511h1M566 512h1M503 513h1M565 514h1M515 516h1M549 516h1M573 516h1M575 516h1M539 518h1M540 519h1M565 519h1M499 520h1M535 520h1M532 521h1M481 527h1M576 527h1M454 530h1M317 532h1M575 535h1M568 537h1M404 540h1M555 555h1M483 565h1M525 565h1M509 616h1"/><path stroke="#d3e6f0" d="M251 469h1M226 470h1M233 470h1M236 470h1M254 470h1M261 470h1M200 471h1M206 471h2M209 471h1M217 471h1M236 471h1M185 473h1M100 474h1M166 474h1M169 474h1M95 475h1M156 475h1M161 475h1M142 476h1M153 476h1M158 476h1M95 477h1M144 477h1M95 478h1M99 478h1M126 478h1M109 480h1M111 480h1M119 481h1M136 481h1M141 481h1M93 482h1M99 482h1M105 482h1M131 482h1M107 483h1M100 484h1M220 484h1M92 485h1M269 485h1M144 486h1M289 486h1M120 488h1M152 488h1M235 489h1M274 489h1M285 489h1M323 489h1M222 490h1M233 490h1M236 490h1M238 490h1M240 490h1M243 490h1M275 490h2M213 491h1M259 491h1M264 491h1M192 492h1M194 492h1M206 492h1M211 492h1M261 492h1M267 492h1M272 492h1M276 492h1M193 493h1M218 493h1M220 493h1M168 494h1M161 496h1M163 496h1M206 496h1M211 496h1M138 497h1M147 497h1M178 497h1M263 497h1M273 497h1M357 497h1M142 498h1M166 498h1M167 499h1M189 499h1M191 499h1M272 499h1M330 499h1M116 501h1M120 501h1M144 501h1M164 501h1M168 501h1M110 502h1M101 503h1M115 503h1M127 503h1M139 503h1M172 503h1M224 504h1M271 504h1M138 505h1M154 505h1M122 506h1M165 507h1M208 507h1M254 507h1M125 508h1M184 508h1M196 508h1M178 509h1M104 510h1M115 510h1M242 510h1M246 510h1M289 510h1M202 511h1M209 511h1M212 511h1M232 511h1M283 511h1M180 512h1M191 512h1M206 512h1M210 512h1M216 512h1M95 513h1M104 513h1M197 513h1M251 515h1M175 517h1M143 518h1M152 518h1M157 518h1M192 519h1M243 519h1M267 521h1M92 522h1M199 523h1M218 523h1M250 524h1M217 525h1M152 526h1M105 529h1M123 529h1M138 529h1M95 531h1M101 532h1M169 532h1M244 535h1M117 537h1M109 538h1M153 543h1M105 548h1M141 550h1M126 555h1M145 564h1M172 570h1M265 577h1M226 609h1"/><path stroke="#facbb2" d="M524 467h1M533 468h1M433 476h1M433 480h1M445 480h2M451 480h1M486 481h1M456 482h1M505 482h1M506 483h1M511 483h1M507 484h1M437 485h1M487 485h1M495 485h1M525 485h1M448 486h1M483 488h1M533 488h1M473 489h1M539 490h1M471 491h1M496 491h1M490 492h1M326 493h1M463 494h1M352 498h1M536 498h1M420 500h1M430 500h1M433 500h1M473 502h1M525 503h1M447 506h1M557 507h1M571 507h1M533 513h1M555 513h1M515 522h1M571 526h1M518 528h1M466 554h1M539 578h1"/><path stroke="#bedbeb" d="M255 469h1M265 469h1M223 470h1M238 470h1M245 470h1M255 470h1M263 470h1M210 471h1M191 472h1M236 472h1M178 473h1M161 474h1M166 475h1M124 480h1M108 481h1M107 482h1M154 483h1M92 484h1M93 486h1M245 488h1M273 488h1M239 489h1M254 489h1M267 489h1M269 489h1M276 489h1M223 490h1M241 490h1M257 490h1M280 490h1M216 491h1M241 491h1M254 491h1M268 491h1M203 492h1M243 492h1M180 493h1M189 493h1M215 493h1M173 494h1M176 494h1M166 495h1M250 495h1M162 496h1M186 496h1M162 500h1M197 500h1M262 500h1M106 501h1M113 501h1M224 502h1M95 503h1M191 503h1M218 504h1M112 505h1M162 505h1M124 506h1M132 508h1M244 511h1M188 512h1M154 513h1M224 513h1M253 513h1M173 515h1M180 516h1M192 516h1M148 517h1M226 521h1M183 524h1M136 527h1M191 538h1M231 544h1M96 549h1M100 550h1M210 550h1M103 553h1M135 558h1M207 558h1M118 562h1M128 571h1M112 577h1M137 590h1"/><path stroke="#f7b597" d="M444 463h1M490 464h1M453 473h1M449 477h1M439 480h1M461 480h1M482 481h1M415 482h1M489 482h1M457 483h1M507 483h1M519 484h1M488 485h1M397 487h1M551 489h1M543 491h1M558 493h1M413 497h1M427 499h1M537 500h1M578 500h1M409 501h1M514 503h1M498 505h1M426 508h1M575 510h1M571 516h1M577 519h1M448 525h1M566 529h1M532 537h1M452 538h1"/><path stroke="#a5cfe3" d="M242 470h1M183 472h1M205 472h1M209 472h1M181 473h1M168 474h1M93 476h1M155 476h1M103 481h1M105 481h1M95 484h1M97 484h1M98 485h1M148 487h1M242 488h1M115 489h1M246 489h2M263 490h1M278 490h1M212 491h1M276 491h1M175 494h1M223 495h1M148 496h1M132 499h1M176 500h1M108 501h1M172 501h1M260 509h1M236 510h1M189 513h1M160 514h1M155 515h1M128 516h1M117 517h1M243 520h1M204 521h1M150 527h1M209 530h1M139 532h1M159 535h1M94 536h1M112 556h1"/><path stroke="#8ac0db" d="M222 471h1M150 477h1M102 481h1M116 481h1M97 482h1M113 482h1M217 490h1M232 490h1M140 498h1M137 501h1M224 509h1M240 512h1M142 519h1M240 523h1M215 533h1"/><path stroke="#6aacd0" d="M247 470h1M249 470h1M231 471h1M211 472h1M165 475h1M123 480h1M96 482h1M286 483h1M99 485h1M94 486h1M240 493h1M174 500h1M113 502h1M175 504h1M156 521h1M249 524h1M275 545h1M134 558h1M128 559h1M97 617h1"/></g>
<rect x="90" y="423" width="493" height="198" fill="none" stroke="#000" stroke-width="2" shape-rendering="crispEdges"/>
<g fill="#000"><rect x="89" y="622" width="2" height="6"/><rect x="115" y="622" width="1" height="3.4"/><rect x="139" y="622" width="1" height="3.4"/><rect x="164" y="622" width="1" height="3.4"/><rect x="189" y="622" width="1" height="3.4"/><rect x="212" y="622" width="2" height="6"/><rect x="238" y="622" width="1" height="3.4"/><rect x="263" y="622" width="1" height="3.4"/><rect x="287" y="622" width="1" height="3.4"/><rect x="312" y="622" width="1" height="3.4"/><rect x="335" y="622" width="2" height="6"/><rect x="361" y="622" width="1" height="3.4"/><rect x="386" y="622" width="1" height="3.4"/><rect x="410" y="622" width="1" height="3.4"/><rect x="435" y="622" width="1" height="3.4"/><rect x="458" y="622" width="2" height="6"/><rect x="484" y="622" width="1" height="3.4"/><rect x="509" y="622" width="1" height="3.4"/><rect x="534" y="622" width="1" height="3.4"/><rect x="558" y="622" width="1" height="3.4"/><rect x="582" y="622" width="2" height="6"/><rect x="86" y="444" width="3" height="1"/><rect x="86" y="469" width="3" height="1"/><rect x="86" y="493" width="3" height="1"/><rect x="82.8" y="517" width="6.2" height="2"/><rect x="86" y="543" width="3" height="1"/><rect x="86" y="567" width="3" height="1"/><rect x="86" y="592" width="3" height="1"/><rect x="86" y="616" width="3" height="1"/></g>
<g font-size="25.0"><text transform="translate(65.94,655.95) scale(1.316,0.8)" font-size="25.0" stroke="none">−</text><text x="84.95" y="655.6999999999999">10</text><text transform="translate(195.44,655.95) scale(1.316,0.8)" font-size="25.0" stroke="none">−</text><text x="213.5" y="655.6999999999999">5</text><text x="336.3" y="653.8" text-anchor="middle">0</text><text x="459.1" y="653.8" text-anchor="middle">5</text><text x="581.4" y="653.8" text-anchor="middle">10</text><text x="74.9" y="527.6" text-anchor="end">75</text><g transform="translate(301.3,684.8)"><text x="0" y="0">y [</text><text transform="translate(27.68,0) scale(1.27,1)" font-style="italic">μ</text><text x="43.98" y="0">m]</text></g><g transform="translate(36,557.6999999999999) rotate(-90)"><text x="0" y="0">x [</text><text transform="translate(27.68,0) scale(1.27,1)" font-style="italic">μ</text><text x="43.98" y="0">m]</text></g></g>
<text x="336.5" y="409.2" font-size="29.7" text-anchor="middle">transverse current</text>
<rect x="590.2" y="423.1" width="24.8" height="197.9" fill="url(#cb)" stroke="#000" stroke-width="1.7"/>
<g fill="#000" shape-rendering="crispEdges"><rect x="616" y="422" width="6" height="2"/><rect x="616" y="426" width="6" height="2"/><rect x="616" y="431" width="6" height="2"/><rect x="616" y="439" width="6" height="2"/><rect x="616" y="451" width="6" height="2"/><rect x="616" y="453" width="6" height="2"/><rect x="616" y="455" width="6" height="2"/><rect x="616" y="457" width="6" height="2"/><rect x="616" y="460" width="6" height="2"/><rect x="616" y="463" width="6" height="2"/><rect x="616" y="467" width="6" height="2"/><rect x="616" y="472" width="6" height="2"/><rect x="616" y="480" width="6" height="2"/><rect x="616" y="492" width="6" height="2"/><rect x="616" y="521" width="6" height="2"/><rect x="616" y="550" width="6" height="2"/><rect x="616" y="562" width="6" height="2"/><rect x="616" y="569" width="6" height="2"/><rect x="616" y="574" width="6" height="2"/><rect x="616" y="578" width="6" height="2"/><rect x="616" y="582" width="6" height="2"/><rect x="616" y="584" width="6" height="2"/><rect x="616" y="587" width="6" height="2"/><rect x="616" y="589" width="6" height="2"/><rect x="616" y="591" width="6" height="2"/><rect x="616" y="603" width="6" height="2"/><rect x="616" y="610" width="6" height="2"/><rect x="616" y="615" width="6" height="2"/><rect x="616" y="619" width="6" height="2"/></g>
<rect x="616" y="452" width="6" height="6" fill="#2b2b2b"/>
<rect x="616" y="585" width="6" height="7" fill="#2b2b2b"/>
<g font-size="25.0"><text x="628.8" y="462.10">10<tspan font-size="17.5" dy="-10.3" dx="-1.7">15</tspan></text><text x="628.8" y="503.10">10<tspan font-size="17.5" dy="-10.3" dx="-1.7">14</tspan></text><text x="629.4" y="530.70">0</text><text transform="translate(628.44,562.25) scale(1.316,0.8)" font-size="25.0" stroke="none">−</text><text x="647.6" y="562.00">10<tspan font-size="17.5" dy="-10.3" dx="-1.7">14</tspan></text><text transform="translate(628.44,603.05) scale(1.316,0.8)" font-size="25.0" stroke="none">−</text><text x="647.6" y="602.80">10<tspan font-size="17.5" dy="-10.3" dx="-1.7">15</tspan></text><g transform="translate(722.5,616.0) rotate(-90)"><text x="0" y="0">Current/Jy [A</text><text transform="translate(139.2,5.6) scale(1.12,1.45)" stroke="none">/</text><text x="149.6" y="0">m</text><text x="169.0" y="-10.3" font-size="17.5">2</text><text x="178.7" y="0">]</text></g></g>
</svg></body></html>
